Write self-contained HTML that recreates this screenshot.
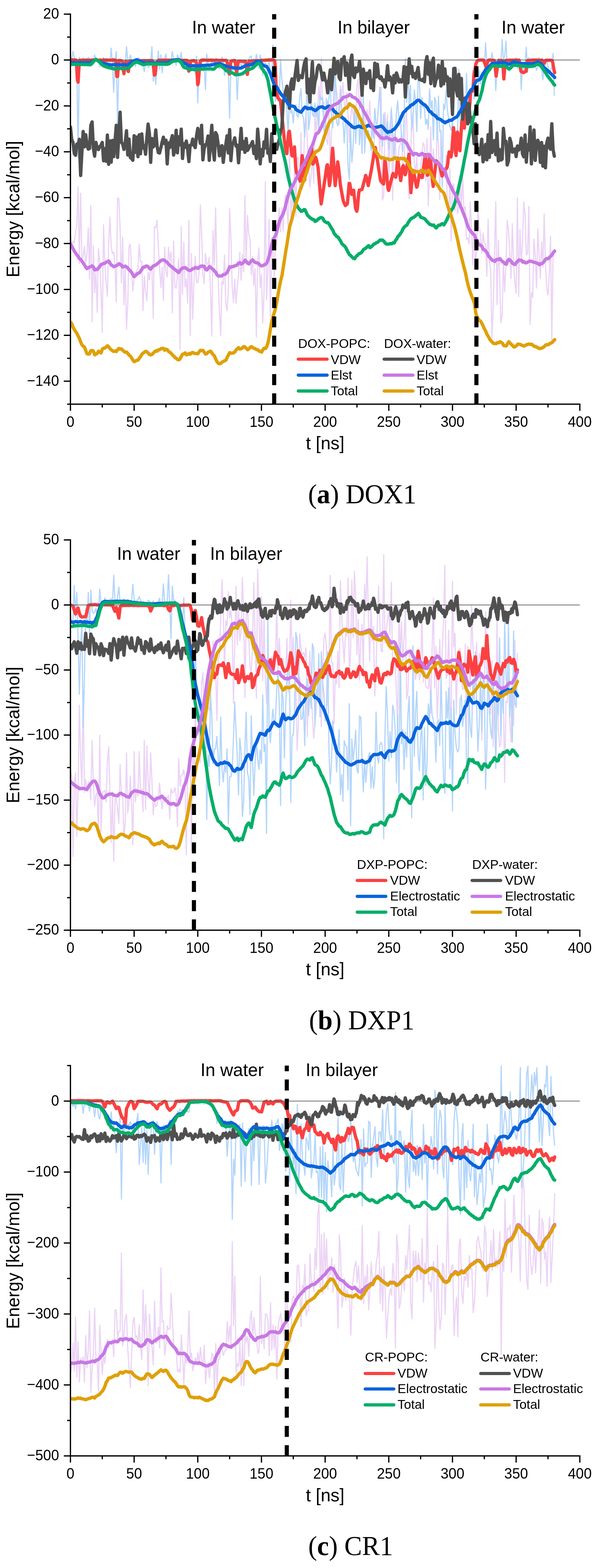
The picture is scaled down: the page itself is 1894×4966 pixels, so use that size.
<!DOCTYPE html>
<html lang="en"><head><meta charset="utf-8"><title>Interaction energies</title>
<style>
html,body{margin:0;padding:0;background:#fff}
svg{display:block}
text{font-family:"Liberation Sans",Arial,sans-serif;fill:#000}
.tk{font-size:45.2px}
.lb{font-size:56.4px}
.rg{font-size:51px}
.lg{font-size:40.7px}
.cap{font-family:"Liberation Serif","Times New Roman",serif;font-size:84px}
.ax{stroke:#000;stroke-width:4.0;fill:none}
polyline{fill:none;stroke-linejoin:round;stroke-linecap:round}
</style></head>
<body>
<svg width="1894" height="4966" viewBox="0 0 1894 4966">
<clipPath id="c0"><rect x="223.1" y="44.7" width="1633.3" height="1235.3"/></clipPath>
<g clip-path="url(#c0)">
<polyline points="223.1,738.9 227.1,775.5 231.2,764.8 235.2,769.0 239.2,733.4 243.3,716.5 247.3,591.5 251.3,834.2 255.4,612.1 259.4,818.3 263.4,813.1 267.5,780.5 271.5,832.8 275.5,803.6 279.6,722.0 283.6,883.5 287.6,651.0 291.7,1019.8 295.7,778.7 299.7,927.0 303.8,859.9 307.8,988.7 311.8,788.2 315.9,827.4 319.9,918.8 323.9,1052.3 328.0,712.0 332.0,837.8 336.0,893.2 340.1,938.9 344.1,772.7 348.1,687.4 352.2,781.6 356.2,803.3 360.2,798.4 364.3,845.8 368.3,956.6 372.3,626.7 376.4,629.2 380.4,721.8 384.4,896.2 388.5,750.5 392.5,965.0 396.5,840.9 400.6,1042.5 404.6,963.4 408.6,780.9 412.7,773.2 416.7,856.9 420.7,921.7 424.8,881.8 428.8,864.0 432.8,859.2 436.9,847.8 440.9,774.0 444.9,829.9 449.0,827.7 453.0,983.8 457.0,873.8 461.1,922.4 465.1,952.1 469.1,861.1 473.2,886.1 477.2,845.5 481.2,853.4 485.3,1008.1 489.3,718.0 493.3,721.5 497.4,697.7 501.4,779.9 505.4,849.4 509.5,910.1 513.5,846.3 517.5,951.4 521.6,782.8 525.6,860.8 529.6,877.5 533.7,782.9 537.7,824.4 541.7,797.6 545.8,990.9 549.8,762.8 553.8,909.5 557.9,912.9 561.9,873.2 565.9,819.3 570.0,1106.1 574.0,717.2 578.0,932.2 582.1,767.6 586.1,908.5 590.1,884.1 594.2,959.8 598.2,697.7 602.2,1062.1 606.3,803.0 610.3,1010.9 614.3,893.7 618.4,811.1 622.4,894.3 626.4,894.9 630.5,864.5 634.5,648.8 638.5,734.3 642.6,867.1 646.6,899.1 650.6,802.4 654.7,835.9 658.7,836.8 662.7,815.5 666.8,918.9 670.8,1064.5 674.8,730.1 678.9,839.2 682.9,658.5 686.9,855.8 691.0,882.1 695.0,986.2 699.0,1062.1 703.1,890.9 707.1,900.6 711.1,807.7 715.2,963.5 719.2,983.9 723.2,920.3 727.3,661.0 731.3,749.4 735.3,905.9 739.4,958.2 743.4,884.4 747.4,960.6 751.5,909.1 755.5,871.2 759.5,798.7 763.6,887.3 767.6,806.1 771.6,860.5 775.7,619.4 779.7,837.5 783.7,682.0 787.8,741.3 791.8,755.0 795.8,871.2 799.9,812.3 803.9,903.9 807.9,851.0 812.0,1067.0 816.0,830.9 820.0,784.9 824.1,911.4 828.1,869.2 832.1,1022.9 836.2,926.7 840.2,575.4 844.2,949.4 848.3,858.6 852.3,695.2 856.3,1002.0 860.4,806.0 864.4,784.0 868.4,876.8 872.5,773.3 876.5,775.1 880.5,705.3 884.6,658.4 888.6,734.3 892.6,658.0 896.7,732.0 900.7,651.0 904.7,617.3 908.8,662.2 912.8,722.7 916.8,476.5 920.9,688.0 924.9,628.3 928.9,657.6 933.0,527.0 937.0,685.3 941.0,500.1 945.1,498.9 949.1,609.4 953.1,420.9 957.2,598.4 961.2,526.9 965.2,403.8 969.3,367.2 973.3,450.9 977.3,520.9 981.4,592.0 985.4,559.2 989.4,486.5 993.5,580.9 997.5,351.2 1001.5,417.9 1005.6,362.4 1009.6,273.9 1013.6,327.8 1017.7,184.1 1021.7,353.4 1025.7,322.4 1029.8,434.6 1033.8,442.8 1037.8,457.5 1041.8,326.7 1045.9,538.9 1049.9,412.8 1053.9,395.5 1058.0,230.1 1062.0,252.9 1066.0,286.8 1070.1,314.6 1074.1,394.7 1078.1,271.0 1082.2,306.4 1086.2,260.8 1090.2,326.8 1094.3,344.0 1098.3,294.7 1102.3,368.1 1106.4,450.6 1110.4,377.2 1114.4,336.4 1118.5,363.9 1122.5,395.9 1126.5,370.0 1130.6,272.1 1134.6,250.2 1138.6,347.6 1142.7,297.0 1146.7,356.9 1150.7,398.2 1154.8,427.0 1158.8,364.7 1162.8,346.5 1166.9,401.9 1170.9,319.1 1174.9,388.5 1179.0,514.7 1183.0,468.8 1187.0,428.1 1191.1,396.1 1195.1,409.7 1199.1,402.0 1203.2,480.4 1207.2,275.8 1211.2,633.6 1215.3,622.7 1219.3,355.3 1223.3,423.7 1227.4,363.6 1231.4,559.7 1235.4,458.1 1239.5,338.7 1243.5,634.2 1247.5,437.4 1251.6,416.7 1255.6,548.2 1259.6,525.6 1263.7,467.9 1267.7,457.5 1271.7,417.2 1275.8,537.2 1279.8,514.7 1283.8,397.5 1287.9,353.4 1291.9,527.0 1295.9,629.2 1300.0,521.2 1304.0,385.3 1308.0,357.1 1312.1,519.8 1316.1,543.3 1320.1,497.9 1324.2,569.7 1328.2,537.9 1332.2,537.7 1336.3,486.6 1340.3,452.2 1344.3,464.0 1348.4,574.3 1352.4,438.5 1356.4,651.2 1360.5,548.8 1364.5,401.4 1368.5,581.9 1372.6,472.2 1376.6,553.3 1380.6,530.3 1384.7,403.4 1388.7,462.5 1392.7,632.0 1396.8,410.5 1400.8,539.0 1404.8,536.9 1408.9,563.1 1412.9,491.7 1416.9,647.8 1421.0,700.5 1425.0,532.8 1429.0,763.9 1433.1,592.2 1437.1,582.5 1441.1,667.4 1445.2,617.4 1449.2,677.3 1453.2,654.0 1457.3,572.2 1461.3,667.7 1465.3,550.9 1469.4,667.9 1473.4,654.3 1477.4,758.2 1481.5,753.5 1485.5,772.3 1489.5,638.8 1493.6,725.1 1497.6,838.8 1501.6,704.0 1505.7,844.9 1509.7,793.2 1513.7,662.7 1517.8,719.6 1521.8,741.8 1525.8,801.7 1529.9,738.0 1533.9,770.6 1537.9,771.8 1542.0,874.6 1546.0,694.5 1550.0,833.8 1554.1,851.4 1558.1,1071.8 1562.1,974.6 1566.2,801.8 1570.2,639.0 1574.2,964.5 1578.3,760.4 1582.3,868.2 1586.3,1022.3 1590.4,1000.9 1594.4,825.5 1598.4,923.9 1602.5,841.0 1606.5,697.0 1610.5,729.3 1614.6,807.0 1618.6,882.2 1622.6,708.3 1626.7,837.4 1630.7,896.8 1634.7,928.9 1638.8,626.7 1642.8,939.0 1646.8,726.0 1650.9,829.3 1654.9,771.9 1658.9,639.0 1663.0,679.8 1667.0,808.2 1671.0,802.8 1675.1,653.8 1679.1,1027.8 1683.1,927.0 1687.2,942.4 1691.2,757.7 1695.2,808.3 1699.3,912.1 1703.3,725.0 1707.3,802.4 1711.4,881.3 1715.4,766.3 1719.4,845.5 1723.5,678.1 1727.5,833.2 1731.5,911.2 1735.6,934.2 1739.6,866.9 1743.6,747.5 1747.7,1076.7 1751.7,811.5 1755.7,789.9" stroke="#ecd4f6" stroke-width="3.8" />
<polyline points="223.1,191.7 227.1,186.8 231.2,162.1 235.2,182.9 239.2,210.8 243.3,199.0 247.3,499.6 251.3,181.6 255.4,198.5 259.4,196.1 263.4,182.5 267.5,207.8 271.5,203.3 275.5,198.7 279.6,181.5 283.6,184.6 287.6,210.0 291.7,192.9 295.7,192.6 299.7,174.3 303.8,187.0 307.8,197.1 311.8,192.9 315.9,211.4 319.9,189.9 323.9,191.8 328.0,182.8 332.0,210.4 336.0,211.2 340.1,200.6 344.1,200.3 348.1,204.4 352.2,152.3 356.2,204.8 360.2,291.7 364.3,192.3 368.3,163.0 372.3,392.0 376.4,212.4 380.4,186.1 384.4,189.1 388.5,198.1 392.5,211.0 396.5,218.3 400.6,147.4 404.6,189.2 408.6,194.4 412.7,174.3 416.7,189.1 420.7,197.7 424.8,190.5 428.8,210.6 432.8,189.7 436.9,182.8 440.9,185.2 444.9,191.7 449.0,197.2 453.0,209.4 457.0,226.8 461.1,201.3 465.1,189.6 469.1,213.6 473.2,210.3 477.2,192.9 481.2,148.4 485.3,257.4 489.3,216.2 493.3,267.2 497.4,210.7 501.4,161.1 505.4,219.5 509.5,173.6 513.5,230.5 517.5,196.3 521.6,186.1 525.6,170.9 529.6,207.3 533.7,200.3 537.7,192.7 541.7,188.1 545.8,163.5 549.8,191.2 553.8,185.1 557.9,207.2 561.9,173.6 565.9,182.4 570.0,191.3 574.0,165.6 578.0,203.1 582.1,193.4 586.1,213.8 590.1,203.5 594.2,215.0 598.2,214.7 602.2,214.4 606.3,193.8 610.3,191.3 614.3,201.2 618.4,232.7 622.4,177.7 626.4,325.9 630.5,199.6 634.5,209.3 638.5,209.0 642.6,217.6 646.6,208.3 650.6,284.3 654.7,171.8 658.7,199.8 662.7,221.5 666.8,215.2 670.8,197.6 674.8,194.2 678.9,197.2 682.9,188.2 686.9,213.4 691.0,211.8 695.0,219.4 699.0,201.1 703.1,180.5 707.1,193.6 711.1,239.3 715.2,212.7 719.2,195.1 723.2,215.3 727.3,374.8 731.3,214.2 735.3,225.7 739.4,216.7 743.4,222.2 747.4,219.3 751.5,316.1 755.5,216.0 759.5,194.7 763.6,210.6 767.6,200.4 771.6,200.5 775.7,213.6 779.7,208.1 783.7,199.4 787.8,187.1 791.8,180.1 795.8,177.3 799.9,209.7 803.9,186.7 807.9,195.0 812.0,171.6 816.0,193.2 820.0,215.9 824.1,174.3 828.1,195.6 832.1,238.4 836.2,203.4 840.2,199.0 844.2,204.1 848.3,236.4 852.3,185.8 856.3,229.3 860.4,246.5 864.4,142.5 868.4,249.4 872.5,320.7 876.5,262.6 880.5,320.6 884.6,308.5 888.6,189.7 892.6,252.6 896.7,283.8 900.7,313.9 904.7,301.1 908.8,350.3 912.8,435.1 916.8,282.9 920.9,357.8 924.9,349.2 928.9,389.2 933.0,336.5 937.0,332.4 941.0,367.2 945.1,371.0 949.1,307.8 953.1,280.7 957.2,364.2 961.2,372.1 965.2,434.3 969.3,360.9 973.3,244.1 977.3,410.9 981.4,380.1 985.4,293.3 989.4,361.2 993.5,369.1 997.5,326.8 1001.5,369.7 1005.6,332.9 1009.6,414.2 1013.6,299.5 1017.7,315.6 1021.7,308.4 1025.7,412.6 1029.8,438.5 1033.8,311.8 1037.8,331.7 1041.8,313.4 1045.9,259.8 1049.9,375.5 1053.9,404.7 1058.0,321.2 1062.0,206.1 1066.0,387.5 1070.1,398.1 1074.1,362.6 1078.1,284.1 1082.2,352.0 1086.2,380.4 1090.2,452.0 1094.3,384.2 1098.3,382.6 1102.3,528.8 1106.4,568.0 1110.4,405.6 1114.4,514.2 1118.5,463.2 1122.5,340.1 1126.5,453.8 1130.6,360.1 1134.6,349.1 1138.6,458.3 1142.7,384.9 1146.7,486.1 1150.7,300.3 1154.8,483.4 1158.8,418.6 1162.8,419.0 1166.9,414.0 1170.9,434.1 1174.9,475.0 1179.0,400.7 1183.0,438.0 1187.0,344.5 1191.1,393.0 1195.1,389.5 1199.1,330.7 1203.2,276.2 1207.2,409.9 1211.2,464.2 1215.3,360.7 1219.3,421.7 1223.3,444.3 1227.4,385.6 1231.4,473.7 1235.4,401.4 1239.5,346.2 1243.5,404.0 1247.5,508.5 1251.6,438.6 1255.6,356.4 1259.6,319.3 1263.7,383.9 1267.7,364.4 1271.7,436.4 1275.8,479.0 1279.8,377.9 1283.8,186.5 1287.9,324.2 1291.9,211.2 1295.9,333.1 1300.0,269.3 1304.0,413.1 1308.0,371.8 1312.1,284.9 1316.1,320.5 1320.1,416.3 1324.2,249.7 1328.2,250.8 1332.2,375.5 1336.3,308.7 1340.3,338.5 1344.3,342.7 1348.4,394.1 1352.4,377.9 1356.4,409.4 1360.5,281.5 1364.5,341.8 1368.5,318.8 1372.6,442.8 1376.6,308.8 1380.6,321.2 1384.7,443.8 1388.7,304.1 1392.7,416.7 1396.8,419.9 1400.8,592.5 1404.8,329.9 1408.9,345.4 1412.9,284.0 1416.9,349.7 1421.0,375.1 1425.0,399.9 1429.0,413.1 1433.1,384.1 1437.1,437.3 1441.1,450.5 1445.2,421.4 1449.2,414.5 1453.2,219.4 1457.3,386.9 1461.3,416.0 1465.3,314.6 1469.4,353.6 1473.4,406.2 1477.4,232.1 1481.5,325.5 1485.5,317.2 1489.5,337.4 1493.6,325.3 1497.6,224.2 1501.6,313.4 1505.7,274.6 1509.7,293.6 1513.7,294.4 1517.8,222.8 1521.8,266.7 1525.8,228.8 1529.9,286.7 1533.9,221.0 1537.9,135.2 1542.0,205.2 1546.0,216.9 1550.0,224.7 1554.1,196.0 1558.1,167.0 1562.1,189.6 1566.2,201.6 1570.2,286.8 1574.2,225.9 1578.3,186.1 1582.3,203.6 1586.3,206.2 1590.4,125.4 1594.4,190.7 1598.4,177.4 1602.5,130.3 1606.5,209.8 1610.5,186.3 1614.6,225.4 1618.6,199.7 1622.6,204.3 1626.7,196.8 1630.7,187.1 1634.7,183.2 1638.8,217.6 1642.8,204.6 1646.8,188.8 1650.9,284.3 1654.9,201.4 1658.9,223.1 1663.0,196.2 1667.0,149.8 1671.0,229.4 1675.1,182.3 1679.1,190.2 1683.1,185.3 1687.2,185.6 1691.2,201.9 1695.2,206.8 1699.3,222.6 1703.3,211.7 1707.3,183.0 1711.4,203.8 1715.4,215.7 1719.4,252.6 1723.5,209.2 1727.5,206.1 1731.5,191.6 1735.6,210.6 1739.6,232.2 1743.6,221.4 1747.7,211.8 1751.7,169.4 1755.7,301.5" stroke="#b4d6fa" stroke-width="3.8" />
<polyline points="223.1,189.4 225.1,188.9 227.1,190.0 229.1,189.3 231.2,190.0 233.2,190.1 235.2,189.2 237.2,190.1 239.2,190.3 241.2,190.1 243.3,218.8 245.3,254.0 247.3,260.2 249.3,226.2 251.3,191.3 253.3,190.6 255.3,191.0 257.4,191.1 259.4,191.1 261.4,190.5 263.4,190.5 265.4,190.6 267.4,190.4 269.5,191.0 271.5,190.5 273.5,190.3 275.5,190.1 277.5,190.8 279.5,190.6 281.6,191.3 283.6,190.7 285.6,191.4 287.6,191.1 289.6,190.0 291.6,191.4 293.6,190.1 295.7,190.3 297.7,190.6 299.7,190.2 301.7,190.2 303.7,190.0 305.7,190.5 307.8,190.7 309.8,190.7 311.8,190.9 313.8,190.5 315.8,190.8 317.8,190.0 319.8,191.2 321.9,190.9 323.9,190.9 325.9,191.3 327.9,189.6 329.9,191.5 331.9,190.6 334.0,190.7 336.0,189.7 338.0,191.3 340.0,190.0 342.0,190.8 344.0,190.5 346.0,190.7 348.1,190.2 350.1,190.9 352.1,190.5 354.1,190.3 356.1,189.6 358.1,191.5 360.2,189.8 362.2,190.0 364.2,190.6 366.2,190.3 368.2,216.3 370.2,242.4 372.3,241.9 374.3,215.5 376.3,191.6 378.3,191.9 380.3,192.3 382.3,193.0 384.3,192.2 386.4,194.3 388.4,196.2 390.4,220.6 392.4,233.3 394.4,219.1 396.4,205.4 398.5,194.3 400.5,196.1 402.5,197.8 404.5,221.6 406.5,226.4 408.5,208.3 410.5,193.6 412.6,194.2 414.6,192.7 416.6,193.3 418.6,193.8 420.6,194.0 422.6,193.3 424.7,193.7 426.7,193.8 428.7,193.8 430.7,193.4 432.7,192.6 434.7,193.2 436.7,193.6 438.8,192.6 440.8,192.8 442.8,192.4 444.8,192.2 446.8,192.7 448.8,192.6 450.9,192.5 452.9,192.9 454.9,192.1 456.9,191.7 458.9,192.2 460.9,192.3 463.0,192.2 465.0,192.4 467.0,192.3 469.0,192.1 471.0,192.2 473.0,192.0 475.0,192.4 477.1,191.5 479.1,191.5 481.1,192.0 483.1,192.4 485.1,203.5 487.1,220.1 489.2,237.9 491.2,236.1 493.2,219.4 495.2,202.0 497.2,195.7 499.2,193.2 501.2,192.2 503.3,190.0 505.3,190.4 507.3,190.6 509.3,191.1 511.3,190.8 513.3,190.7 515.4,190.3 517.4,190.5 519.4,190.9 521.4,190.5 523.4,190.2 525.4,190.7 527.5,190.9 529.5,190.9 531.5,190.4 533.5,190.5 535.5,191.2 537.5,190.6 539.5,191.0 541.6,191.2 543.6,190.3 545.6,190.5 547.6,191.2 549.6,190.9 551.6,190.7 553.7,191.3 555.7,191.1 557.7,190.7 559.7,191.8 561.7,190.9 563.7,190.8 565.7,190.9 567.8,191.7 569.8,191.0 571.8,191.6 573.8,190.9 575.8,191.0 577.8,191.1 579.9,191.6 581.9,191.5 583.9,190.9 585.9,191.7 587.9,191.1 589.9,191.1 591.9,191.5 594.0,192.1 596.0,209.7 598.0,225.3 600.0,221.9 602.0,206.4 604.0,193.3 606.1,193.0 608.1,193.0 610.1,192.4 612.1,192.8 614.1,191.8 616.1,192.8 618.2,193.8 620.2,194.7 622.2,199.2 624.2,233.3 626.2,268.0 628.2,262.3 630.2,235.7 632.3,209.5 634.3,194.7 636.3,193.7 638.3,190.4 640.3,190.9 642.3,190.0 644.4,190.8 646.4,189.8 648.4,190.5 650.4,190.4 652.4,190.3 654.4,190.9 656.4,191.1 658.5,191.6 660.5,190.2 662.5,191.0 664.5,191.0 666.5,190.8 668.5,189.9 670.6,191.6 672.6,190.7 674.6,191.1 676.6,190.7 678.6,191.7 680.6,191.1 682.6,190.6 684.7,190.3 686.7,190.3 688.7,191.4 690.7,191.1 692.7,191.2 694.7,191.7 696.8,191.8 698.8,190.9 700.8,191.1 702.8,191.3 704.8,190.7 706.8,191.7 708.9,191.1 710.9,191.3 712.9,191.4 714.9,191.2 716.9,191.3 718.9,195.9 720.9,202.0 723.0,211.6 725.0,231.5 727.0,234.4 729.0,214.4 731.0,194.7 733.0,193.2 735.1,193.5 737.1,192.2 739.1,192.7 741.1,192.2 743.1,191.5 745.1,197.8 747.1,213.8 749.2,230.0 751.2,215.7 753.2,200.9 755.2,193.6 757.2,193.7 759.2,194.3 761.3,193.4 763.3,193.8 765.3,194.3 767.3,193.7 769.3,194.4 771.3,194.2 773.3,193.7 775.4,194.5 777.4,193.8 779.4,201.8 781.4,218.0 783.4,235.7 785.4,218.2 787.5,201.8 789.5,193.9 791.5,193.3 793.5,193.4 795.5,194.2 797.5,192.9 799.6,192.8 801.6,193.3 803.6,192.4 805.6,193.3 807.6,192.8 809.6,192.1 811.6,191.9 813.7,191.8 815.7,192.7 817.7,192.9 819.7,191.9 821.7,192.5 823.7,191.9 825.8,192.2 827.8,191.1 829.8,191.1 831.8,191.1 833.8,191.2 835.8,191.1 837.8,191.1 839.9,190.7 841.9,190.6 843.9,190.4 845.9,190.7 847.9,189.6 849.9,190.2 852.0,189.6 854.0,189.5 856.0,190.3 858.0,190.5 860.0,189.1 862.0,189.7 864.0,189.4 866.1,190.1 868.1,190.4 870.1,193.0 872.1,212.6 874.1,266.9 876.1,284.9 878.2,304.0 880.2,309.8 882.2,312.0 884.2,315.0 886.2,316.5 888.2,318.2 890.3,336.6 892.3,359.1 894.3,379.8 896.3,400.6 898.3,421.2 900.3,441.2 902.3,454.6 904.4,467.3 906.4,478.8 908.4,486.6 910.4,464.0 912.4,440.9 914.4,418.6 916.5,415.8 918.5,435.2 920.5,454.4 922.5,473.9 924.5,492.6 926.5,494.2 928.5,484.9 930.6,474.8 932.6,465.3 934.6,497.2 936.6,528.8 938.6,545.4 940.6,549.4 942.7,554.2 944.7,558.6 946.7,563.0 948.7,568.4 950.7,573.6 952.7,567.3 954.8,529.6 956.8,493.0 958.8,507.1 960.8,531.3 962.8,555.4 964.8,570.3 966.8,556.0 968.9,544.0 970.9,529.3 972.9,521.4 974.9,516.3 976.9,511.0 978.9,505.9 981.0,501.4 983.0,487.9 985.0,471.7 987.0,467.7 989.0,494.6 991.0,519.8 993.0,517.3 995.1,510.3 997.1,505.1 999.1,497.7 1001.1,500.7 1003.1,509.1 1005.1,518.4 1007.2,528.6 1009.2,551.6 1011.2,575.0 1013.2,599.0 1015.2,623.8 1017.2,645.7 1019.2,633.6 1021.3,619.7 1023.3,606.2 1025.3,593.1 1027.3,579.2 1029.3,566.2 1031.3,552.6 1033.4,537.3 1035.4,523.7 1037.4,521.9 1039.4,543.8 1041.4,566.1 1043.4,587.9 1045.5,575.4 1047.5,550.0 1049.5,522.6 1051.5,495.0 1053.5,469.4 1055.5,494.8 1057.5,530.2 1059.6,565.3 1061.6,587.7 1063.6,568.9 1065.6,550.4 1067.6,530.9 1069.6,512.8 1071.7,525.7 1073.7,544.0 1075.7,563.3 1077.7,582.8 1079.7,595.5 1081.7,606.7 1083.7,617.5 1085.8,628.9 1087.8,638.2 1089.8,642.6 1091.8,646.7 1093.8,651.1 1095.8,649.1 1097.9,647.5 1099.9,646.0 1101.9,627.5 1103.9,604.5 1105.9,580.8 1107.9,581.5 1109.9,594.2 1112.0,607.9 1114.0,615.8 1116.0,609.6 1118.0,605.2 1120.0,602.3 1122.0,621.1 1124.1,639.7 1126.1,659.2 1128.1,664.9 1130.1,669.0 1132.1,658.8 1134.1,635.6 1136.2,611.7 1138.2,602.1 1140.2,602.1 1142.2,601.2 1144.2,600.6 1146.2,600.3 1148.2,594.6 1150.3,586.1 1152.3,578.0 1154.3,571.3 1156.3,563.7 1158.3,555.6 1160.3,559.9 1162.4,569.5 1164.4,578.0 1166.4,587.7 1168.4,577.4 1170.4,567.3 1172.4,557.4 1174.4,547.0 1176.5,536.2 1178.5,523.7 1180.5,512.0 1182.5,500.1 1184.5,488.6 1186.5,476.0 1188.6,467.2 1190.6,478.9 1192.6,490.5 1194.6,503.0 1196.6,515.7 1198.6,529.1 1200.6,541.8 1202.7,554.9 1204.7,568.4 1206.7,574.4 1208.7,575.8 1210.7,579.0 1212.7,580.4 1214.8,582.8 1216.8,549.0 1218.8,506.6 1220.8,516.1 1222.8,536.3 1224.8,556.5 1226.9,576.6 1228.9,597.6 1230.9,603.1 1232.9,594.9 1234.9,587.7 1236.9,578.7 1238.9,570.7 1241.0,563.6 1243.0,555.0 1245.0,549.3 1247.0,552.4 1249.0,555.0 1251.0,558.7 1253.1,561.3 1255.1,553.7 1257.1,527.3 1259.1,501.3 1261.1,513.7 1263.1,528.5 1265.1,544.7 1267.2,558.6 1269.2,571.9 1271.2,557.6 1273.2,542.4 1275.2,528.2 1277.2,524.4 1279.3,533.8 1281.3,544.0 1283.3,553.5 1285.3,546.9 1287.3,535.4 1289.3,523.5 1291.3,510.7 1293.4,499.7 1295.4,488.3 1297.4,525.1 1299.4,579.5 1301.4,610.1 1303.4,587.0 1305.5,563.8 1307.5,541.0 1309.5,540.6 1311.5,551.5 1313.5,562.1 1315.5,573.2 1317.6,583.1 1319.6,593.0 1321.6,590.3 1323.6,577.9 1325.6,566.6 1327.6,553.5 1329.6,555.2 1331.7,557.3 1333.7,559.2 1335.7,562.3 1337.7,561.7 1339.7,545.8 1341.7,528.5 1343.8,513.2 1345.8,497.2 1347.8,489.9 1349.8,512.2 1351.8,532.6 1353.8,555.1 1355.8,550.9 1357.9,531.1 1359.9,510.2 1361.9,491.4 1363.9,510.0 1365.9,531.8 1367.9,552.6 1370.0,574.3 1372.0,590.4 1374.0,573.3 1376.0,556.0 1378.0,539.0 1380.0,521.7 1382.0,509.4 1384.1,512.1 1386.1,514.4 1388.1,516.5 1390.1,517.6 1392.1,523.0 1394.1,531.4 1396.2,541.0 1398.2,550.5 1400.2,557.5 1402.2,553.0 1404.2,549.9 1406.2,546.2 1408.3,542.1 1410.3,537.7 1412.3,535.6 1414.3,532.9 1416.3,529.7 1418.3,516.8 1420.3,496.6 1422.4,481.2 1424.4,486.6 1426.4,491.6 1428.4,497.0 1430.4,485.0 1432.4,458.6 1434.5,431.3 1436.5,404.4 1438.5,426.3 1440.5,453.6 1442.5,481.0 1444.5,492.5 1446.5,455.2 1448.6,418.4 1450.6,427.5 1452.6,447.2 1454.6,466.7 1456.6,477.2 1458.6,446.3 1460.7,415.2 1462.7,385.9 1464.7,377.5 1466.7,386.7 1468.7,396.6 1470.7,405.7 1472.8,386.2 1474.8,363.4 1476.8,340.1 1478.8,326.2 1480.8,337.1 1482.8,348.2 1484.8,358.5 1486.9,342.9 1488.9,309.8 1490.9,284.8 1492.9,286.0 1494.9,287.0 1496.9,288.4 1499.0,269.5 1501.0,240.9 1503.0,227.9 1505.0,215.8 1507.0,203.6 1509.0,197.2 1511.0,194.9 1513.1,192.4 1515.1,190.4 1517.1,190.4 1519.1,190.3 1521.1,189.8 1523.1,190.2 1525.2,190.2 1527.2,190.6 1529.2,189.9 1531.2,190.5 1533.2,193.3 1535.2,200.2 1537.2,204.8 1539.3,210.6 1541.3,205.9 1543.3,199.5 1545.3,194.3 1547.3,190.5 1549.3,190.8 1551.4,189.8 1553.4,190.4 1555.4,190.6 1557.4,191.3 1559.4,190.5 1561.4,190.9 1563.5,191.4 1565.5,191.4 1567.5,204.5 1569.5,224.7 1571.5,241.0 1573.5,226.1 1575.5,212.5 1577.6,198.5 1579.6,191.3 1581.6,191.3 1583.6,191.9 1585.6,191.4 1587.6,191.1 1589.7,191.5 1591.7,192.0 1593.7,216.5 1595.7,250.0 1597.7,225.6 1599.7,201.1 1601.7,191.4 1603.8,191.4 1605.8,192.0 1607.8,191.1 1609.8,191.3 1611.8,191.3 1613.8,191.0 1615.9,190.2 1617.9,191.6 1619.9,191.7 1621.9,190.6 1623.9,191.2 1625.9,190.3 1627.9,191.2 1630.0,191.0 1632.0,190.4 1634.0,190.3 1636.0,190.4 1638.0,190.4 1640.0,190.6 1642.1,190.7 1644.1,190.5 1646.1,200.9 1648.1,215.6 1650.1,226.1 1652.1,227.3 1654.2,228.4 1656.2,229.6 1658.2,229.9 1660.2,228.9 1662.2,227.7 1664.2,225.7 1666.2,225.7 1668.3,208.3 1670.3,192.1 1672.3,191.0 1674.3,191.9 1676.3,191.8 1678.3,191.5 1680.4,191.3 1682.4,191.1 1684.4,191.0 1686.4,191.0 1688.4,191.2 1690.4,189.9 1692.4,190.8 1694.5,190.6 1696.5,190.0 1698.5,190.4 1700.5,190.5 1702.5,190.6 1704.5,189.9 1706.6,191.1 1708.6,191.0 1710.6,190.5 1712.6,191.4 1714.6,190.8 1716.6,190.0 1718.6,192.2 1720.7,196.4 1722.7,200.6 1724.7,197.6 1726.7,192.5 1728.7,190.8 1730.7,191.0 1732.8,190.8 1734.8,190.8 1736.8,191.0 1738.8,191.2 1740.8,190.6 1742.8,190.6 1744.9,191.0 1746.9,191.3 1748.9,191.8 1750.9,199.0 1752.9,211.5 1754.9,223.3 1756.9,230.1" stroke="#fb4141" stroke-width="10.5" />
<path d="M223.1 190.0H1836.4" stroke="#505050" stroke-width="2" fill="none"/>
<polyline points="223.1,401.7 227.1,441.9 231.2,451.1 235.2,486.4 239.2,491.8 243.3,456.3 247.3,458.1 251.3,441.1 255.4,555.8 259.4,480.6 263.4,416.4 267.5,465.0 271.5,426.6 275.5,458.3 279.6,472.3 283.6,470.5 287.6,397.1 291.7,386.1 295.7,469.3 299.7,494.4 303.8,450.9 307.8,469.2 311.8,473.8 315.9,464.4 319.9,459.9 323.9,451.0 328.0,509.3 332.0,470.5 336.0,510.8 340.1,427.8 344.1,520.3 348.1,446.2 352.2,513.5 356.2,444.8 360.2,496.0 364.3,447.2 368.3,396.7 372.3,498.7 376.4,429.6 380.4,355.3 384.4,450.8 388.5,455.9 392.5,473.2 396.5,453.4 400.6,414.0 404.6,490.9 408.6,440.4 412.7,498.8 416.7,502.0 420.7,507.7 424.8,429.7 428.8,482.5 432.8,434.1 436.9,496.2 440.9,426.8 444.9,487.1 449.0,424.0 453.0,468.9 457.0,461.2 461.1,488.6 465.1,436.2 469.1,392.9 473.2,423.1 477.2,514.2 481.2,438.7 485.3,465.4 489.3,459.2 493.3,411.5 497.4,462.5 501.4,483.3 505.4,484.7 509.5,468.1 513.5,450.0 517.5,434.4 521.6,455.2 525.6,443.9 529.6,519.1 533.7,452.7 537.7,467.5 541.7,445.7 545.8,429.6 549.8,491.0 553.8,472.8 557.9,412.6 561.9,483.9 565.9,433.1 570.0,458.5 574.0,409.1 578.0,502.0 582.1,455.2 586.1,466.5 590.1,446.6 594.2,471.7 598.2,511.8 602.2,459.9 606.3,459.3 610.3,440.5 614.3,459.5 618.4,467.6 622.4,430.7 626.4,406.6 630.5,429.8 634.5,453.9 638.5,396.8 642.6,506.3 646.6,471.4 650.6,457.7 654.7,456.4 658.7,430.8 662.7,507.8 666.8,447.4 670.8,396.8 674.8,473.9 678.9,506.9 682.9,419.7 686.9,427.8 691.0,457.7 695.0,493.5 699.0,464.4 703.1,461.3 707.1,514.2 711.1,478.0 715.2,457.9 719.2,430.0 723.2,484.5 727.3,410.3 731.3,508.8 735.3,459.1 739.4,450.9 743.4,436.6 747.4,462.7 751.5,460.0 755.5,515.5 759.5,462.2 763.6,406.6 767.6,472.0 771.6,448.6 775.7,482.6 779.7,438.7 783.7,476.4 787.8,470.0 791.8,461.4 795.8,457.4 799.9,448.2 803.9,486.4 807.9,463.0 812.0,502.3 816.0,409.0 820.0,454.9 824.1,519.1 828.1,474.0 832.1,494.1 836.2,449.3 840.2,468.5 844.2,409.6 848.3,485.3 852.3,476.2 856.3,511.6 860.4,423.4 864.4,479.7 868.4,481.2 872.5,455.4 876.5,472.9 880.5,455.5 884.6,442.1 888.6,411.8 892.6,406.6 896.7,323.5 900.7,309.1 904.7,289.2 908.8,273.0 912.8,312.0 916.8,343.0 920.9,264.8 924.9,249.7 928.9,282.4 933.0,250.1 937.0,221.0 941.0,191.4 945.1,254.8 949.1,240.3 953.1,239.7 957.2,246.5 961.2,215.9 965.2,196.0 969.3,186.5 973.3,294.1 977.3,250.7 981.4,323.5 985.4,255.6 989.4,196.3 993.5,294.1 997.5,258.5 1001.5,245.2 1005.6,214.3 1009.6,206.1 1013.6,210.5 1017.7,230.5 1021.7,253.0 1025.7,231.5 1029.8,253.5 1033.8,258.9 1037.8,294.1 1041.8,254.5 1045.9,221.3 1049.9,284.3 1053.9,236.5 1058.0,184.4 1062.0,233.7 1066.0,198.3 1070.1,195.5 1074.1,245.6 1078.1,252.9 1082.2,187.9 1086.2,189.0 1090.2,179.6 1094.3,238.6 1098.3,198.9 1102.3,225.1 1106.4,283.1 1110.4,193.5 1114.4,174.3 1118.5,238.2 1122.5,245.6 1126.5,215.3 1130.6,227.6 1134.6,220.5 1138.6,193.9 1142.7,233.8 1146.7,301.8 1150.7,219.0 1154.8,241.1 1158.8,264.7 1162.8,231.7 1166.9,248.3 1170.9,223.9 1174.9,278.5 1179.0,254.1 1183.0,286.8 1187.0,199.9 1191.1,244.1 1195.1,203.6 1199.1,240.7 1203.2,248.8 1207.2,243.1 1211.2,255.4 1215.3,252.8 1219.3,275.7 1223.3,250.9 1227.4,208.0 1231.4,253.6 1235.4,243.5 1239.5,253.6 1243.5,294.1 1247.5,239.0 1251.6,262.6 1255.6,231.0 1259.6,243.2 1263.7,260.0 1267.7,252.3 1271.7,259.7 1275.8,256.8 1279.8,210.9 1283.8,307.3 1287.9,213.4 1291.9,262.7 1295.9,186.5 1300.0,232.1 1304.0,210.1 1308.0,243.8 1312.1,232.7 1316.1,248.5 1320.1,230.0 1324.2,213.7 1328.2,251.9 1332.2,252.5 1336.3,255.0 1340.3,250.1 1344.3,259.0 1348.4,196.2 1352.4,179.2 1356.4,235.4 1360.5,198.3 1364.5,265.0 1368.5,201.7 1372.6,184.1 1376.6,272.2 1380.6,253.0 1384.7,246.8 1388.7,206.3 1392.7,215.3 1396.8,272.3 1400.8,195.0 1404.8,265.7 1408.9,218.3 1412.9,255.3 1416.9,243.5 1421.0,303.9 1425.0,249.8 1429.0,273.8 1433.1,362.6 1437.1,217.1 1441.1,216.3 1445.2,284.3 1449.2,303.9 1453.2,235.4 1457.3,314.1 1461.3,248.4 1465.3,377.3 1469.4,313.7 1473.4,310.1 1477.4,345.9 1481.5,392.0 1485.5,328.4 1489.5,386.4 1493.6,372.4 1497.6,406.7 1501.6,455.5 1505.7,392.0 1509.7,464.2 1513.7,472.1 1517.8,489.8 1521.8,473.6 1525.8,440.9 1529.9,512.5 1533.9,499.6 1537.9,457.4 1542.0,506.2 1546.0,426.6 1550.0,498.3 1554.1,384.6 1558.1,482.9 1562.1,457.9 1566.2,445.1 1570.2,490.0 1574.2,421.4 1578.3,509.8 1582.3,473.6 1586.3,506.9 1590.4,504.1 1594.4,406.6 1598.4,449.2 1602.5,447.3 1606.5,522.6 1610.5,509.3 1614.6,437.9 1618.6,452.2 1622.6,481.8 1626.7,477.4 1630.7,471.6 1634.7,495.9 1638.8,462.3 1642.8,475.4 1646.8,468.4 1650.9,437.4 1654.9,487.5 1658.9,496.5 1663.0,427.6 1667.0,513.5 1671.0,458.5 1675.1,475.1 1679.1,401.7 1683.1,519.1 1687.2,463.2 1691.2,411.8 1695.2,508.1 1699.3,452.2 1703.3,444.1 1707.3,457.6 1711.4,514.2 1715.4,451.2 1719.4,526.3 1723.5,463.0 1727.5,531.4 1731.5,454.0 1735.6,437.4 1739.6,467.0 1743.6,472.6 1747.7,392.0 1751.7,473.8 1755.7,494.7" stroke="#505050" stroke-width="10.5" />
<polyline points="223.1,198.8 227.1,198.5 231.2,199.1 235.2,198.8 239.2,198.5 243.3,198.7 247.3,198.9 251.4,198.8 255.4,198.5 259.4,198.8 263.5,199.0 267.5,198.5 271.5,199.0 275.6,198.6 279.6,198.7 283.6,198.8 287.7,198.5 291.7,196.5 295.8,193.5 299.8,190.0 303.8,188.2 307.9,190.9 311.9,193.4 315.9,195.5 320.0,197.5 324.0,199.5 328.0,199.9 332.1,201.2 336.1,202.5 340.2,203.1 344.2,204.8 348.2,205.3 352.3,205.4 356.3,205.2 360.3,204.8 364.4,205.2 368.4,204.6 372.4,204.9 376.5,205.4 380.5,205.1 384.6,205.5 388.6,204.9 392.6,205.1 396.7,205.0 400.7,205.5 404.7,204.9 408.8,202.9 412.8,199.2 416.8,196.4 420.9,193.7 424.9,192.1 429.0,190.7 433.0,189.3 437.0,190.8 441.1,193.3 445.1,195.5 449.1,196.9 453.2,198.2 457.2,199.0 461.2,198.9 465.3,198.9 469.3,198.8 473.4,198.6 477.4,198.7 481.4,199.0 485.5,198.6 489.5,199.0 493.5,198.9 497.6,198.7 501.6,198.5 505.7,198.6 509.7,198.8 513.7,198.6 517.8,199.0 521.8,198.9 525.8,198.5 529.9,198.7 533.9,198.2 537.9,195.7 542.0,193.4 546.0,191.2 550.1,190.2 554.1,189.9 558.1,189.6 562.2,189.3 566.2,189.0 570.2,191.2 574.3,194.0 578.3,196.7 582.3,199.0 586.4,201.1 590.4,202.9 594.5,205.9 598.5,207.9 602.5,208.1 606.6,208.9 610.6,208.1 614.6,208.9 618.7,208.5 622.7,208.2 626.7,208.3 630.8,207.9 634.8,208.3 638.9,207.0 642.9,207.4 646.9,207.4 651.0,206.9 655.0,206.6 659.0,206.2 663.1,206.9 667.1,205.6 671.1,205.5 675.2,204.7 679.2,203.2 683.3,202.0 687.3,202.2 691.3,201.5 695.4,201.4 699.4,201.9 703.4,204.4 707.5,206.3 711.5,207.4 715.5,209.9 719.6,210.5 723.6,211.2 727.7,213.0 731.7,212.8 735.7,213.8 739.8,215.0 743.8,215.1 747.8,215.9 751.9,215.3 755.9,216.0 759.9,215.7 764.0,215.5 768.0,213.1 772.1,211.0 776.1,209.4 780.1,206.3 784.2,206.2 788.2,205.4 792.2,205.5 796.3,204.7 800.3,202.5 804.3,200.6 808.4,198.1 812.4,195.6 816.5,193.9 820.5,193.9 824.5,196.2 828.6,201.4 832.6,206.5 836.6,207.8 840.7,209.9 844.7,210.7 848.7,216.7 852.8,224.5 856.8,233.1 860.9,246.6 864.9,257.9 868.9,269.1 873.0,273.4 877.0,275.4 881.0,284.5 885.1,290.6 889.1,296.5 893.1,301.7 897.2,305.7 901.2,312.3 905.3,317.8 909.3,323.8 913.3,330.5 917.4,334.1 921.4,335.8 925.4,335.7 929.5,336.8 933.5,338.7 937.5,346.5 941.6,349.5 945.6,351.3 949.7,353.6 953.7,355.1 957.7,349.6 961.8,343.9 965.8,339.4 969.8,340.5 973.9,344.2 977.9,342.8 981.9,343.8 986.0,342.2 990.0,345.7 994.1,347.7 998.1,350.3 1002.1,348.1 1006.2,344.3 1010.2,340.5 1014.2,339.2 1018.3,338.6 1022.3,338.8 1026.4,342.0 1030.4,342.9 1034.4,340.4 1038.5,337.3 1042.5,336.1 1046.5,339.5 1050.6,341.6 1054.6,346.9 1058.6,352.7 1062.7,355.4 1066.7,360.4 1070.8,362.4 1074.8,365.0 1078.8,369.5 1082.9,371.5 1086.9,375.1 1090.9,377.0 1095.0,382.8 1099.0,385.7 1103.0,389.3 1107.1,393.5 1111.1,396.6 1115.2,401.2 1119.2,403.3 1123.2,404.6 1127.3,403.3 1131.3,401.4 1135.3,399.8 1139.4,399.9 1143.4,402.8 1147.4,403.3 1151.5,404.3 1155.5,402.2 1159.6,401.6 1163.6,398.2 1167.6,396.8 1171.7,399.4 1175.7,399.4 1179.7,402.8 1183.8,403.0 1187.8,403.9 1191.8,403.2 1195.9,401.9 1199.9,401.4 1204.0,400.1 1208.0,398.7 1212.0,402.6 1216.1,406.7 1220.1,412.2 1224.1,415.7 1228.2,419.4 1232.2,416.7 1236.2,417.1 1240.3,415.7 1244.3,411.0 1248.4,409.5 1252.4,405.0 1256.4,399.3 1260.5,393.9 1264.5,385.4 1268.5,376.9 1272.6,367.6 1276.6,357.9 1280.6,353.6 1284.7,350.3 1288.7,344.6 1292.8,342.0 1296.8,338.7 1300.8,334.0 1304.9,331.5 1308.9,330.0 1312.9,325.3 1317.0,323.1 1321.0,318.6 1325.0,317.2 1329.1,318.9 1333.1,323.8 1337.2,326.8 1341.2,330.5 1345.2,331.7 1349.3,336.3 1353.3,340.7 1357.3,347.8 1361.4,353.4 1365.4,354.8 1369.4,360.8 1373.5,363.5 1377.5,366.0 1381.6,369.6 1385.6,375.4 1389.6,376.3 1393.7,377.9 1397.7,379.7 1401.7,384.2 1405.8,385.7 1409.8,388.9 1413.8,385.9 1417.9,384.8 1421.9,381.5 1426.0,380.7 1430.0,381.0 1434.0,378.0 1438.1,374.7 1442.1,372.3 1446.1,370.6 1450.2,365.9 1454.2,357.0 1458.2,352.0 1462.3,343.7 1466.3,336.7 1470.4,329.0 1474.4,318.2 1478.4,307.7 1482.5,300.5 1486.5,292.4 1490.5,287.4 1494.6,282.1 1498.6,278.6 1502.6,267.0 1506.7,259.8 1510.7,254.0 1514.8,253.9 1518.8,251.7 1522.8,248.4 1526.9,238.8 1530.9,232.6 1534.9,225.9 1539.0,219.9 1543.0,215.8 1547.1,212.9 1551.1,208.9 1555.1,205.1 1559.2,201.0 1563.2,200.6 1567.2,200.0 1571.3,199.6 1575.3,198.7 1579.3,198.5 1583.4,198.2 1587.4,197.9 1591.5,197.8 1595.5,197.4 1599.5,198.8 1603.6,199.9 1607.6,201.8 1611.6,203.4 1615.7,201.9 1619.7,199.6 1623.7,197.2 1627.8,196.5 1631.8,197.5 1635.9,197.9 1639.9,198.7 1643.9,199.7 1648.0,200.1 1652.0,200.9 1656.0,201.2 1660.1,201.3 1664.1,201.8 1668.1,201.9 1672.2,201.8 1676.2,202.1 1680.3,201.9 1684.3,202.0 1688.3,201.0 1692.4,201.4 1696.4,199.6 1700.4,197.6 1704.5,197.1 1708.5,199.1 1712.5,200.8 1716.6,205.3 1720.6,210.8 1724.7,215.5 1728.7,218.5 1732.7,222.3 1736.8,225.5 1740.8,229.0 1744.8,233.2 1748.9,237.4 1752.9,240.9 1756.9,245.5" stroke="#0a64dc" stroke-width="10.5" />
<polyline points="223.1,203.7 227.1,203.9 231.2,204.0 235.2,203.4 239.2,203.9 243.3,203.8 247.3,204.0 251.4,204.2 255.4,203.9 259.4,204.2 263.5,204.0 267.5,204.2 271.5,204.1 275.6,204.6 279.6,204.7 283.6,204.8 287.7,204.3 291.7,200.7 295.8,195.8 299.8,191.0 303.8,188.1 307.9,190.2 311.9,193.4 315.9,197.1 320.0,201.2 324.0,205.7 328.0,208.4 332.1,210.0 336.1,212.0 340.2,212.3 344.2,214.7 348.2,214.4 352.3,216.2 356.3,216.5 360.3,218.3 364.4,217.3 368.4,217.1 372.4,217.2 376.5,217.9 380.5,216.5 384.6,217.0 388.6,217.8 392.6,217.8 396.7,216.9 400.7,217.6 404.7,217.0 408.8,214.1 412.8,210.1 416.8,206.4 420.9,202.5 424.9,198.8 429.0,197.5 433.0,196.6 437.0,197.6 441.1,199.6 445.1,201.1 449.1,203.0 453.2,204.8 457.2,204.5 461.2,203.3 465.3,202.5 469.3,201.9 473.4,202.2 477.4,202.3 481.4,202.9 485.5,202.4 489.5,203.1 493.5,202.4 497.6,202.9 501.6,202.8 505.7,203.0 509.7,203.2 513.7,202.9 517.8,203.0 521.8,203.7 525.8,203.5 529.9,203.4 533.9,202.7 537.9,200.2 542.0,197.4 546.0,194.6 550.1,193.6 554.1,193.0 558.1,192.5 562.2,192.0 566.2,191.5 570.2,194.9 574.3,198.6 578.3,207.3 582.3,213.0 586.4,214.5 590.4,215.3 594.5,217.9 598.5,219.5 602.5,220.5 606.6,220.1 610.6,219.4 614.6,220.7 618.7,220.0 622.7,219.4 626.7,220.1 630.8,219.3 634.8,219.5 638.9,218.4 642.9,219.4 646.9,217.3 651.0,218.5 655.0,217.9 659.0,218.3 663.1,218.3 667.1,217.9 671.1,218.8 675.2,219.3 679.2,217.6 683.3,212.7 687.3,210.0 691.3,209.1 695.4,207.8 699.4,208.2 703.4,212.0 707.5,214.3 711.5,218.0 715.5,222.8 719.6,225.1 723.6,227.1 727.7,229.2 731.7,229.8 735.7,231.1 739.8,232.8 743.8,236.0 747.8,237.1 751.9,235.3 755.9,236.5 759.9,235.5 764.0,234.3 768.0,233.5 772.1,230.0 776.1,227.9 780.1,223.0 784.2,220.5 788.2,220.3 792.2,218.8 796.3,217.7 800.3,215.3 804.3,212.1 808.4,208.0 812.4,204.4 816.5,200.9 820.5,200.2 824.5,204.9 828.6,215.8 832.6,220.8 836.6,226.6 840.7,232.1 844.7,242.0 848.7,253.4 852.8,277.1 856.8,296.4 860.9,319.9 864.9,340.7 868.9,362.9 873.0,379.8 877.0,400.5 881.0,414.3 885.1,432.8 889.1,451.4 893.1,468.1 897.2,485.2 901.2,502.8 905.3,520.6 909.3,542.9 913.3,562.2 917.4,579.1 921.4,594.6 925.4,609.4 929.5,622.9 933.5,634.1 937.5,646.2 941.6,652.7 945.6,659.7 949.7,664.3 953.7,669.1 957.7,668.6 961.8,664.2 965.8,664.0 969.8,672.6 973.9,681.7 977.9,685.2 981.9,689.6 986.0,691.8 990.0,695.2 994.1,695.5 998.1,701.5 1002.1,699.2 1006.2,695.5 1010.2,692.4 1014.2,689.9 1018.3,689.0 1022.3,691.1 1026.4,699.4 1030.4,702.9 1034.4,705.0 1038.5,705.1 1042.5,710.2 1046.5,716.7 1050.6,724.1 1054.6,729.9 1058.6,740.0 1062.7,744.1 1066.7,749.5 1070.8,750.7 1074.8,757.9 1078.8,763.4 1082.9,772.1 1086.9,775.5 1090.9,779.0 1095.0,783.9 1099.0,792.2 1103.0,799.8 1107.1,806.7 1111.1,809.7 1115.2,814.2 1119.2,818.1 1123.2,819.5 1127.3,812.7 1131.3,809.6 1135.3,804.8 1139.4,802.7 1143.4,801.2 1147.4,796.4 1151.5,790.1 1155.5,787.8 1159.6,785.2 1163.6,780.8 1167.6,777.9 1171.7,784.3 1175.7,782.0 1179.7,777.8 1183.8,773.3 1187.8,772.1 1191.8,768.6 1195.9,767.3 1199.9,764.0 1204.0,759.9 1208.0,760.7 1212.0,760.6 1216.1,764.3 1220.1,770.1 1224.1,772.8 1228.2,773.1 1232.2,772.8 1236.2,771.3 1240.3,772.3 1244.3,769.1 1248.4,769.8 1252.4,762.1 1256.4,757.0 1260.5,748.6 1264.5,745.4 1268.5,739.3 1272.6,733.5 1276.6,724.4 1280.6,718.7 1284.7,715.5 1288.7,712.9 1292.8,705.0 1296.8,699.1 1300.8,693.5 1304.9,690.9 1308.9,689.2 1312.9,686.6 1317.0,682.5 1321.0,679.7 1325.0,675.6 1329.1,681.6 1333.1,688.5 1337.2,689.5 1341.2,691.2 1345.2,692.7 1349.3,698.0 1353.3,702.6 1357.3,706.7 1361.4,710.8 1365.4,711.9 1369.4,713.7 1373.5,712.5 1377.5,718.4 1381.6,722.1 1385.6,716.9 1389.6,712.9 1393.7,713.4 1397.7,709.8 1401.7,708.5 1405.8,712.4 1409.8,706.0 1413.8,698.7 1417.9,689.4 1421.9,680.9 1426.0,672.9 1430.0,665.0 1434.0,660.0 1438.1,650.2 1442.1,637.3 1446.1,621.6 1450.2,605.2 1454.2,587.4 1458.2,569.5 1462.3,550.8 1466.3,530.5 1470.4,507.7 1474.4,488.6 1478.4,466.3 1482.5,444.5 1486.5,426.9 1490.5,407.2 1494.6,392.1 1498.6,375.8 1502.6,364.3 1506.7,345.5 1510.7,332.9 1514.8,322.8 1518.8,315.3 1522.8,300.7 1526.9,286.7 1530.9,265.3 1534.9,250.4 1539.0,238.2 1543.0,230.3 1547.1,223.7 1551.1,219.8 1555.1,213.4 1559.2,208.1 1563.2,208.3 1567.2,208.4 1571.3,209.2 1575.3,208.4 1579.3,209.8 1583.4,209.1 1587.4,210.3 1591.5,208.9 1595.5,207.6 1599.5,207.2 1603.6,210.6 1607.6,214.3 1611.6,218.6 1615.7,216.9 1619.7,212.3 1623.7,207.9 1627.8,206.2 1631.8,206.7 1635.9,206.9 1639.9,207.1 1643.9,207.7 1648.0,208.0 1652.0,208.0 1656.0,209.2 1660.1,209.6 1664.1,209.7 1668.1,210.5 1672.2,210.7 1676.2,210.4 1680.3,210.1 1684.3,210.0 1688.3,209.6 1692.4,208.4 1696.4,205.9 1700.4,204.0 1704.5,203.0 1708.5,205.8 1712.5,208.4 1716.6,214.0 1720.6,219.0 1724.7,226.2 1728.7,230.9 1732.7,238.3 1736.8,243.4 1740.8,249.1 1744.8,254.2 1748.9,258.6 1752.9,265.3 1756.9,269.6" stroke="#05ae69" stroke-width="10.5" />
<polyline points="223.1,772.1 227.1,779.4 231.2,786.7 235.2,795.5 239.2,800.7 243.3,807.0 247.3,811.9 251.4,818.9 255.4,821.3 259.4,827.3 263.5,833.1 267.5,839.0 271.5,846.0 275.6,850.8 279.6,847.8 283.6,845.7 287.7,844.4 291.7,841.9 295.8,846.0 299.8,854.9 303.8,852.9 307.9,853.7 311.9,848.9 315.9,844.2 320.0,838.0 324.0,836.2 328.0,834.6 332.1,833.6 336.1,830.2 340.2,829.4 344.2,826.5 348.2,832.8 352.3,839.3 356.3,841.5 360.3,844.7 364.4,843.1 368.4,841.3 372.4,839.1 376.5,835.2 380.5,836.7 384.6,840.1 388.6,845.7 392.6,843.6 396.7,842.8 400.7,845.5 404.7,849.0 408.8,853.8 412.8,858.2 416.8,862.5 420.9,869.8 424.9,876.3 429.0,872.9 433.0,868.9 437.0,865.3 441.1,864.5 445.1,858.8 449.1,853.3 453.2,846.3 457.2,846.3 461.2,843.1 465.3,842.4 469.3,844.8 473.4,850.0 477.4,852.5 481.4,847.1 485.5,842.3 489.5,841.1 493.5,839.2 497.6,835.8 501.6,832.5 505.7,828.9 509.7,825.0 513.7,823.8 517.8,823.1 521.8,824.7 525.8,828.8 529.9,830.7 533.9,836.4 537.9,840.4 542.0,843.8 546.0,846.4 550.1,851.0 554.1,853.5 558.1,856.4 562.2,860.5 566.2,863.1 570.2,856.3 574.3,851.9 578.3,848.6 582.3,848.2 586.4,847.6 590.4,850.3 594.5,853.9 598.5,856.4 602.5,856.6 606.6,854.0 610.6,851.0 614.6,850.6 618.7,847.0 622.7,847.8 626.7,850.3 630.8,846.9 634.8,843.7 638.9,842.1 642.9,843.2 646.9,843.2 651.0,852.5 655.0,855.0 659.0,850.3 663.1,843.8 667.1,846.4 671.1,850.9 675.2,853.3 679.2,858.5 683.3,862.3 687.3,870.4 691.3,874.0 695.4,873.9 699.4,874.3 703.4,873.3 707.5,869.4 711.5,869.3 715.5,867.2 719.6,862.4 723.6,854.0 727.7,844.6 731.7,846.3 735.7,844.2 739.8,843.9 743.8,841.7 747.8,840.9 751.9,838.2 755.9,833.1 759.9,831.9 764.0,836.2 768.0,833.8 772.1,830.7 776.1,823.8 780.1,828.2 784.2,833.3 788.2,835.7 792.2,830.5 796.3,825.6 800.3,823.0 804.3,827.9 808.4,831.2 812.4,832.4 816.5,833.2 820.5,836.1 824.5,840.7 828.6,842.3 832.6,841.0 836.6,839.0 840.7,837.5 844.7,832.9 848.7,824.2 852.8,809.4 856.8,792.6 860.9,774.9 864.9,758.1 868.9,752.6 873.0,744.9 877.0,732.7 881.0,714.3 885.1,701.5 889.1,690.9 893.1,684.5 897.2,675.8 901.2,663.8 905.3,648.8 909.3,630.6 913.3,617.8 917.4,604.2 921.4,596.9 925.4,591.5 929.5,583.7 933.5,574.6 937.5,566.7 941.6,559.9 945.6,551.8 949.7,543.1 953.7,535.4 957.7,526.4 961.8,520.9 965.8,512.2 969.8,505.8 973.9,495.1 977.9,486.0 981.9,474.8 986.0,466.2 990.0,458.3 994.1,446.8 998.1,433.1 1002.1,423.3 1006.2,422.1 1010.2,416.8 1014.2,409.0 1018.3,400.9 1022.3,389.7 1026.4,382.9 1030.4,373.6 1034.4,363.8 1038.5,353.8 1042.5,348.8 1046.5,341.4 1050.6,337.7 1054.6,333.9 1058.6,332.0 1062.7,329.8 1066.7,327.6 1070.8,327.1 1074.8,321.0 1078.8,318.5 1082.9,314.1 1086.9,308.7 1090.9,307.2 1095.0,307.2 1099.0,304.9 1103.0,303.5 1107.1,299.6 1111.1,300.9 1115.2,306.0 1119.2,308.3 1123.2,309.3 1127.3,312.7 1131.3,315.8 1135.3,321.6 1139.4,326.7 1143.4,335.9 1147.4,340.5 1151.5,351.6 1155.5,358.5 1159.6,365.1 1163.6,372.2 1167.6,380.4 1171.7,387.4 1175.7,392.5 1179.7,401.8 1183.8,407.3 1187.8,413.8 1191.8,419.2 1195.9,423.7 1199.9,429.1 1204.0,433.0 1208.0,437.7 1212.0,436.7 1216.1,439.1 1220.1,436.7 1224.1,434.9 1228.2,437.6 1232.2,439.6 1236.2,440.5 1240.3,443.6 1244.3,443.0 1248.4,439.6 1252.4,438.0 1256.4,444.3 1260.5,445.8 1264.5,445.0 1268.5,442.2 1272.6,443.4 1276.6,444.0 1280.6,446.2 1284.7,451.1 1288.7,454.7 1292.8,463.7 1296.8,471.7 1300.8,477.6 1304.9,484.8 1308.9,490.7 1312.9,486.2 1317.0,486.3 1321.0,487.3 1325.0,491.1 1329.1,491.2 1333.1,488.2 1337.2,485.9 1341.2,489.1 1345.2,495.3 1349.3,494.7 1353.3,490.7 1357.3,488.6 1361.4,492.1 1365.4,498.6 1369.4,502.6 1373.5,506.9 1377.5,511.4 1381.6,514.3 1385.6,513.9 1389.6,518.1 1393.7,522.6 1397.7,528.8 1401.7,537.5 1405.8,535.5 1409.8,542.1 1413.8,557.8 1417.9,568.1 1421.9,578.2 1426.0,586.8 1430.0,594.0 1434.0,603.6 1438.1,610.6 1442.1,615.6 1446.1,624.2 1450.2,634.1 1454.2,643.1 1458.2,652.8 1462.3,661.5 1466.3,672.3 1470.4,682.0 1474.4,692.6 1478.4,706.5 1482.5,718.0 1486.5,726.5 1490.5,731.6 1494.6,737.3 1498.6,741.5 1502.6,743.6 1506.7,755.7 1510.7,763.4 1514.8,771.0 1518.8,775.3 1522.8,777.3 1526.9,781.1 1530.9,790.2 1534.9,791.5 1539.0,796.0 1543.0,801.4 1547.1,810.2 1551.1,814.8 1555.1,820.1 1559.2,824.5 1563.2,824.7 1567.2,828.0 1571.3,822.6 1575.3,821.5 1579.3,821.8 1583.4,818.9 1587.4,824.4 1591.5,828.4 1595.5,830.6 1599.5,835.4 1603.6,836.7 1607.6,826.8 1611.6,821.5 1615.7,824.3 1619.7,828.4 1623.7,834.2 1627.8,836.8 1631.8,837.6 1635.9,830.7 1639.9,827.5 1643.9,823.2 1648.0,824.5 1652.0,824.5 1656.0,830.5 1660.1,828.9 1664.1,832.6 1668.1,832.1 1672.2,829.4 1676.2,827.0 1680.3,827.5 1684.3,827.8 1688.3,829.7 1692.4,830.9 1696.4,831.4 1700.4,833.9 1704.5,834.3 1708.5,838.6 1712.5,835.3 1716.6,834.8 1720.6,831.2 1724.7,825.8 1728.7,820.2 1732.7,818.9 1736.8,819.5 1740.8,814.1 1744.8,811.1 1748.9,805.8 1752.9,798.9 1756.9,795.2" stroke="#c878e4" stroke-width="10.5" />
<polyline points="223.1,1020.2 227.1,1024.6 231.2,1036.3 235.2,1043.7 239.2,1049.6 243.3,1055.4 247.3,1064.1 251.4,1071.7 255.4,1082.8 259.4,1091.9 263.5,1096.6 267.5,1099.2 271.5,1109.9 275.6,1120.3 279.6,1121.6 283.6,1120.5 287.7,1110.6 291.7,1110.0 295.8,1111.6 299.8,1123.7 303.8,1121.7 307.9,1119.5 311.9,1112.2 315.9,1114.9 320.0,1117.9 324.0,1105.6 328.0,1102.9 332.1,1102.2 336.1,1099.6 340.2,1094.9 344.2,1098.0 348.2,1104.6 352.3,1107.6 356.3,1111.0 360.3,1113.1 364.4,1111.6 368.4,1113.5 372.4,1107.3 376.5,1103.6 380.5,1105.8 384.6,1105.1 388.6,1108.8 392.6,1113.3 396.7,1115.6 400.7,1114.8 404.7,1119.1 408.8,1124.9 412.8,1127.6 416.8,1133.4 420.9,1140.5 424.9,1145.4 429.0,1143.6 433.0,1141.1 437.0,1140.8 441.1,1134.6 445.1,1129.7 449.1,1122.3 453.2,1118.3 457.2,1115.5 461.2,1112.7 465.3,1114.4 469.3,1117.7 473.4,1122.9 477.4,1124.0 481.4,1122.6 485.5,1118.2 489.5,1114.4 493.5,1110.9 497.6,1112.2 501.6,1107.7 505.7,1107.5 509.7,1104.3 513.7,1103.8 517.8,1103.3 521.8,1109.3 525.8,1106.3 529.9,1107.4 533.9,1113.5 537.9,1115.3 542.0,1119.4 546.0,1123.6 550.1,1127.4 554.1,1132.4 558.1,1134.5 562.2,1138.7 566.2,1139.8 570.2,1136.8 574.3,1128.3 578.3,1121.7 582.3,1120.9 586.4,1117.6 590.4,1123.6 594.5,1122.5 598.5,1119.6 602.5,1121.9 606.6,1117.6 610.6,1116.3 614.6,1118.9 618.7,1119.9 622.7,1119.4 626.7,1120.5 630.8,1114.0 634.8,1109.4 638.9,1110.3 642.9,1109.7 646.9,1115.6 651.0,1121.4 655.0,1120.0 659.0,1115.4 663.1,1113.8 667.1,1112.1 671.1,1118.1 675.2,1123.3 679.2,1127.2 683.3,1137.6 687.3,1145.7 691.3,1150.5 695.4,1152.2 699.4,1150.6 703.4,1146.8 707.5,1144.7 711.5,1142.5 715.5,1140.8 719.6,1131.6 723.6,1123.8 727.7,1116.7 731.7,1119.1 735.7,1118.1 739.8,1117.5 743.8,1114.7 747.8,1107.8 751.9,1104.4 755.9,1101.0 759.9,1105.9 764.0,1103.9 768.0,1102.1 772.1,1097.5 776.1,1099.2 780.1,1103.3 784.2,1107.6 788.2,1105.2 792.2,1100.2 796.3,1097.7 800.3,1100.7 804.3,1103.2 808.4,1104.2 812.4,1107.2 816.5,1107.4 820.5,1111.9 824.5,1112.8 828.6,1115.2 832.6,1107.6 836.6,1102.9 840.7,1103.9 844.7,1098.0 848.7,1085.9 852.8,1064.3 856.8,1040.6 860.9,1016.3 864.9,1001.5 868.9,989.4 873.0,975.5 877.0,954.3 881.0,930.4 885.1,907.0 889.1,888.2 893.1,872.8 897.2,846.4 901.2,820.8 905.3,794.4 909.3,771.0 913.3,743.9 917.4,718.5 921.4,704.5 925.4,690.3 929.5,672.3 933.5,657.9 937.5,643.9 941.6,631.1 945.6,619.6 949.7,604.0 953.7,593.8 957.7,582.8 961.8,573.6 965.8,562.0 969.8,549.1 973.9,537.3 977.9,525.5 981.9,513.6 986.0,505.4 990.0,497.8 994.1,490.8 998.1,482.2 1002.1,479.8 1006.2,477.7 1010.2,475.1 1014.2,469.5 1018.3,459.2 1022.3,447.7 1026.4,434.3 1030.4,424.0 1034.4,410.8 1038.5,399.2 1042.5,388.7 1046.5,383.2 1050.6,378.3 1054.6,375.8 1058.6,373.6 1062.7,370.9 1066.7,367.2 1070.8,368.2 1074.8,368.7 1078.8,362.3 1082.9,354.4 1086.9,350.8 1090.9,344.9 1095.0,341.5 1099.0,341.9 1103.0,335.7 1107.1,328.3 1111.1,332.1 1115.2,334.3 1119.2,336.4 1123.2,341.0 1127.3,345.8 1131.3,355.7 1135.3,362.7 1139.4,373.2 1143.4,379.5 1147.4,389.6 1151.5,398.4 1155.5,406.1 1159.6,416.4 1163.6,425.2 1167.6,433.8 1171.7,441.9 1175.7,449.9 1179.7,458.5 1183.8,469.1 1187.8,474.8 1191.8,481.9 1195.9,486.7 1199.9,493.5 1204.0,497.0 1208.0,500.8 1212.0,499.4 1216.1,500.6 1220.1,502.0 1224.1,503.3 1228.2,502.9 1232.2,505.6 1236.2,506.0 1240.3,504.5 1244.3,504.7 1248.4,500.1 1252.4,499.5 1256.4,504.1 1260.5,504.4 1264.5,504.5 1268.5,501.0 1272.6,502.6 1276.6,503.0 1280.6,501.4 1284.7,507.9 1288.7,510.6 1292.8,518.4 1296.8,526.1 1300.8,533.9 1304.9,539.4 1308.9,547.1 1312.9,544.2 1317.0,542.0 1321.0,544.2 1325.0,544.6 1329.1,543.7 1333.1,540.5 1337.2,538.7 1341.2,543.2 1345.2,546.8 1349.3,546.1 1353.3,541.8 1357.3,539.0 1361.4,546.7 1365.4,552.4 1369.4,560.9 1373.5,566.9 1377.5,573.5 1381.6,580.1 1385.6,586.5 1389.6,592.1 1393.7,599.3 1397.7,604.1 1401.7,607.5 1405.8,611.3 1409.8,623.1 1413.8,636.9 1417.9,652.3 1421.9,664.0 1426.0,674.8 1430.0,686.8 1434.0,700.7 1438.1,713.3 1442.1,727.8 1446.1,745.2 1450.2,762.5 1454.2,782.7 1458.2,800.0 1462.3,817.4 1466.3,833.2 1470.4,850.2 1474.4,864.7 1478.4,885.1 1482.5,902.4 1486.5,916.6 1490.5,928.5 1494.6,940.0 1498.6,948.7 1502.6,960.4 1506.7,989.7 1510.7,1005.7 1514.8,1009.8 1518.8,1015.5 1522.8,1017.9 1526.9,1025.5 1530.9,1033.8 1534.9,1042.9 1539.0,1050.3 1543.0,1060.2 1547.1,1066.2 1551.1,1074.3 1555.1,1079.8 1559.2,1083.7 1563.2,1087.8 1567.2,1087.7 1571.3,1088.6 1575.3,1085.1 1579.3,1085.6 1583.4,1082.4 1587.4,1084.3 1591.5,1087.2 1595.5,1094.6 1599.5,1095.2 1603.6,1095.6 1607.6,1087.9 1611.6,1082.2 1615.7,1087.1 1619.7,1090.5 1623.7,1094.8 1627.8,1099.1 1631.8,1097.9 1635.9,1094.7 1639.9,1089.7 1643.9,1090.3 1648.0,1090.8 1652.0,1093.1 1656.0,1094.9 1660.1,1095.8 1664.1,1093.6 1668.1,1091.8 1672.2,1090.3 1676.2,1089.4 1680.3,1090.7 1684.3,1090.2 1688.3,1093.8 1692.4,1097.4 1696.4,1097.1 1700.4,1099.9 1704.5,1101.2 1708.5,1104.3 1712.5,1103.2 1716.6,1102.1 1720.6,1100.0 1724.7,1096.5 1728.7,1092.6 1732.7,1091.5 1736.8,1092.0 1740.8,1088.4 1744.8,1086.6 1748.9,1084.4 1752.9,1080.0 1756.9,1075.6" stroke="#dfa007" stroke-width="10.5" />
</g>
<path d="M868.4 1280.6V44.7" stroke="#000" stroke-width="13" stroke-dasharray="34.8 26.15" fill="none"/>
<path d="M1508.9 1280.6V44.7" stroke="#000" stroke-width="13" stroke-dasharray="34.8 26.15" fill="none"/>
<text transform="translate(708.3 106.3) scale(1 1.02)" text-anchor="middle" class="lb">In water</text>
<text transform="translate(1183.4 106.3) scale(1 1.02)" text-anchor="middle" class="lb">In bilayer</text>
<text transform="translate(1688.6 106.3) scale(1 1.02)" text-anchor="middle" class="lb">In water</text>
<text transform="translate(944.3 1102.3) scale(1 1.0)" class="lg">DOX-POPC:</text>
<text transform="translate(1216.2 1102.3) scale(1 1.0)" class="lg">DOX-water:</text>
<path d="M944.8 1137.5H1036.0" stroke="#fb4141" stroke-width="10.2" stroke-linecap="round" fill="none"/>
<text transform="translate(1047.5 1153.0) scale(1 1.0)" class="lg">VDW</text>
<path d="M1216.7 1137.5H1307.9" stroke="#505050" stroke-width="10.2" stroke-linecap="round" fill="none"/>
<text transform="translate(1319.4 1153.0) scale(1 1.0)" class="lg">VDW</text>
<path d="M944.8 1188.2H1036.0" stroke="#0a64dc" stroke-width="10.2" stroke-linecap="round" fill="none"/>
<text transform="translate(1047.5 1201.9) scale(1 1.0)" class="lg">Elst</text>
<path d="M1216.7 1188.2H1307.9" stroke="#c878e4" stroke-width="10.2" stroke-linecap="round" fill="none"/>
<text transform="translate(1319.4 1201.9) scale(1 1.0)" class="lg">Elst</text>
<path d="M944.8 1238.3H1036.0" stroke="#05ae69" stroke-width="10.2" stroke-linecap="round" fill="none"/>
<text transform="translate(1047.5 1252.0) scale(1 1.0)" class="lg">Total</text>
<path d="M1216.7 1238.3H1307.9" stroke="#dfa007" stroke-width="10.2" stroke-linecap="round" fill="none"/>
<text transform="translate(1319.4 1252.0) scale(1 1.0)" class="lg">Total</text>
<text transform="translate(1147.2 1594) scale(1 1.045)" text-anchor="middle" class="cap">(<tspan font-weight="bold">a</tspan>) DOX1</text>
<path d="M223.1 42.7V1282.0" class="ax"/>
<path d="M221.1 1280.0H1838.4" class="ax"/>
<path d="M202.1 44.7H223.1M202.1 190.0H223.1M202.1 335.4H223.1M202.1 480.7H223.1M202.1 626.0H223.1M202.1 771.3H223.1M202.1 916.7H223.1M202.1 1062.0H223.1M202.1 1207.3H223.1M212.6 117.4H223.1M212.6 262.7H223.1M212.6 408.0H223.1M212.6 553.4H223.1M212.6 698.7H223.1M212.6 844.0H223.1M212.6 989.3H223.1M212.6 1134.7H223.1M212.6 1280.0H223.1M223.1 1280.0v21M424.8 1280.0v21M626.4 1280.0v21M828.1 1280.0v21M1029.8 1280.0v21M1231.4 1280.0v21M1433.1 1280.0v21M1634.7 1280.0v21M1836.4 1280.0v21M323.9 1280.0v10.5M525.6 1280.0v10.5M727.3 1280.0v10.5M928.9 1280.0v10.5M1130.6 1280.0v10.5M1332.2 1280.0v10.5M1533.9 1280.0v10.5M1735.6 1280.0v10.5" class="ax"/>
<text transform="translate(187.1 59.0) scale(1 1.065)" text-anchor="end" class="tk">20</text>
<text transform="translate(187.1 204.3) scale(1 1.065)" text-anchor="end" class="tk">0</text>
<text transform="translate(187.1 349.7) scale(1 1.065)" text-anchor="end" class="tk">−20</text>
<text transform="translate(187.1 495.0) scale(1 1.065)" text-anchor="end" class="tk">−40</text>
<text transform="translate(187.1 640.3) scale(1 1.065)" text-anchor="end" class="tk">−60</text>
<text transform="translate(187.1 785.6) scale(1 1.065)" text-anchor="end" class="tk">−80</text>
<text transform="translate(187.1 931.0) scale(1 1.065)" text-anchor="end" class="tk">−100</text>
<text transform="translate(187.1 1076.3) scale(1 1.065)" text-anchor="end" class="tk">−120</text>
<text transform="translate(187.1 1221.6) scale(1 1.065)" text-anchor="end" class="tk">−140</text>
<text transform="translate(223.1 1351.5) scale(1 1.065)" text-anchor="middle" class="tk">0</text>
<text transform="translate(424.8 1351.5) scale(1 1.065)" text-anchor="middle" class="tk">50</text>
<text transform="translate(626.4 1351.5) scale(1 1.065)" text-anchor="middle" class="tk">100</text>
<text transform="translate(828.1 1351.5) scale(1 1.065)" text-anchor="middle" class="tk">150</text>
<text transform="translate(1029.8 1351.5) scale(1 1.065)" text-anchor="middle" class="tk">200</text>
<text transform="translate(1231.4 1351.5) scale(1 1.065)" text-anchor="middle" class="tk">250</text>
<text transform="translate(1433.1 1351.5) scale(1 1.065)" text-anchor="middle" class="tk">300</text>
<text transform="translate(1634.7 1351.5) scale(1 1.065)" text-anchor="middle" class="tk">350</text>
<text transform="translate(1836.4 1351.5) scale(1 1.065)" text-anchor="middle" class="tk">400</text>
<text transform="translate(1029.8 1423.4) scale(1 1.02)" text-anchor="middle" class="lb">t [ns]</text>
<text transform="translate(60.8 662.4) rotate(-90) scale(1 1.02)" text-anchor="middle" class="lb">Energy [kcal/mol]</text>
<clipPath id="c55"><rect x="223.1" y="1709.9" width="1633.3" height="1236.1"/></clipPath>
<g clip-path="url(#c55)">
<polyline points="223.1,2437.4 227.1,2457.9 231.2,2712.5 235.2,2483.5 239.2,2447.8 243.3,2648.9 247.3,2496.3 251.3,2233.2 255.4,2397.2 259.4,2490.8 263.4,2186.7 267.5,2509.4 271.5,2468.7 275.5,2507.2 279.6,2477.0 283.6,2481.6 287.6,2533.6 291.7,2344.8 295.7,2480.4 299.7,2552.1 303.8,2517.4 307.8,2511.3 311.8,2649.7 315.9,2328.3 319.9,2633.1 323.9,2509.4 328.0,2507.7 332.0,2502.9 336.0,2540.4 340.1,2413.8 344.1,2364.5 348.1,2508.9 352.2,2668.0 356.2,2508.2 360.2,2727.2 364.3,2531.0 368.3,2527.7 372.3,2560.8 376.4,2607.6 380.4,2421.5 384.4,2513.3 388.5,2512.1 392.5,2652.7 396.5,2609.1 400.6,2384.9 404.6,2574.4 408.6,2539.5 412.7,2457.3 416.7,2550.7 420.7,2675.3 424.8,2379.9 428.8,2539.6 432.8,2498.2 436.9,2521.7 440.9,2380.2 444.9,2505.6 449.0,2498.6 453.0,2570.6 457.0,2345.0 461.1,2563.6 465.1,2362.8 469.1,2475.1 473.2,2522.1 477.2,2384.5 481.2,2474.2 485.3,2580.5 489.3,2533.1 493.3,2554.8 497.4,2550.2 501.4,2527.1 505.4,2480.6 509.5,2530.9 513.5,2561.7 517.5,2528.1 521.6,2538.9 525.6,2524.8 529.6,2527.4 533.7,2519.1 537.7,2594.9 541.7,2498.0 545.8,2511.3 549.8,2508.0 553.8,2495.0 557.9,2518.5 561.9,2617.3 565.9,2401.7 570.0,2488.8 574.0,2456.0 578.0,2452.0 582.1,2438.0 586.1,2486.7 590.1,2707.6 594.2,2457.8 598.2,2440.2 602.2,2369.0 606.3,2692.9 610.3,2332.3 614.3,2525.8 618.4,2267.4 622.4,2327.9 626.4,2327.9 630.5,2299.4 634.5,2414.3 638.5,2165.6 642.6,2130.6 646.6,2263.0 650.6,2310.7 654.7,2253.8 658.7,2239.0 662.7,2249.4 666.8,2212.8 670.8,2101.3 674.8,2030.4 678.9,2110.3 682.9,2112.5 686.9,2281.8 691.0,2086.1 695.0,2079.4 699.0,1971.8 703.1,1835.5 707.1,1940.7 711.1,2119.1 715.2,1966.3 719.2,1981.5 723.2,1873.6 727.3,1957.6 731.3,1932.9 735.3,1981.7 739.4,2226.2 743.4,2044.4 747.4,1856.5 751.5,2041.9 755.5,1925.4 759.5,2029.3 763.6,2004.5 767.6,1829.6 771.6,1933.8 775.7,2208.7 779.7,1960.1 783.7,1911.4 787.8,2010.3 791.8,2114.3 795.8,2133.4 799.9,2034.5 803.9,1844.3 807.9,2017.9 812.0,2211.0 816.0,1802.7 820.0,1943.5 824.1,2115.4 828.1,1888.7 832.1,2155.2 836.2,1953.6 840.2,2141.9 844.2,2227.3 848.3,2092.9 852.3,2090.3 856.3,2106.6 860.4,2079.9 864.4,2112.6 868.4,2122.3 872.5,2107.7 876.5,1903.9 880.5,2125.2 884.6,2021.6 888.6,2104.1 892.6,2119.9 896.7,2086.5 900.7,2143.8 904.7,2136.3 908.8,2022.5 912.8,2192.9 916.8,2116.9 920.9,1900.5 924.9,2104.2 928.9,2018.4 933.0,2163.6 937.0,2166.5 941.0,2375.0 945.1,2293.5 949.1,2007.0 953.1,2051.6 957.2,2073.4 961.2,2066.8 965.2,2081.1 969.3,2051.5 973.3,2333.6 977.3,2152.8 981.4,2062.7 985.4,2169.3 989.4,2262.1 993.5,2338.3 997.5,2288.8 1001.5,2249.5 1005.6,2132.1 1009.6,2205.7 1013.6,2167.1 1017.7,2301.6 1021.7,2147.4 1025.7,2021.4 1029.8,2004.7 1033.8,2049.5 1037.8,2233.6 1041.8,2132.4 1045.9,1822.3 1049.9,2098.6 1053.9,2098.1 1058.0,2291.8 1062.0,2132.5 1066.0,2165.9 1070.1,2062.2 1074.1,2178.1 1078.1,1839.4 1082.2,1948.2 1086.2,2036.2 1090.2,2099.2 1094.3,2001.1 1098.3,2015.6 1102.3,1830.7 1106.4,2128.6 1110.4,2070.0 1114.4,1837.0 1118.5,2019.0 1122.5,1809.5 1126.5,1892.9 1130.6,2073.1 1134.6,1961.4 1138.6,2154.1 1142.7,2021.1 1146.7,1977.2 1150.7,2123.5 1154.8,1850.7 1158.8,1935.5 1162.8,1763.6 1166.9,1959.0 1170.9,2094.2 1174.9,1905.4 1179.0,2030.1 1183.0,1984.9 1187.0,2204.2 1191.1,2115.0 1195.1,1971.3 1199.1,1856.5 1203.2,1978.9 1207.2,2061.7 1211.2,2064.9 1215.3,1756.2 1219.3,2036.6 1223.3,1998.8 1227.4,1963.1 1231.4,1934.9 1235.4,2009.3 1239.5,1843.9 1243.5,2122.2 1247.5,2104.0 1251.6,2101.8 1255.6,2194.0 1259.6,2314.7 1263.7,1919.4 1267.7,2077.3 1271.7,1969.4 1275.8,2099.0 1279.8,2017.8 1283.8,1925.6 1287.9,2213.6 1291.9,2191.2 1295.9,2077.8 1300.0,2066.1 1304.0,2098.6 1308.0,2096.7 1312.1,2114.8 1316.1,2152.8 1320.1,2122.4 1324.2,2079.7 1328.2,2153.3 1332.2,2137.1 1336.3,1949.3 1340.3,2160.5 1344.3,2093.7 1348.4,2173.7 1352.4,2178.3 1356.4,2180.4 1360.5,2113.8 1364.5,2257.6 1368.5,2060.0 1372.6,1894.3 1376.6,2179.3 1380.6,2046.4 1384.7,2277.2 1388.7,2190.9 1392.7,2025.1 1396.8,2141.3 1400.8,2058.3 1404.8,1971.9 1408.9,1790.5 1412.9,2148.3 1416.9,2136.3 1421.0,1996.0 1425.0,2210.1 1429.0,2300.6 1433.1,1841.8 1437.1,2049.0 1441.1,2006.0 1445.2,2262.4 1449.2,2088.7 1453.2,2059.7 1457.3,2055.0 1461.3,2136.0 1465.3,2183.6 1469.4,2180.8 1473.4,2040.4 1477.4,2335.3 1481.5,2047.9 1485.5,2075.4 1489.5,2180.9 1493.6,1915.8 1497.6,2041.4 1501.6,2117.2 1505.7,2168.7 1509.7,2035.2 1513.7,2158.3 1517.8,2069.5 1521.8,2085.4 1525.8,2344.0 1529.9,2182.3 1533.9,2191.7 1537.9,1937.2 1542.0,2153.0 1546.0,2181.8 1550.0,2203.7 1554.1,2262.1 1558.1,2091.7 1562.1,2365.6 1566.2,2216.4 1570.2,2311.9 1574.2,1942.9 1578.3,2307.8 1582.3,2365.2 1586.3,2356.1 1590.4,2095.2 1594.4,2210.7 1598.4,2477.7 1602.5,2219.8 1606.5,2225.4 1610.5,2130.6 1614.6,2291.1 1618.6,2350.1 1622.6,2145.6 1626.7,2297.3 1630.7,2027.6 1634.7,2175.0 1638.8,2068.9" stroke="#ecd4f6" stroke-width="3.8" />
<polyline points="223.1,1942.9 227.1,1974.4 231.2,1964.3 235.2,1854.1 239.2,1954.0 243.3,1876.1 247.3,2020.4 251.3,2198.9 255.4,2042.4 259.4,1977.7 263.4,2304.1 267.5,2140.2 271.5,1928.7 275.5,1987.8 279.6,1876.1 283.6,2005.0 287.6,1868.8 291.7,1932.6 295.7,1942.5 299.7,1939.2 303.8,1927.7 307.8,1947.0 311.8,1948.2 315.9,1866.3 319.9,1909.7 323.9,1912.5 328.0,1909.7 332.0,1893.9 336.0,1913.2 340.1,1914.0 344.1,1910.7 348.1,1898.5 352.2,1895.8 356.2,1910.3 360.2,1821.3 364.3,1907.8 368.3,1908.2 372.3,1892.2 376.4,1859.0 380.4,1907.7 384.4,1905.4 388.5,1907.0 392.5,1896.4 396.5,1908.8 400.6,1915.3 404.6,1906.1 408.6,1918.3 412.7,1903.9 416.7,1903.8 420.7,1850.7 424.8,1898.7 428.8,1907.6 432.8,1903.2 436.9,1898.4 440.9,1889.2 444.9,1900.3 449.0,1909.4 453.0,1905.0 457.0,1912.1 461.1,1908.0 465.1,1919.3 469.1,1900.9 473.2,1904.4 477.2,1909.0 481.2,1909.9 485.3,1903.5 489.3,1914.2 493.3,1921.1 497.4,1912.1 501.4,1908.4 505.4,1894.8 509.5,1918.7 513.5,1912.9 517.5,1849.2 521.6,1910.6 525.6,1911.3 529.6,1907.0 533.7,1819.8 537.7,1919.1 541.7,2022.8 545.8,1856.5 549.8,1901.5 553.8,1901.2 557.9,1917.8 561.9,1919.0 565.9,1921.7 570.0,1932.2 574.0,1963.4 578.0,1968.6 582.1,1893.2 586.1,2006.3 590.1,2034.8 594.2,2031.6 598.2,2051.9 602.2,2137.0 606.3,2094.1 610.3,2072.6 614.3,2194.8 618.4,2034.0 622.4,2166.8 626.4,2179.7 630.5,2242.6 634.5,2384.0 638.5,2250.2 642.6,2344.5 646.6,2366.2 650.6,2193.0 654.7,2595.1 658.7,2391.7 662.7,2427.0 666.8,2197.1 670.8,2267.3 674.8,2418.7 678.9,2373.5 682.9,2371.9 686.9,2332.5 691.0,2394.8 695.0,2487.7 699.0,2270.6 703.1,2437.9 707.1,2476.3 711.1,2420.0 715.2,2446.4 719.2,2371.9 723.2,2609.8 727.3,2459.9 731.3,2460.0 735.3,2436.2 739.4,2342.3 743.4,2223.4 747.4,2312.7 751.5,2394.3 755.5,2517.7 759.5,2337.3 763.6,2380.7 767.6,2585.3 771.6,2540.7 775.7,2371.3 779.7,2255.2 783.7,2447.0 787.8,2465.9 791.8,2579.7 795.8,2267.4 799.9,2404.6 803.9,2519.3 807.9,2416.1 812.0,2339.6 816.0,2402.2 820.0,2436.0 824.1,2375.6 828.1,2418.1 832.1,2201.1 836.2,2380.6 840.2,2357.6 844.2,2639.1 848.3,1964.1 852.3,2304.5 856.3,2351.9 860.4,2294.6 864.4,2246.1 868.4,2288.3 872.5,2278.9 876.5,2181.8 880.5,2125.7 884.6,2233.2 888.6,2551.1 892.6,2186.0 896.7,2210.5 900.7,2400.2 904.7,2238.0 908.8,2144.6 912.8,2119.2 916.8,2126.6 920.9,2541.3 924.9,2330.4 928.9,2328.0 933.0,2250.7 937.0,2002.7 941.0,2025.3 945.1,2151.6 949.1,2145.2 953.1,2278.3 957.2,2276.3 961.2,2233.9 965.2,2361.8 969.3,2182.8 973.3,2149.7 977.3,2266.1 981.4,2180.0 985.4,2243.6 989.4,2038.8 993.5,2054.6 997.5,2298.7 1001.5,2183.6 1005.6,2222.3 1009.6,2070.5 1013.6,2269.9 1017.7,2064.4 1021.7,2154.4 1025.7,2198.6 1029.8,2283.4 1033.8,2246.2 1037.8,2064.4 1041.8,2374.5 1045.9,2482.6 1049.9,2415.1 1053.9,2282.9 1058.0,2339.9 1062.0,2342.5 1066.0,2445.2 1070.1,2375.5 1074.1,2310.5 1078.1,2516.8 1082.2,2453.3 1086.2,2537.8 1090.2,2345.9 1094.3,2361.1 1098.3,2365.7 1102.3,2501.8 1106.4,2228.6 1110.4,2614.7 1114.4,2340.4 1118.5,2407.7 1122.5,2368.3 1126.5,2312.7 1130.6,2439.1 1134.6,2448.6 1138.6,2267.4 1142.7,2272.5 1146.7,2408.1 1150.7,2507.9 1154.8,2406.1 1158.8,2478.2 1162.8,2423.4 1166.9,2396.3 1170.9,2382.9 1174.9,2495.5 1179.0,2429.2 1183.0,2497.2 1187.0,2463.4 1191.1,2255.2 1195.1,2399.0 1199.1,2417.3 1203.2,2358.4 1207.2,2350.7 1211.2,2364.8 1215.3,2656.2 1219.3,2324.2 1223.3,2174.5 1227.4,2269.0 1231.4,2410.3 1235.4,2317.1 1239.5,2399.5 1243.5,2233.5 1247.5,2249.4 1251.6,2310.5 1255.6,2478.4 1259.6,2265.6 1263.7,2526.6 1267.7,2037.5 1271.7,2355.5 1275.8,2311.2 1279.8,2436.8 1283.8,2318.4 1287.9,2398.1 1291.9,2263.8 1295.9,2204.8 1300.0,2411.8 1304.0,2589.9 1308.0,2044.8 1312.1,2394.7 1316.1,2255.1 1320.1,2189.7 1324.2,2384.7 1328.2,2440.9 1332.2,2337.1 1336.3,2291.6 1340.3,2533.4 1344.3,2304.2 1348.4,2487.5 1352.4,2420.6 1356.4,2229.1 1360.5,2275.1 1364.5,2187.7 1368.5,2264.9 1372.6,2280.5 1376.6,2304.0 1380.6,2413.5 1384.7,2288.7 1388.7,2279.2 1392.7,2361.0 1396.8,2129.8 1400.8,2304.1 1404.8,2464.1 1408.9,2512.0 1412.9,2190.0 1416.9,2275.2 1421.0,2178.6 1425.0,2434.8 1429.0,2242.1 1433.1,2568.2 1437.1,2217.2 1441.1,2321.9 1445.2,2365.2 1449.2,2381.9 1453.2,2374.0 1457.3,2215.2 1461.3,2202.0 1465.3,2300.5 1469.4,2256.9 1473.4,2217.0 1477.4,2401.1 1481.5,2482.0 1485.5,2209.4 1489.5,2305.1 1493.6,2335.6 1497.6,2152.4 1501.6,2217.4 1505.7,2063.8 1509.7,2237.3 1513.7,2378.5 1517.8,2296.1 1521.8,2142.1 1525.8,2317.6 1529.9,2146.6 1533.9,2160.8 1537.9,2499.7 1542.0,2364.9 1546.0,2099.8 1550.0,2254.0 1554.1,2315.3 1558.1,2339.3 1562.1,2157.0 1566.2,2224.8 1570.2,2433.7 1574.2,2223.6 1578.3,2263.9 1582.3,2020.4 1586.3,2331.7 1590.4,2181.6 1594.4,2259.6 1598.4,1964.1 1602.5,2133.5 1606.5,2201.8 1610.5,1971.5 1614.6,2270.9 1618.6,2179.3 1622.6,2350.5 1626.7,1998.4 1630.7,2225.3 1634.7,2240.5 1638.8,2121.8" stroke="#b4d6fa" stroke-width="3.8" />
<polyline points="223.1,1915.7 227.1,1917.5 231.2,1919.4 235.2,1932.4 239.2,1944.3 243.3,1933.1 247.3,1925.4 251.3,1941.9 255.4,1951.9 259.4,1954.0 263.4,1953.7 267.5,1953.2 271.5,1952.6 275.5,1936.7 279.6,1917.7 283.6,1916.0 287.6,1915.0 291.7,1915.3 295.7,1915.5 299.7,1914.5 303.8,1915.4 307.8,1915.8 311.8,1915.5 315.9,1915.9 319.9,1915.8 323.9,1915.9 328.0,1915.0 332.0,1915.8 336.0,1915.8 340.1,1915.7 344.1,1915.2 348.1,1916.2 352.2,1916.4 356.2,1915.2 360.2,1927.4 364.3,1936.2 368.3,1923.6 372.3,1939.5 376.4,1957.3 380.4,1923.6 384.4,1917.4 388.5,1917.9 392.5,1917.8 396.5,1917.5 400.6,1917.6 404.6,1917.5 408.6,1917.8 412.7,1917.1 416.7,1917.0 420.7,1917.6 424.8,1917.8 428.8,1917.4 432.8,1917.5 436.9,1918.1 440.9,1917.9 444.9,1917.2 449.0,1917.7 453.0,1917.8 457.0,1917.6 461.1,1917.7 465.1,1917.7 469.1,1918.5 473.2,1922.2 477.2,1935.2 481.2,1926.2 485.3,1917.3 489.3,1917.5 493.3,1917.7 497.4,1917.2 501.4,1916.7 505.4,1917.4 509.5,1917.0 513.5,1916.8 517.5,1918.1 521.6,1917.9 525.6,1917.3 529.6,1918.4 533.7,1929.9 537.7,1934.7 541.7,1919.7 545.8,1917.3 549.8,1918.3 553.8,1916.4 557.9,1917.0 561.9,1916.8 565.9,1916.8 570.0,1917.7 574.0,1917.4 578.0,1917.2 582.1,1915.8 586.1,1916.9 590.1,1916.5 594.2,1916.4 598.2,1916.0 602.2,1917.2 606.3,1932.3 610.3,1964.3 614.3,1956.8 618.4,1933.5 622.4,1953.0 626.4,1981.7 630.5,1983.4 634.5,1974.5 638.5,1956.1 642.6,1983.6 646.6,2000.5 650.6,2018.5 654.7,2028.5 658.7,2034.2 662.7,2058.6 666.8,2076.6 670.8,2103.8 674.8,2125.0 678.9,2146.3 682.9,2134.5 686.9,2134.7 691.0,2108.1 695.0,2106.3 699.0,2106.3 703.1,2107.8 707.1,2099.4 711.1,2114.8 715.2,2146.1 719.2,2118.6 723.2,2101.5 727.3,2127.1 731.3,2133.2 735.3,2136.1 739.4,2136.0 743.4,2136.7 747.4,2149.1 751.5,2120.9 755.5,2162.2 759.5,2150.2 763.6,2142.9 767.6,2108.8 771.6,2141.7 775.7,2158.9 779.7,2146.4 783.7,2142.6 787.8,2149.0 791.8,2142.9 795.8,2133.9 799.9,2177.6 803.9,2170.3 807.9,2145.9 812.0,2139.1 816.0,2136.5 820.0,2118.5 824.1,2108.9 828.1,2097.5 832.1,2075.9 836.2,2087.4 840.2,2098.6 844.2,2107.5 848.3,2105.4 852.3,2101.3 856.3,2089.6 860.4,2116.8 864.4,2121.4 868.4,2091.8 872.5,2065.4 876.5,2074.5 880.5,2078.7 884.6,2103.3 888.6,2088.5 892.6,2106.6 896.7,2117.8 900.7,2125.9 904.7,2124.4 908.8,2122.1 912.8,2114.9 916.8,2097.4 920.9,2067.1 924.9,2085.2 928.9,2138.0 933.0,2113.6 937.0,2133.0 941.0,2104.7 945.1,2061.4 949.1,2071.4 953.1,2080.0 957.2,2084.1 961.2,2094.3 965.2,2100.1 969.3,2112.5 973.3,2113.7 977.3,2136.2 981.4,2143.8 985.4,2163.9 989.4,2158.7 993.5,2158.3 997.5,2148.6 1001.5,2131.6 1005.6,2137.1 1009.6,2139.1 1013.6,2122.5 1017.7,2129.3 1021.7,2145.5 1025.7,2135.3 1029.8,2132.9 1033.8,2120.4 1037.8,2119.9 1041.8,2108.9 1045.9,2132.5 1049.9,2142.0 1053.9,2140.4 1058.0,2143.7 1062.0,2142.5 1066.0,2131.2 1070.1,2130.6 1074.1,2125.5 1078.1,2134.7 1082.2,2130.4 1086.2,2144.0 1090.2,2147.9 1094.3,2141.2 1098.3,2119.0 1102.3,2119.0 1106.4,2134.7 1110.4,2146.1 1114.4,2138.9 1118.5,2127.9 1122.5,2129.0 1126.5,2143.4 1130.6,2138.6 1134.6,2120.9 1138.6,2110.6 1142.7,2120.9 1146.7,2122.5 1150.7,2136.6 1154.8,2129.6 1158.8,2131.2 1162.8,2160.1 1166.9,2158.1 1170.9,2176.0 1174.9,2150.6 1179.0,2137.3 1183.0,2144.7 1187.0,2156.1 1191.1,2121.9 1195.1,2117.3 1199.1,2135.6 1203.2,2159.8 1207.2,2163.4 1211.2,2150.4 1215.3,2135.2 1219.3,2132.6 1223.3,2136.8 1227.4,2128.4 1231.4,2132.1 1235.4,2134.8 1239.5,2131.1 1243.5,2099.5 1247.5,2086.6 1251.6,2089.4 1255.6,2096.4 1259.6,2110.1 1263.7,2096.8 1267.7,2119.8 1271.7,2120.6 1275.8,2117.8 1279.8,2103.1 1283.8,2115.4 1287.9,2125.4 1291.9,2119.5 1295.9,2116.8 1300.0,2115.6 1304.0,2107.6 1308.0,2095.2 1312.1,2094.0 1316.1,2109.1 1320.1,2119.1 1324.2,2062.3 1328.2,2089.6 1332.2,2124.1 1336.3,2108.8 1340.3,2114.3 1344.3,2109.6 1348.4,2083.0 1352.4,2093.5 1356.4,2100.6 1360.5,2103.5 1364.5,2095.2 1368.5,2083.1 1372.6,2085.3 1376.6,2107.8 1380.6,2122.6 1384.7,2135.5 1388.7,2148.1 1392.7,2130.7 1396.8,2124.3 1400.8,2119.0 1404.8,2119.9 1408.9,2114.2 1412.9,2115.3 1416.9,2126.7 1421.0,2119.9 1425.0,2132.2 1429.0,2119.3 1433.1,2130.3 1437.1,2150.5 1441.1,2133.9 1445.2,2127.6 1449.2,2106.7 1453.2,2066.5 1457.3,2092.2 1461.3,2155.4 1465.3,2111.2 1469.4,2103.5 1473.4,2108.7 1477.4,2106.3 1481.5,2128.9 1485.5,2062.2 1489.5,2084.8 1493.6,2116.0 1497.6,2137.7 1501.6,2099.6 1505.7,2080.1 1509.7,2139.9 1513.7,2137.2 1517.8,2110.6 1521.8,2105.7 1525.8,2094.6 1529.9,2054.2 1533.9,2084.9 1537.9,2085.1 1542.0,2013.3 1546.0,2077.6 1550.0,2103.6 1554.1,2135.6 1558.1,2143.7 1562.1,2152.4 1566.2,2135.7 1570.2,2115.5 1574.2,2102.1 1578.3,2110.6 1582.3,2125.4 1586.3,2135.3 1590.4,2116.4 1594.4,2101.4 1598.4,2111.5 1602.5,2092.4 1606.5,2096.9 1610.5,2086.2 1614.6,2082.2 1618.6,2099.2 1622.6,2100.9 1626.7,2088.1 1630.7,2100.2 1634.7,2127.9 1638.8,2122.1" stroke="#fb4141" stroke-width="10.5" />
<path d="M223.1 1915.9H1836.4" stroke="#505050" stroke-width="2" fill="none"/>
<polyline points="223.1,2042.4 227.1,2054.6 231.2,2041.2 235.2,2032.6 239.2,2048.3 243.3,2069.0 247.3,2032.6 251.3,2054.1 255.4,2036.6 259.4,2057.1 263.4,2048.0 267.5,2056.8 271.5,2005.7 275.5,2046.6 279.6,2029.2 283.6,2070.2 287.6,2008.2 291.7,2019.1 295.7,2023.6 299.7,2071.7 303.8,2038.6 307.8,2049.5 311.8,2049.7 315.9,2074.2 319.9,2038.8 323.9,2050.1 328.0,2076.6 332.0,2055.8 336.0,2057.1 340.1,2059.2 344.1,2069.3 348.1,2038.3 352.2,2090.6 356.2,2047.7 360.2,2022.8 364.3,2038.4 368.3,2046.1 372.3,2083.3 376.4,2025.3 380.4,2058.0 384.4,2040.6 388.5,2017.9 392.5,2075.1 396.5,2029.2 400.6,2017.9 404.6,2034.7 408.6,2041.6 412.7,2052.5 416.7,2020.4 420.7,2052.4 424.8,2051.0 428.8,2062.0 432.8,2043.1 436.9,2019.8 440.9,2037.5 444.9,2026.9 449.0,2058.0 453.0,2049.2 457.0,2069.3 461.1,2031.9 465.1,2036.3 469.1,2051.7 473.2,2062.0 477.2,2024.0 481.2,2056.9 485.3,2053.5 489.3,2066.8 493.3,2048.8 497.4,2058.7 501.4,2042.4 505.4,2054.4 509.5,2036.2 513.5,2056.6 517.5,2067.4 521.6,2054.6 525.6,2043.6 529.6,2059.6 533.7,2032.6 537.7,2082.4 541.7,2074.1 545.8,2064.4 549.8,2055.9 553.8,2050.3 557.9,2069.4 561.9,2030.2 565.9,2058.1 570.0,2062.3 574.0,2086.4 578.0,2053.6 582.1,2053.6 586.1,2052.2 590.1,2069.9 594.2,2046.6 598.2,2017.9 602.2,2052.5 606.3,2056.6 610.3,2047.0 612.3,2043.3 614.3,2029.0 616.3,2029.0 618.4,2028.5 620.4,2045.6 622.4,2064.0 624.4,2059.8 626.4,2058.5 628.4,2032.5 630.5,2030.5 632.5,2006.8 634.5,2010.3 636.5,2026.6 638.5,2040.1 640.5,2044.0 642.6,2041.3 644.6,2029.9 646.6,2028.9 648.6,2028.4 650.6,2017.4 652.6,2026.7 654.7,2012.0 656.7,2014.3 658.7,1984.3 660.7,1971.3 662.7,1959.0 664.7,1960.7 666.8,1950.9 668.8,1952.1 670.8,1957.7 672.8,1943.8 674.8,1916.6 676.8,1911.5 678.9,1897.9 680.9,1900.6 682.9,1927.0 684.9,1915.3 686.9,1928.7 688.9,1941.3 691.0,1937.8 693.0,1934.1 695.0,1915.4 697.0,1939.3 699.0,1921.6 701.0,1930.4 703.1,1937.7 705.1,1928.8 707.1,1920.0 709.1,1911.4 711.1,1896.6 713.1,1911.4 715.2,1906.6 717.2,1914.4 719.2,1929.2 721.2,1922.3 723.2,1923.9 725.2,1914.7 727.3,1906.4 729.3,1892.0 731.3,1906.6 733.3,1911.3 735.3,1914.2 737.3,1919.6 739.4,1929.1 741.4,1911.3 743.4,1927.2 745.4,1927.4 747.4,1928.6 749.4,1920.3 751.5,1906.6 753.5,1902.5 755.5,1911.2 757.5,1914.4 759.5,1919.6 761.5,1928.5 763.6,1920.5 765.6,1928.4 767.6,1917.8 769.6,1932.0 771.6,1931.9 773.6,1932.3 775.7,1927.2 777.7,1913.8 779.7,1918.5 781.7,1930.8 783.7,1936.2 785.7,1927.9 787.8,1926.4 789.8,1916.8 791.8,1912.2 793.8,1914.1 795.8,1924.8 797.8,1917.8 799.9,1922.8 801.9,1921.9 803.9,1914.1 805.9,1911.2 807.9,1917.0 809.9,1907.3 812.0,1922.6 814.0,1903.3 816.0,1906.3 818.0,1898.2 820.0,1896.9 822.0,1919.8 824.1,1926.1 826.1,1929.8 828.1,1948.8 830.1,1947.6 832.1,1954.6 834.1,1949.8 836.2,1940.8 838.2,1930.7 840.2,1926.5 842.2,1950.6 844.2,1950.6 846.2,1958.7 848.3,1956.2 850.3,1951.1 852.3,1949.5 854.3,1935.5 856.3,1934.3 858.3,1950.7 860.4,1935.3 862.4,1933.0 864.4,1935.2 866.4,1939.6 868.4,1936.9 870.4,1941.7 872.5,1927.9 874.5,1920.8 876.5,1928.4 878.5,1899.5 880.5,1907.2 882.5,1918.7 884.6,1920.0 886.6,1919.7 888.6,1947.0 890.6,1948.4 892.6,1943.9 894.6,1959.3 896.7,1954.2 898.7,1940.9 900.7,1930.4 902.7,1925.7 904.7,1928.0 906.7,1934.5 908.8,1952.1 910.8,1958.5 912.8,1953.6 914.8,1949.0 916.8,1935.3 918.8,1934.2 920.9,1952.6 922.9,1936.6 924.9,1946.3 926.9,1946.6 928.9,1931.5 930.9,1931.3 933.0,1932.9 935.0,1939.5 937.0,1935.9 939.0,1958.0 941.0,1949.1 943.0,1959.1 945.1,1952.6 947.1,1953.0 949.1,1927.1 951.1,1926.3 953.1,1936.0 955.1,1949.2 957.2,1948.2 959.2,1954.5 961.2,1948.0 963.2,1935.2 965.2,1933.1 967.2,1937.3 969.3,1933.7 971.3,1936.6 973.3,1930.7 975.3,1931.2 977.3,1924.3 979.3,1928.1 981.4,1911.8 983.4,1913.5 985.4,1904.7 987.4,1900.8 989.4,1887.6 991.4,1897.5 993.5,1914.4 995.5,1921.3 997.5,1917.8 999.5,1924.2 1001.5,1922.6 1003.5,1914.7 1005.6,1900.6 1007.6,1906.5 1009.6,1891.9 1011.6,1906.7 1013.6,1908.6 1015.6,1908.7 1017.7,1914.7 1019.7,1920.9 1021.7,1928.5 1023.7,1927.9 1025.7,1932.4 1027.7,1933.9 1029.8,1930.0 1031.8,1930.8 1033.8,1924.3 1035.8,1927.7 1037.8,1923.7 1039.8,1918.8 1041.8,1912.2 1043.9,1904.3 1045.9,1908.1 1047.9,1895.9 1049.9,1905.5 1051.9,1921.8 1053.9,1916.8 1056.0,1894.4 1058.0,1863.3 1060.0,1878.6 1062.0,1899.9 1064.0,1899.1 1066.0,1907.7 1068.1,1919.7 1070.1,1912.2 1072.1,1911.7 1074.1,1924.4 1076.1,1917.6 1078.1,1942.0 1080.2,1913.1 1082.2,1935.6 1084.2,1930.8 1086.2,1930.8 1088.2,1938.3 1090.2,1924.0 1092.3,1928.1 1094.3,1927.3 1096.3,1929.8 1098.3,1907.7 1100.3,1902.3 1102.3,1909.0 1104.4,1903.5 1106.4,1892.4 1108.4,1897.5 1110.4,1891.4 1112.4,1895.6 1114.4,1900.6 1116.5,1905.3 1118.5,1902.2 1120.5,1907.2 1122.5,1906.8 1124.5,1911.1 1126.5,1918.6 1128.6,1914.3 1130.6,1915.3 1132.6,1911.4 1134.6,1924.8 1136.6,1939.0 1138.6,1926.4 1140.7,1926.9 1142.7,1932.7 1144.7,1927.3 1146.7,1921.9 1148.7,1918.5 1150.7,1903.7 1152.8,1917.6 1154.8,1921.1 1156.8,1929.6 1158.8,1927.7 1160.8,1928.2 1162.8,1927.0 1164.9,1920.6 1166.9,1914.2 1168.9,1928.3 1170.9,1916.9 1172.9,1920.1 1174.9,1917.9 1177.0,1914.5 1179.0,1907.2 1181.0,1916.9 1183.0,1894.7 1185.0,1902.0 1187.0,1911.9 1189.1,1929.5 1191.1,1923.5 1193.1,1929.2 1195.1,1931.4 1197.1,1939.3 1199.1,1928.5 1201.2,1924.9 1203.2,1916.5 1205.2,1923.1 1207.2,1917.9 1209.2,1925.2 1211.2,1921.1 1213.3,1922.8 1215.3,1919.6 1217.3,1919.4 1219.3,1919.7 1221.3,1919.9 1223.3,1918.9 1225.4,1923.0 1227.4,1927.8 1229.4,1929.4 1231.4,1925.4 1233.4,1928.0 1235.4,1929.1 1237.5,1924.7 1239.5,1950.4 1241.5,1942.7 1243.5,1960.2 1245.5,1955.3 1247.5,1951.8 1249.6,1941.3 1251.6,1928.4 1253.6,1922.0 1255.6,1932.6 1257.6,1936.7 1259.6,1948.2 1261.7,1966.7 1263.7,1942.1 1265.7,1949.8 1267.7,1942.8 1269.7,1933.4 1271.7,1932.9 1273.8,1927.9 1275.8,1916.1 1277.8,1923.8 1279.8,1918.8 1281.8,1923.4 1283.8,1924.4 1285.9,1910.6 1287.9,1909.9 1289.9,1914.9 1291.9,1907.1 1293.9,1936.2 1295.9,1938.8 1298.0,1958.8 1300.0,1951.2 1302.0,1940.8 1304.0,1949.5 1306.0,1936.4 1308.0,1949.7 1310.1,1952.8 1312.1,1960.9 1314.1,1965.4 1316.1,1983.1 1318.1,1979.3 1320.1,1957.8 1322.2,1949.6 1324.2,1948.3 1326.2,1945.7 1328.2,1940.0 1330.2,1958.2 1332.2,1969.2 1334.3,1954.2 1336.3,1960.4 1338.3,1948.6 1340.3,1950.6 1342.3,1941.8 1344.3,1927.7 1346.4,1937.2 1348.4,1944.6 1350.4,1943.7 1352.4,1957.4 1354.4,1973.8 1356.4,1970.5 1358.5,1956.2 1360.5,1935.1 1362.5,1925.4 1364.5,1934.7 1366.5,1940.7 1368.5,1943.5 1370.6,1943.8 1372.6,1951.0 1374.6,1957.4 1376.6,1923.2 1378.6,1919.4 1380.6,1920.4 1382.7,1911.9 1384.7,1906.6 1386.7,1905.5 1388.7,1914.4 1390.7,1930.2 1392.7,1918.8 1394.8,1920.2 1396.8,1934.6 1398.8,1937.3 1400.8,1932.0 1402.8,1942.4 1404.8,1933.0 1406.9,1938.2 1408.9,1953.0 1410.9,1936.2 1412.9,1945.3 1414.9,1937.6 1416.9,1921.6 1419.0,1929.6 1421.0,1921.8 1423.0,1926.6 1425.0,1909.2 1427.0,1920.1 1429.0,1903.5 1431.1,1921.6 1433.1,1929.9 1435.1,1929.7 1437.1,1932.0 1439.1,1911.6 1441.1,1918.7 1443.2,1900.3 1445.2,1891.2 1447.2,1888.2 1449.2,1921.1 1451.2,1935.8 1453.2,1962.2 1455.3,1953.9 1457.3,1960.9 1459.3,1947.0 1461.3,1936.9 1463.3,1940.5 1465.3,1936.8 1467.4,1944.5 1469.4,1950.4 1471.4,1956.5 1473.4,1947.5 1475.4,1949.3 1477.4,1936.7 1479.5,1941.8 1481.5,1946.0 1483.5,1961.0 1485.5,1971.4 1487.5,1981.4 1489.5,1961.1 1491.6,1976.7 1493.6,1970.2 1495.6,1950.9 1497.6,1949.7 1499.6,1944.9 1501.6,1954.9 1503.7,1944.4 1505.7,1954.8 1507.7,1930.4 1509.7,1933.2 1511.7,1935.0 1513.7,1934.4 1515.8,1944.3 1517.8,1936.6 1519.8,1937.6 1521.8,1935.8 1523.8,1949.9 1525.8,1952.4 1527.9,1959.3 1529.9,1968.4 1531.9,1980.1 1533.9,1972.6 1535.9,1960.7 1537.9,1963.3 1540.0,1968.7 1542.0,1977.7 1544.0,1984.8 1546.0,1965.8 1548.0,1965.7 1550.0,1956.9 1552.1,1956.0 1554.1,1929.1 1556.1,1924.9 1558.1,1927.5 1560.1,1915.8 1562.1,1907.0 1564.2,1893.7 1566.2,1906.5 1568.2,1912.7 1570.2,1935.4 1572.2,1942.4 1574.2,1953.1 1576.3,1961.4 1578.3,1936.3 1580.3,1895.2 1582.3,1904.5 1584.3,1919.1 1586.3,1926.1 1588.4,1916.3 1590.4,1918.0 1592.4,1930.5 1594.4,1949.6 1596.4,1964.7 1598.4,1950.5 1600.5,1938.6 1602.5,1939.8 1604.5,1957.0 1606.5,1971.5 1608.5,1954.4 1610.5,1940.3 1612.6,1943.9 1614.6,1939.1 1616.6,1942.7 1618.6,1940.5 1620.6,1928.6 1622.6,1939.6 1624.7,1923.9 1626.7,1926.2 1628.7,1915.5 1630.7,1906.5 1632.7,1910.3 1634.7,1921.4 1636.8,1933.3 1638.8,1947.0" stroke="#505050" stroke-width="10.5" />
<polyline points="223.1,1970.6 227.1,1969.3 231.2,1971.6 235.2,1970.0 239.2,1968.4 243.3,1969.3 247.3,1970.1 251.3,1969.2 255.4,1968.3 259.4,1970.0 263.4,1970.8 267.5,1968.6 271.5,1971.7 275.5,1970.1 279.6,1971.3 283.6,1971.9 287.6,1971.1 291.7,1974.0 295.7,1970.8 299.7,1970.4 303.8,1961.0 307.8,1952.7 311.8,1938.1 315.9,1924.3 319.9,1915.8 323.9,1909.1 328.0,1906.1 332.0,1904.4 336.0,1904.9 340.1,1904.8 344.1,1905.5 348.1,1905.5 352.2,1905.4 356.2,1905.1 360.2,1904.7 364.3,1904.8 368.3,1904.2 372.3,1904.3 376.4,1904.7 380.4,1904.4 384.4,1904.8 388.5,1904.3 392.5,1904.4 396.5,1904.4 400.6,1904.8 404.6,1904.3 408.6,1905.5 412.7,1905.9 416.7,1907.2 420.7,1908.1 424.8,1908.1 428.8,1908.6 432.8,1909.3 436.9,1909.4 440.9,1910.1 444.9,1910.3 449.0,1910.8 453.0,1911.1 457.0,1911.6 461.1,1911.7 465.1,1911.9 469.1,1912.1 473.2,1912.2 477.2,1912.4 481.2,1912.7 485.3,1912.6 489.3,1912.4 493.3,1912.1 497.4,1911.7 501.4,1911.3 505.4,1911.2 509.5,1911.1 513.5,1910.9 517.5,1911.0 521.6,1910.8 525.6,1910.4 529.6,1910.4 533.7,1910.4 537.7,1910.1 541.7,1909.8 545.8,1909.9 549.8,1909.6 553.8,1909.2 557.9,1911.4 561.9,1913.7 565.9,1921.3 570.0,1937.4 574.0,1955.5 578.0,1974.4 582.1,1989.8 586.1,2006.5 590.1,2019.5 594.2,2036.6 598.2,2059.7 602.2,2049.4 606.3,2083.5 610.3,2112.0 614.3,2143.4 618.4,2164.8 622.4,2185.3 626.4,2202.2 630.5,2217.1 634.5,2232.0 638.5,2244.1 642.6,2261.6 646.6,2283.4 650.6,2306.9 654.7,2328.7 658.7,2349.5 662.7,2368.2 666.8,2380.3 670.8,2392.8 674.8,2403.5 678.9,2410.4 682.9,2415.7 686.9,2421.5 691.0,2422.9 695.0,2419.4 699.0,2416.4 703.1,2417.9 707.1,2416.8 711.1,2413.1 715.2,2416.1 719.2,2416.2 723.2,2417.2 727.3,2422.9 731.3,2426.2 735.3,2434.9 739.4,2441.1 743.4,2442.4 747.4,2438.5 751.5,2433.4 755.5,2436.6 759.5,2436.3 763.6,2435.2 767.6,2428.9 771.6,2418.7 775.7,2410.5 779.7,2399.7 783.7,2393.0 787.8,2390.1 791.8,2393.7 795.8,2405.7 799.9,2384.8 803.9,2367.6 807.9,2359.3 812.0,2351.6 816.0,2341.9 820.0,2331.3 824.1,2322.6 828.1,2323.6 832.1,2324.6 836.2,2326.2 840.2,2328.7 844.2,2318.4 848.3,2312.6 852.3,2313.6 856.3,2306.7 860.4,2298.6 864.4,2290.8 868.4,2287.2 872.5,2291.5 876.5,2293.9 880.5,2298.4 884.6,2300.2 888.6,2291.7 892.6,2274.7 896.7,2261.6 900.7,2273.9 904.7,2279.4 908.8,2275.8 912.8,2273.4 916.8,2274.3 920.9,2276.6 924.9,2275.5 928.9,2273.4 933.0,2267.6 937.0,2263.2 941.0,2252.5 945.1,2243.6 949.1,2237.8 953.1,2232.2 957.2,2226.7 961.2,2223.1 965.2,2215.8 969.3,2207.7 973.3,2203.6 977.3,2198.0 981.4,2194.9 985.4,2191.8 989.4,2193.1 993.5,2202.0 997.5,2209.3 1001.5,2209.7 1005.6,2213.0 1009.6,2215.9 1013.6,2224.7 1017.7,2234.0 1021.7,2238.5 1025.7,2246.7 1029.8,2257.6 1033.8,2268.8 1037.8,2279.4 1041.8,2291.2 1045.9,2303.1 1049.9,2316.0 1053.9,2331.4 1058.0,2348.3 1062.0,2362.2 1066.0,2377.7 1070.1,2386.3 1074.1,2389.9 1078.1,2395.4 1082.2,2399.4 1086.2,2405.0 1090.2,2408.3 1094.3,2414.1 1098.3,2416.0 1102.3,2418.2 1106.4,2421.1 1110.4,2422.7 1114.4,2422.3 1118.5,2419.3 1122.5,2418.1 1126.5,2414.7 1130.6,2412.6 1134.6,2411.3 1138.6,2411.8 1142.7,2411.1 1146.7,2408.5 1150.7,2412.9 1154.8,2414.3 1158.8,2415.6 1162.8,2412.7 1166.9,2411.7 1170.9,2408.5 1174.9,2398.4 1179.0,2394.8 1183.0,2390.0 1187.0,2389.5 1191.1,2389.7 1195.1,2389.5 1199.1,2388.8 1203.2,2386.6 1207.2,2384.1 1211.2,2390.2 1215.3,2394.2 1219.3,2399.7 1223.3,2387.4 1227.4,2381.9 1231.4,2378.1 1235.4,2378.0 1239.5,2379.7 1243.5,2378.5 1247.5,2377.4 1251.6,2373.6 1255.6,2356.0 1259.6,2341.2 1263.7,2333.2 1267.7,2326.8 1271.7,2322.0 1275.8,2327.3 1279.8,2331.9 1283.8,2335.6 1287.9,2337.1 1291.9,2343.6 1295.9,2348.9 1300.0,2350.7 1304.0,2343.3 1308.0,2337.1 1312.1,2322.4 1316.1,2311.1 1320.1,2304.8 1324.2,2305.5 1328.2,2307.2 1332.2,2302.8 1336.3,2291.7 1340.3,2284.5 1344.3,2276.2 1348.4,2269.4 1352.4,2274.9 1356.4,2283.2 1360.5,2291.2 1364.5,2291.3 1368.5,2297.1 1372.6,2300.8 1376.6,2304.1 1380.6,2309.0 1384.7,2313.8 1388.7,2304.7 1392.7,2297.3 1396.8,2290.0 1400.8,2292.5 1404.8,2290.6 1408.9,2290.4 1412.9,2287.8 1416.9,2291.0 1421.0,2290.7 1425.0,2285.7 1429.0,2290.9 1433.1,2295.0 1437.1,2297.0 1441.1,2298.3 1445.2,2298.6 1449.2,2296.8 1453.2,2286.9 1457.3,2276.3 1461.3,2265.8 1465.3,2262.7 1469.4,2250.1 1473.4,2237.4 1477.4,2235.1 1481.5,2222.8 1485.5,2206.7 1489.5,2214.8 1493.6,2221.0 1497.6,2226.6 1501.6,2226.1 1505.7,2224.4 1509.7,2223.3 1513.7,2225.5 1517.8,2231.8 1521.8,2241.4 1525.8,2243.5 1529.9,2236.1 1533.9,2227.0 1537.9,2229.3 1542.0,2231.1 1546.0,2235.5 1550.0,2229.7 1554.1,2223.5 1558.1,2220.6 1562.1,2215.7 1566.2,2209.1 1570.2,2212.6 1574.2,2219.4 1578.3,2216.2 1582.3,2201.4 1586.3,2194.9 1590.4,2191.3 1594.4,2188.2 1598.4,2186.4 1602.5,2183.0 1606.5,2182.7 1610.5,2184.9 1614.6,2188.5 1618.6,2186.2 1622.6,2182.7 1626.7,2183.4 1630.7,2190.6 1634.7,2196.6 1638.8,2203.6" stroke="#0a64dc" stroke-width="10.5" />
<polyline points="223.1,1984.0 227.1,1984.0 231.2,1983.7 235.2,1981.3 239.2,1982.4 243.3,1981.3 247.3,1981.4 251.3,1981.5 255.4,1980.6 259.4,1981.3 263.4,1980.5 267.5,1981.0 271.5,1980.9 275.5,1982.6 279.6,1983.6 283.6,1984.0 287.6,1983.1 291.7,1985.6 295.7,1982.7 299.7,1981.5 303.8,1980.7 307.8,1963.9 311.8,1951.3 315.9,1934.1 319.9,1923.5 323.9,1915.0 328.0,1911.0 332.0,1908.4 336.0,1908.7 340.1,1908.5 344.1,1909.0 348.1,1908.6 352.2,1908.6 356.2,1908.3 360.2,1908.6 364.3,1908.2 368.3,1907.9 372.3,1907.8 376.4,1908.0 380.4,1907.6 384.4,1907.8 388.5,1908.0 392.5,1908.0 396.5,1907.8 400.6,1908.0 404.6,1907.8 408.6,1908.4 412.7,1909.1 416.7,1909.9 420.7,1910.5 424.8,1910.7 428.8,1911.0 432.8,1911.5 436.9,1911.7 440.9,1912.1 444.9,1912.4 449.0,1912.8 453.0,1913.2 457.0,1913.4 461.1,1913.6 465.1,1913.8 469.1,1913.9 473.2,1914.2 477.2,1914.8 481.2,1915.5 485.3,1916.2 489.3,1917.0 493.3,1917.6 497.4,1917.0 501.4,1916.3 505.4,1915.6 509.5,1914.9 513.5,1914.1 517.5,1913.4 521.6,1912.8 525.6,1912.0 529.6,1911.3 533.7,1910.7 537.7,1910.6 541.7,1910.4 545.8,1910.1 549.8,1910.2 553.8,1909.9 557.9,1911.9 561.9,1914.6 565.9,1928.6 570.0,1948.7 574.0,1968.3 578.0,1990.0 582.1,2004.2 586.1,2021.3 590.1,2037.2 594.2,2060.4 598.2,2084.3 602.2,2093.5 606.3,2130.7 610.3,2165.2 614.3,2202.1 618.4,2226.2 622.4,2249.1 626.4,2266.5 630.5,2281.8 634.5,2298.4 638.5,2319.4 642.6,2350.8 646.6,2377.5 650.6,2409.0 654.7,2437.7 658.7,2468.0 662.7,2492.1 666.8,2514.1 670.8,2533.5 674.8,2551.4 678.9,2569.6 682.9,2580.3 686.9,2590.1 691.0,2600.2 695.0,2603.0 699.0,2606.1 703.1,2612.8 707.1,2615.7 711.1,2620.2 715.2,2623.9 719.2,2623.3 723.2,2625.9 727.3,2633.2 731.3,2639.4 735.3,2647.2 739.4,2653.8 743.4,2660.7 747.4,2658.2 751.5,2654.1 755.5,2662.6 759.5,2658.0 763.6,2656.4 767.6,2659.5 771.6,2645.2 775.7,2633.1 779.7,2618.0 783.7,2610.8 787.8,2606.4 791.8,2612.8 795.8,2620.9 799.9,2598.9 803.9,2578.8 807.9,2568.0 812.0,2559.2 816.0,2546.0 820.0,2533.2 824.1,2525.3 828.1,2525.2 832.1,2520.6 836.2,2524.1 840.2,2524.8 844.2,2515.9 848.3,2505.1 852.3,2504.7 856.3,2497.1 860.4,2491.0 864.4,2482.3 868.4,2477.0 872.5,2476.6 876.5,2482.0 880.5,2482.5 884.6,2486.8 888.6,2477.9 892.6,2459.3 896.7,2448.2 900.7,2461.4 904.7,2465.6 908.8,2464.5 912.8,2461.3 916.8,2458.1 920.9,2461.4 924.9,2462.6 928.9,2461.3 933.0,2458.7 937.0,2454.1 941.0,2445.8 945.1,2441.0 949.1,2436.6 953.1,2432.0 957.2,2428.4 961.2,2423.0 965.2,2415.6 969.3,2408.1 973.3,2404.1 977.3,2405.0 981.4,2407.1 985.4,2401.0 989.4,2399.9 993.5,2410.7 997.5,2421.8 1001.5,2423.7 1005.6,2426.7 1009.6,2434.3 1013.6,2443.9 1017.7,2454.7 1021.7,2459.9 1025.7,2469.8 1029.8,2477.8 1033.8,2488.3 1037.8,2497.6 1041.8,2512.4 1045.9,2525.2 1049.9,2543.6 1053.9,2560.3 1058.0,2578.4 1062.0,2591.3 1066.0,2604.2 1070.1,2610.2 1074.1,2616.6 1078.1,2618.1 1082.2,2624.6 1086.2,2630.8 1090.2,2635.4 1094.3,2637.5 1098.3,2638.3 1102.3,2638.2 1106.4,2642.4 1110.4,2642.6 1114.4,2640.7 1118.5,2640.0 1122.5,2641.5 1126.5,2639.1 1130.6,2638.1 1134.6,2637.3 1138.6,2637.9 1142.7,2634.5 1146.7,2634.2 1150.7,2636.0 1154.8,2639.2 1158.8,2639.7 1162.8,2638.5 1166.9,2637.1 1170.9,2635.6 1174.9,2621.8 1179.0,2616.3 1183.0,2612.7 1187.0,2613.0 1191.1,2611.6 1195.1,2613.0 1199.1,2609.9 1203.2,2605.2 1207.2,2603.9 1211.2,2606.9 1215.3,2609.4 1219.3,2613.1 1223.3,2601.4 1227.4,2592.1 1231.4,2587.0 1235.4,2582.4 1239.5,2585.5 1243.5,2584.2 1247.5,2580.3 1251.6,2569.9 1255.6,2555.2 1259.6,2536.7 1263.7,2530.5 1267.7,2521.4 1271.7,2516.1 1275.8,2520.5 1279.8,2525.4 1283.8,2528.2 1287.9,2531.8 1291.9,2536.0 1295.9,2542.6 1300.0,2544.3 1304.0,2534.8 1308.0,2526.3 1312.1,2513.7 1316.1,2499.6 1320.1,2495.0 1324.2,2495.8 1328.2,2497.1 1332.2,2494.1 1336.3,2483.7 1340.3,2476.3 1344.3,2467.5 1348.4,2459.5 1352.4,2467.4 1356.4,2475.4 1360.5,2482.3 1364.5,2485.5 1368.5,2491.0 1372.6,2493.1 1376.6,2500.0 1380.6,2505.1 1384.7,2508.3 1388.7,2500.6 1392.7,2494.0 1396.8,2486.9 1400.8,2491.8 1404.8,2490.6 1408.9,2485.6 1412.9,2487.2 1416.9,2489.1 1421.0,2490.6 1425.0,2488.0 1429.0,2493.8 1433.1,2501.2 1437.1,2498.1 1441.1,2496.8 1445.2,2492.1 1449.2,2492.2 1453.2,2486.2 1457.3,2472.8 1461.3,2465.3 1465.3,2463.1 1469.4,2448.3 1473.4,2439.2 1477.4,2436.8 1481.5,2421.7 1485.5,2404.9 1489.5,2406.1 1493.6,2409.9 1497.6,2405.7 1501.6,2414.6 1505.7,2415.4 1509.7,2417.5 1513.7,2416.0 1517.8,2424.4 1521.8,2430.0 1525.8,2436.9 1529.9,2425.9 1533.9,2419.4 1537.9,2421.1 1542.0,2427.8 1546.0,2430.1 1550.0,2425.8 1554.1,2416.1 1558.1,2413.6 1562.1,2407.3 1566.2,2399.5 1570.2,2405.5 1574.2,2410.3 1578.3,2408.3 1582.3,2390.8 1586.3,2395.2 1590.4,2390.6 1594.4,2383.2 1598.4,2382.8 1602.5,2381.6 1606.5,2377.4 1610.5,2382.7 1614.6,2388.5 1618.6,2382.5 1622.6,2375.0 1626.7,2376.9 1630.7,2382.3 1634.7,2388.7 1638.8,2393.6" stroke="#05ae69" stroke-width="10.5" />
<polyline points="223.1,2474.9 227.1,2479.3 231.2,2482.2 235.2,2486.5 239.2,2488.5 243.3,2492.5 247.3,2493.7 251.3,2497.7 255.4,2496.9 259.4,2498.0 263.4,2496.7 267.5,2497.3 271.5,2499.8 275.5,2500.1 279.6,2493.0 283.6,2486.9 287.6,2482.2 291.7,2476.6 295.7,2473.9 299.7,2473.7 303.8,2478.1 307.8,2488.0 311.8,2502.0 315.9,2514.4 319.9,2519.8 323.9,2526.7 328.0,2527.2 332.0,2525.3 336.0,2519.7 340.1,2517.7 344.1,2515.7 348.1,2515.0 352.2,2514.6 356.2,2515.0 360.2,2518.5 364.3,2519.1 368.3,2520.0 372.3,2520.5 376.4,2515.7 380.4,2512.6 384.4,2512.8 388.5,2516.3 392.5,2517.2 396.5,2519.8 400.6,2522.7 404.6,2523.3 408.6,2524.9 412.7,2518.6 416.7,2510.8 420.7,2508.0 424.8,2505.1 428.8,2504.4 432.8,2505.7 436.9,2505.7 440.9,2507.8 444.9,2508.3 449.0,2510.4 453.0,2509.9 457.0,2513.3 461.1,2513.5 465.1,2513.4 469.1,2516.0 473.2,2520.3 477.2,2524.4 481.2,2527.7 485.3,2531.0 489.3,2534.3 493.3,2531.4 497.4,2527.6 501.4,2527.2 505.4,2527.2 509.5,2522.8 513.5,2521.6 517.5,2526.9 521.6,2529.7 525.6,2535.0 529.6,2537.8 533.7,2543.3 537.7,2545.3 541.7,2547.4 545.8,2545.3 549.8,2544.5 553.8,2546.9 557.9,2550.0 561.9,2548.4 565.9,2545.1 570.0,2533.0 574.0,2522.7 578.0,2507.3 582.1,2492.1 586.1,2482.9 590.1,2472.5 594.2,2455.5 598.2,2436.3 602.2,2399.9 606.3,2380.0 610.3,2361.9 614.3,2347.4 618.4,2332.1 622.4,2319.9 626.4,2313.8 630.5,2301.1 634.5,2285.8 638.5,2267.3 642.6,2246.5 646.6,2220.4 650.6,2195.2 654.7,2167.0 658.7,2140.4 662.7,2117.5 666.8,2097.6 670.8,2082.9 674.8,2066.7 678.9,2054.4 682.9,2040.8 686.9,2032.2 691.0,2029.8 695.0,2027.2 699.0,2025.5 703.1,2023.0 707.1,2017.4 711.1,2014.3 715.2,2008.9 719.2,2005.3 723.2,2001.7 727.3,1995.8 731.3,1987.5 735.3,1976.8 739.4,1975.0 743.4,1973.6 747.4,1976.0 751.5,1977.3 755.5,1970.7 759.5,1967.1 763.6,1968.0 767.6,1965.1 771.6,1972.7 775.7,1979.3 779.7,1989.9 783.7,2001.4 787.8,2005.0 791.8,2004.2 795.8,2004.6 799.9,2018.9 803.9,2034.7 807.9,2041.4 812.0,2048.9 816.0,2059.4 820.0,2070.8 824.1,2079.5 828.1,2081.7 832.1,2085.1 836.2,2087.9 840.2,2091.7 844.2,2096.9 848.3,2104.0 852.3,2111.9 856.3,2118.4 860.4,2125.6 864.4,2131.0 868.4,2132.5 872.5,2131.9 876.5,2132.5 880.5,2128.3 884.6,2128.7 888.6,2136.6 892.6,2141.7 896.7,2144.2 900.7,2148.2 904.7,2149.9 908.8,2148.2 912.8,2150.2 916.8,2148.1 920.9,2145.4 924.9,2144.3 928.9,2145.5 933.0,2145.3 937.0,2150.0 941.0,2155.7 945.1,2160.7 949.1,2165.1 953.1,2169.9 957.2,2171.4 961.2,2176.4 965.2,2178.2 969.3,2182.5 973.3,2182.8 977.3,2183.8 981.4,2182.3 985.4,2175.3 989.4,2168.5 993.5,2159.4 997.5,2152.1 1001.5,2147.6 1005.6,2146.4 1009.6,2141.7 1013.6,2136.2 1017.7,2130.0 1021.7,2119.7 1025.7,2112.9 1029.8,2104.0 1033.8,2095.2 1037.8,2086.3 1041.8,2078.2 1045.9,2066.8 1049.9,2057.3 1053.9,2044.4 1058.0,2033.4 1062.0,2023.5 1066.0,2014.2 1070.1,2010.4 1074.1,2005.3 1078.1,2003.8 1082.2,2000.4 1086.2,1996.1 1090.2,1994.0 1094.3,1993.1 1098.3,1994.2 1102.3,1999.2 1106.4,1997.7 1110.4,1995.2 1114.4,1995.4 1118.5,1993.7 1122.5,1992.1 1126.5,1997.5 1130.6,1998.9 1134.6,2002.3 1138.6,2003.1 1142.7,2006.6 1146.7,2002.5 1150.7,2004.1 1154.8,2001.4 1158.8,1999.1 1162.8,1997.2 1166.9,1996.1 1170.9,1995.0 1174.9,1997.8 1179.0,2004.9 1183.0,2008.7 1187.0,2012.9 1191.1,2013.3 1195.1,2012.7 1199.1,2012.7 1203.2,2011.2 1207.2,2011.3 1211.2,2005.1 1215.3,2002.8 1219.3,2002.4 1223.3,2009.5 1227.4,2018.5 1231.4,2026.2 1235.4,2030.1 1239.5,2036.2 1243.5,2033.8 1247.5,2031.9 1251.6,2035.9 1255.6,2046.3 1259.6,2054.7 1263.7,2065.0 1267.7,2071.6 1271.7,2076.3 1275.8,2076.9 1279.8,2075.2 1283.8,2072.3 1287.9,2067.5 1291.9,2065.4 1295.9,2063.7 1300.0,2061.9 1304.0,2068.9 1308.0,2077.7 1312.1,2082.9 1316.1,2092.6 1320.1,2093.6 1324.2,2091.8 1328.2,2093.0 1332.2,2096.5 1336.3,2100.7 1340.3,2106.3 1344.3,2115.5 1348.4,2116.5 1352.4,2117.2 1356.4,2109.1 1360.5,2099.8 1364.5,2098.6 1368.5,2094.3 1372.6,2089.5 1376.6,2085.8 1380.6,2083.2 1384.7,2077.4 1388.7,2079.7 1392.7,2086.0 1396.8,2091.3 1400.8,2098.3 1404.8,2097.6 1408.9,2094.7 1412.9,2094.7 1416.9,2093.9 1421.0,2096.3 1425.0,2096.6 1429.0,2091.9 1433.1,2090.6 1437.1,2091.4 1441.1,2090.4 1445.2,2091.4 1449.2,2092.6 1453.2,2097.8 1457.3,2103.4 1461.3,2110.1 1465.3,2120.0 1469.4,2130.4 1473.4,2141.2 1477.4,2153.7 1481.5,2161.7 1485.5,2170.3 1489.5,2165.9 1493.6,2163.3 1497.6,2160.5 1501.6,2155.5 1505.7,2153.0 1509.7,2146.5 1513.7,2142.9 1517.8,2136.6 1521.8,2131.6 1525.8,2136.4 1529.9,2145.4 1533.9,2145.6 1537.9,2145.4 1542.0,2141.5 1546.0,2147.5 1550.0,2152.1 1554.1,2157.3 1558.1,2163.4 1562.1,2166.5 1566.2,2167.8 1570.2,2159.7 1574.2,2165.3 1578.3,2174.8 1582.3,2176.2 1586.3,2180.7 1590.4,2181.2 1594.4,2178.1 1598.4,2177.9 1602.5,2175.7 1606.5,2170.6 1610.5,2165.3 1614.6,2161.8 1618.6,2163.3 1622.6,2162.1 1626.7,2155.3 1630.7,2147.8 1634.7,2136.5 1638.8,2128.3" stroke="#c878e4" stroke-width="10.5" />
<polyline points="223.1,2605.1 227.1,2605.7 231.2,2611.8 235.2,2614.3 239.2,2617.6 243.3,2620.7 247.3,2623.5 251.3,2624.5 255.4,2626.6 259.4,2624.7 263.4,2624.9 267.5,2625.7 271.5,2629.4 275.5,2630.9 279.6,2628.4 283.6,2624.3 287.6,2615.0 291.7,2609.7 295.7,2608.6 299.7,2607.0 303.8,2612.1 307.8,2620.3 311.8,2632.9 315.9,2646.1 319.9,2655.6 323.9,2662.3 328.0,2666.3 332.0,2662.7 336.0,2658.8 340.1,2654.5 344.1,2653.4 348.1,2652.9 352.2,2649.4 356.2,2651.0 360.2,2653.3 364.3,2652.5 368.3,2653.4 372.3,2650.4 376.4,2646.8 380.4,2643.3 384.4,2641.8 388.5,2642.9 392.5,2644.0 396.5,2647.6 400.6,2648.6 404.6,2650.3 408.6,2653.5 412.7,2646.6 416.7,2641.2 420.7,2640.3 424.8,2637.0 428.8,2637.9 432.8,2640.0 436.9,2640.9 440.9,2642.0 444.9,2644.8 449.0,2647.2 453.0,2648.0 457.0,2649.6 461.1,2650.8 465.1,2652.6 469.1,2655.2 473.2,2658.0 477.2,2665.5 481.2,2670.6 485.3,2673.7 489.3,2676.3 493.3,2672.8 497.4,2672.5 501.4,2669.8 505.4,2672.3 509.5,2666.7 513.5,2664.3 517.5,2669.2 521.6,2673.1 525.6,2674.1 529.6,2677.6 533.7,2682.2 537.7,2681.0 541.7,2682.0 545.8,2681.3 549.8,2680.0 553.8,2685.0 557.9,2687.1 561.9,2685.1 565.9,2680.3 570.0,2669.1 574.0,2653.7 578.0,2637.8 582.1,2623.3 586.1,2610.0 590.1,2599.9 594.2,2580.3 598.2,2557.1 602.2,2531.5 606.3,2511.4 610.3,2489.3 614.3,2465.8 618.4,2443.0 622.4,2421.4 626.4,2407.0 630.5,2388.8 634.5,2367.9 638.5,2345.0 642.6,2319.2 646.6,2294.1 650.6,2266.3 654.7,2238.2 658.7,2207.6 662.7,2185.6 666.8,2161.3 670.8,2139.9 674.8,2118.9 678.9,2098.6 682.9,2085.1 686.9,2070.4 691.0,2064.4 695.0,2059.0 699.0,2052.7 703.1,2047.9 707.1,2043.1 711.1,2034.6 715.2,2027.4 719.2,2020.8 723.2,2017.5 727.3,2013.4 731.3,2002.9 735.3,1991.7 739.4,1989.8 743.4,1987.5 747.4,1986.7 751.5,1989.8 755.5,1981.5 759.5,1977.2 763.6,1975.1 767.6,1975.5 771.6,1981.5 775.7,1992.8 779.7,2003.0 783.7,2013.4 787.8,2017.0 791.8,2016.1 795.8,2017.1 799.9,2034.6 803.9,2049.7 807.9,2058.2 812.0,2070.1 816.0,2080.8 820.0,2096.0 824.1,2102.2 828.1,2103.4 832.1,2101.5 836.2,2106.1 840.2,2113.1 844.2,2119.5 848.3,2128.7 852.3,2135.5 856.3,2144.9 860.4,2152.1 864.4,2158.7 868.4,2162.7 872.5,2162.3 876.5,2160.2 880.5,2156.9 884.6,2162.8 888.6,2169.0 892.6,2179.1 896.7,2185.7 900.7,2182.7 904.7,2176.5 908.8,2177.7 912.8,2177.8 916.8,2178.3 920.9,2176.3 924.9,2173.8 928.9,2171.4 933.0,2172.3 937.0,2176.5 941.0,2181.8 945.1,2187.8 949.1,2189.4 953.1,2194.7 957.2,2195.9 961.2,2198.7 965.2,2201.9 969.3,2204.2 973.3,2204.3 977.3,2199.3 981.4,2197.3 985.4,2198.1 989.4,2197.3 993.5,2181.3 997.5,2166.9 1001.5,2163.1 1005.6,2156.5 1009.6,2149.5 1013.6,2142.1 1017.7,2134.5 1021.7,2126.6 1025.7,2117.2 1029.8,2110.8 1033.8,2099.6 1037.8,2090.1 1041.8,2078.2 1045.9,2070.6 1049.9,2058.4 1053.9,2046.9 1058.0,2035.9 1062.0,2026.5 1066.0,2016.8 1070.1,2011.4 1074.1,2009.7 1078.1,2006.4 1082.2,2001.1 1086.2,1999.1 1090.2,1995.6 1094.3,1993.2 1098.3,1997.3 1102.3,2000.2 1106.4,1999.3 1110.4,2000.8 1114.4,1999.0 1118.5,1996.2 1122.5,1995.5 1126.5,1999.3 1130.6,2003.1 1134.6,2003.4 1138.6,2007.4 1142.7,2007.0 1146.7,2007.8 1150.7,2006.6 1154.8,2004.2 1158.8,2004.4 1162.8,2003.1 1166.9,2002.0 1170.9,2001.0 1174.9,2007.1 1179.0,2013.2 1183.0,2020.2 1187.0,2022.3 1191.1,2024.4 1195.1,2024.2 1199.1,2027.0 1203.2,2026.5 1207.2,2026.9 1211.2,2021.1 1215.3,2017.7 1219.3,2020.6 1223.3,2024.7 1227.4,2032.9 1231.4,2042.6 1235.4,2047.8 1239.5,2052.1 1243.5,2053.3 1247.5,2050.8 1251.6,2057.4 1255.6,2069.5 1259.6,2078.2 1263.7,2089.9 1267.7,2096.5 1271.7,2103.7 1275.8,2106.0 1279.8,2102.4 1283.8,2102.2 1287.9,2096.3 1291.9,2093.8 1295.9,2091.2 1300.0,2096.0 1304.0,2099.4 1308.0,2110.9 1312.1,2119.0 1316.1,2124.1 1320.1,2128.8 1324.2,2123.9 1328.2,2122.1 1332.2,2121.3 1336.3,2124.6 1340.3,2131.9 1344.3,2139.6 1348.4,2142.7 1352.4,2144.9 1356.4,2136.8 1360.5,2129.0 1364.5,2119.5 1368.5,2115.4 1372.6,2112.4 1376.6,2110.1 1380.6,2104.7 1384.7,2099.0 1388.7,2098.2 1392.7,2103.4 1396.8,2109.4 1400.8,2114.7 1404.8,2114.8 1408.9,2114.7 1412.9,2110.1 1416.9,2109.8 1421.0,2113.1 1425.0,2114.8 1429.0,2110.6 1433.1,2110.5 1437.1,2111.8 1441.1,2114.0 1445.2,2115.8 1449.2,2115.7 1453.2,2125.2 1457.3,2131.7 1461.3,2140.8 1465.3,2149.7 1469.4,2161.3 1473.4,2170.4 1477.4,2183.6 1481.5,2190.3 1485.5,2198.8 1489.5,2198.7 1493.6,2199.0 1497.6,2194.9 1501.6,2191.6 1505.7,2186.1 1509.7,2180.4 1513.7,2174.6 1517.8,2169.9 1521.8,2162.3 1525.8,2168.5 1529.9,2174.4 1533.9,2176.9 1537.9,2171.7 1542.0,2169.5 1546.0,2173.0 1550.0,2180.5 1554.1,2185.5 1558.1,2191.0 1562.1,2197.7 1566.2,2194.9 1570.2,2191.8 1574.2,2194.5 1578.3,2204.6 1582.3,2204.5 1586.3,2206.5 1590.4,2203.5 1594.4,2203.1 1598.4,2199.6 1602.5,2197.3 1606.5,2194.7 1610.5,2190.2 1614.6,2190.4 1618.6,2191.5 1622.6,2189.4 1626.7,2185.3 1630.7,2175.9 1634.7,2168.2 1638.8,2158.0" stroke="#dfa007" stroke-width="10.5" />
</g>
<path d="M614.2 2946.6V1709.9" stroke="#000" stroke-width="13" stroke-dasharray="34.8 26.15" fill="none"/>
<text transform="translate(470.7 1773.4) scale(1 1.02)" text-anchor="middle" class="lb">In water</text>
<text transform="translate(779.6 1773.4) scale(1 1.02)" text-anchor="middle" class="lb">In bilayer</text>
<text transform="translate(1130.5 2752.2) scale(1 1.0)" class="lg">DXP-POPC:</text>
<text transform="translate(1495.4 2752.2) scale(1 1.0)" class="lg">DXP-water:</text>
<path d="M1131.5 2788.5H1221.9" stroke="#fb4141" stroke-width="10.2" stroke-linecap="round" fill="none"/>
<text transform="translate(1235.6 2801.5) scale(1 1.0)" class="lg">VDW</text>
<path d="M1495.3 2788.5H1585.7" stroke="#505050" stroke-width="10.2" stroke-linecap="round" fill="none"/>
<text transform="translate(1599.4 2801.5) scale(1 1.0)" class="lg">VDW</text>
<path d="M1131.5 2838.9H1221.9" stroke="#0a64dc" stroke-width="10.2" stroke-linecap="round" fill="none"/>
<text transform="translate(1235.6 2851.5) scale(1 1.0)" class="lg">Electrostatic</text>
<path d="M1495.3 2838.9H1585.7" stroke="#c878e4" stroke-width="10.2" stroke-linecap="round" fill="none"/>
<text transform="translate(1599.4 2851.5) scale(1 1.0)" class="lg">Electrostatic</text>
<path d="M1131.5 2888.8H1221.9" stroke="#05ae69" stroke-width="10.2" stroke-linecap="round" fill="none"/>
<text transform="translate(1235.6 2901.0) scale(1 1.0)" class="lg">Total</text>
<path d="M1495.3 2888.8H1585.7" stroke="#dfa007" stroke-width="10.2" stroke-linecap="round" fill="none"/>
<text transform="translate(1599.4 2901.0) scale(1 1.0)" class="lg">Total</text>
<text transform="translate(1145.7 3260) scale(1 1.045)" text-anchor="middle" class="cap">(<tspan font-weight="bold">b</tspan>) DXP1</text>
<path d="M223.1 1707.9V2948.0" class="ax"/>
<path d="M221.1 2946.0H1838.4" class="ax"/>
<path d="M202.1 1709.9H223.1M202.1 1915.9H223.1M202.1 2121.9H223.1M202.1 2327.9H223.1M202.1 2534.0H223.1M202.1 2740.0H223.1M202.1 2946.0H223.1M212.6 1812.9H223.1M212.6 2018.9H223.1M212.6 2224.9H223.1M212.6 2431.0H223.1M212.6 2637.0H223.1M212.6 2843.0H223.1M223.1 2946.0v21M424.8 2946.0v21M626.4 2946.0v21M828.1 2946.0v21M1029.8 2946.0v21M1231.4 2946.0v21M1433.1 2946.0v21M1634.7 2946.0v21M1836.4 2946.0v21M323.9 2946.0v10.5M525.6 2946.0v10.5M727.3 2946.0v10.5M928.9 2946.0v10.5M1130.6 2946.0v10.5M1332.2 2946.0v10.5M1533.9 2946.0v10.5M1735.6 2946.0v10.5" class="ax"/>
<text transform="translate(187.1 1724.2) scale(1 1.065)" text-anchor="end" class="tk">50</text>
<text transform="translate(187.1 1930.2) scale(1 1.065)" text-anchor="end" class="tk">0</text>
<text transform="translate(187.1 2136.2) scale(1 1.065)" text-anchor="end" class="tk">−50</text>
<text transform="translate(187.1 2342.2) scale(1 1.065)" text-anchor="end" class="tk">−100</text>
<text transform="translate(187.1 2548.3) scale(1 1.065)" text-anchor="end" class="tk">−150</text>
<text transform="translate(187.1 2754.3) scale(1 1.065)" text-anchor="end" class="tk">−200</text>
<text transform="translate(187.1 2960.3) scale(1 1.065)" text-anchor="end" class="tk">−250</text>
<text transform="translate(223.1 3017.5) scale(1 1.065)" text-anchor="middle" class="tk">0</text>
<text transform="translate(424.8 3017.5) scale(1 1.065)" text-anchor="middle" class="tk">50</text>
<text transform="translate(626.4 3017.5) scale(1 1.065)" text-anchor="middle" class="tk">100</text>
<text transform="translate(828.1 3017.5) scale(1 1.065)" text-anchor="middle" class="tk">150</text>
<text transform="translate(1029.8 3017.5) scale(1 1.065)" text-anchor="middle" class="tk">200</text>
<text transform="translate(1231.4 3017.5) scale(1 1.065)" text-anchor="middle" class="tk">250</text>
<text transform="translate(1433.1 3017.5) scale(1 1.065)" text-anchor="middle" class="tk">300</text>
<text transform="translate(1634.7 3017.5) scale(1 1.065)" text-anchor="middle" class="tk">350</text>
<text transform="translate(1836.4 3017.5) scale(1 1.065)" text-anchor="middle" class="tk">400</text>
<text transform="translate(1029.8 3089.4) scale(1 1.02)" text-anchor="middle" class="lb">t [ns]</text>
<text transform="translate(60.8 2327.9) rotate(-90) scale(1 1.02)" text-anchor="middle" class="lb">Energy [kcal/mol]</text>
<clipPath id="c106"><rect x="223.1" y="3374.8" width="1633.3" height="1236.3"/></clipPath>
<g clip-path="url(#c106)">
<polyline points="223.1,4350.1 227.1,4335.0 231.2,4254.6 235.2,4341.9 239.2,4171.6 243.3,4361.6 247.3,4250.5 251.4,4377.4 255.4,4300.6 259.4,4318.5 263.5,4297.4 267.5,4376.3 271.5,4229.7 275.6,4331.7 279.6,4277.7 283.6,4151.2 287.7,4410.6 291.7,4337.6 295.8,4285.6 299.8,4143.2 303.8,4306.6 307.9,4313.5 311.9,4406.7 315.9,4197.5 320.0,4279.5 324.0,4353.2 328.0,4289.6 332.1,4318.3 336.1,4270.3 340.2,4242.1 344.2,4270.2 348.2,4248.4 352.3,4259.2 356.3,4242.7 360.3,4296.3 364.4,4148.1 368.4,4149.9 372.4,4236.9 376.5,4216.1 380.5,4215.7 384.6,3969.0 388.6,4262.9 392.6,4221.8 396.7,4177.8 400.7,4163.1 404.7,4272.8 408.8,4333.2 412.8,4394.5 416.8,4289.9 420.9,4185.5 424.9,4172.0 429.0,4236.0 433.0,4230.4 437.0,4252.5 441.1,4195.7 445.1,4270.2 449.1,4305.9 453.2,4085.4 457.2,4248.7 461.2,4133.0 465.3,4216.0 469.3,4389.6 473.4,4162.1 477.4,4226.2 481.4,4265.0 485.5,4322.6 489.5,4120.6 493.5,4254.0 497.6,4252.7 501.6,4203.0 505.7,4269.8 509.7,4015.4 513.7,4186.7 517.8,4184.2 521.8,4292.3 525.8,4257.9 529.9,4199.1 533.9,4210.4 537.9,4209.1 542.0,4096.1 546.0,4174.5 550.1,4258.7 554.1,4275.5 558.1,4269.7 562.2,4344.5 566.2,4336.8 570.2,4346.6 574.3,4228.2 578.3,4290.9 582.3,4382.3 586.4,4289.3 590.4,4316.8 594.5,4277.4 598.5,4152.2 602.5,4301.2 606.6,4284.8 610.6,4341.3 614.6,4321.9 618.7,4300.7 622.7,4319.2 626.7,4283.1 630.8,4320.4 634.8,4267.9 638.9,4310.6 642.9,4330.4 646.9,4260.6 651.0,4382.3 655.0,4332.8 659.0,4317.7 663.1,4363.8 667.1,4323.4 671.1,4286.3 675.2,4292.2 679.2,4407.7 683.3,4255.6 687.3,4392.1 691.3,4305.3 695.4,4304.7 699.4,4258.7 703.4,4270.6 707.5,4293.0 711.5,4279.3 715.5,4276.7 719.6,4185.5 723.6,4250.1 727.7,4198.9 731.7,4258.0 735.7,3932.3 739.8,4198.1 743.8,4042.3 747.8,4346.5 751.9,4318.1 755.9,4328.1 759.9,4247.0 764.0,4387.2 768.0,4244.4 772.1,4387.2 776.1,4216.7 780.1,4249.8 784.2,4232.9 788.2,4295.5 792.2,4176.0 796.3,4152.4 800.3,4244.5 804.3,4172.2 808.4,4223.1 812.4,4235.5 816.5,4286.4 820.5,4279.1 824.5,4042.3 828.6,4254.7 832.6,4225.1 836.6,4271.3 840.7,4160.3 844.7,4164.5 848.7,4181.9 852.8,4294.0 856.8,4125.9 860.9,4276.9 864.9,4196.1 868.9,4271.9 873.0,4200.7 877.0,4367.6 881.0,4197.8 885.1,4176.3 889.1,4159.0 893.1,4210.9 897.2,4190.6 901.2,4262.4 905.3,4094.1 909.3,4131.9 913.3,4226.4 917.4,4243.9 921.4,4249.4 925.4,4114.2 929.5,4104.4 933.5,4112.3 937.5,4136.6 941.6,4010.5 945.6,4006.4 949.7,4086.7 953.7,4201.1 957.7,4070.3 961.8,4081.8 965.8,4003.9 969.8,4168.0 973.9,4151.3 977.9,4149.7 981.9,3971.4 986.0,4069.2 990.0,4058.7 994.1,4090.1 998.1,3954.3 1002.1,4020.3 1006.2,3849.1 1010.2,3814.9 1014.2,4083.2 1018.3,3910.0 1022.3,4097.6 1026.4,3904.8 1030.4,4036.2 1034.4,3923.9 1038.5,4083.5 1042.5,4027.8 1046.5,4036.3 1050.6,3983.9 1054.6,4092.9 1058.6,4005.7 1062.7,4032.9 1066.7,4078.6 1070.8,4206.2 1074.8,3910.3 1078.8,3973.5 1082.9,4139.1 1086.9,4110.5 1090.9,4049.1 1095.0,4118.3 1099.0,4085.8 1103.0,4098.8 1107.1,4116.7 1111.1,4228.2 1115.2,4092.5 1119.2,4047.6 1123.2,4010.5 1127.3,3994.6 1131.3,4063.1 1135.3,4008.7 1139.4,4082.0 1143.4,4119.6 1147.4,3880.9 1151.5,4128.8 1155.5,4041.4 1159.6,4068.3 1163.6,4005.7 1167.6,4147.8 1171.7,4085.3 1175.7,3996.9 1179.7,4059.4 1183.8,4071.9 1187.8,4063.5 1191.8,3995.4 1195.9,3974.4 1199.9,3900.5 1204.0,4128.5 1208.0,4018.6 1212.0,4152.1 1216.1,4010.8 1220.1,4092.0 1224.1,4238.0 1228.2,4169.4 1232.2,4108.5 1236.2,4082.0 1240.3,4101.8 1244.3,4001.3 1248.4,4038.7 1252.4,4269.8 1256.4,3910.0 1260.5,3960.8 1264.5,4142.9 1268.5,4125.5 1272.6,4066.0 1276.6,4048.8 1280.6,4088.6 1284.7,3977.0 1288.7,4020.1 1292.8,3953.4 1296.8,3880.9 1300.8,4125.0 1304.9,4176.8 1308.9,3961.6 1312.9,4023.3 1317.0,3962.1 1321.0,4059.3 1325.0,3968.0 1329.1,4006.2 1333.1,4052.3 1337.2,3923.0 1341.2,4124.0 1345.2,4000.4 1349.3,4035.3 1353.3,3819.8 1357.3,4068.8 1361.4,4060.3 1365.4,4091.5 1369.4,4027.5 1373.5,3994.6 1377.5,4269.8 1381.6,4181.6 1385.6,3943.3 1389.6,4139.5 1393.7,4211.1 1397.7,4172.7 1401.7,4000.0 1405.8,4011.0 1409.8,4162.6 1413.8,4008.1 1417.9,3829.6 1421.9,4031.8 1426.0,4036.0 1430.0,4013.6 1434.0,4004.9 1438.1,4230.7 1442.1,4151.8 1446.1,4108.0 1450.2,4233.1 1454.2,3943.6 1458.2,3924.2 1462.3,4094.5 1466.3,4127.9 1470.4,4041.7 1474.4,4055.2 1478.4,4019.6 1482.5,4076.2 1486.5,3976.7 1490.5,4020.9 1494.6,4017.5 1498.6,4157.3 1502.6,4125.1 1506.7,4033.2 1510.7,3930.7 1514.8,3915.3 1518.8,3945.3 1522.8,3964.1 1526.9,4017.3 1530.9,4025.1 1534.9,3882.0 1539.0,3907.4 1543.0,4105.9 1547.1,4053.4 1551.1,3993.9 1555.1,3929.3 1559.2,4023.8 1563.2,3893.9 1567.2,4005.2 1571.3,3987.9 1575.3,4012.6 1579.3,3964.8 1583.4,3901.0 1587.4,4289.3 1591.5,3952.0 1595.5,4026.7 1599.5,3797.8 1603.6,3982.2 1607.6,3889.7 1611.6,3893.3 1615.7,3879.5 1619.7,4029.4 1623.7,3925.6 1627.8,3785.5 1631.8,3891.0 1635.9,3881.0 1639.9,3890.9 1643.9,3933.5 1648.0,4057.8 1652.0,3826.6 1656.0,3704.1 1660.1,3784.5 1664.1,3927.8 1668.1,4052.1 1672.2,4083.2 1676.2,3848.9 1680.3,3996.2 1684.3,4036.5 1688.3,4003.8 1692.4,3926.4 1696.4,4031.0 1700.4,3955.2 1704.5,3919.9 1708.5,3833.0 1712.5,4064.3 1716.6,3858.4 1720.6,3876.2 1724.7,3987.6 1728.7,3963.4 1732.7,4074.2 1736.8,3902.1 1740.8,3854.6 1744.8,4061.9 1748.9,3975.5 1752.9,3897.6 1756.9,3780.7" stroke="#ecd4f6" stroke-width="3.8" />
<polyline points="223.1,3490.7 227.1,3490.8 231.2,3504.2 235.2,3492.3 239.2,3512.2 243.3,3490.4 247.3,3496.7 251.4,3490.8 255.4,3490.9 259.4,3492.6 263.5,3526.3 267.5,3491.2 271.5,3501.3 275.6,3497.1 279.6,3496.4 283.6,3518.9 287.7,3492.3 291.7,3494.2 295.8,3503.6 299.8,3537.0 303.8,3501.6 307.9,3499.6 311.9,3534.0 315.9,3544.0 320.0,3509.1 324.0,3501.6 328.0,3520.0 332.1,3543.2 336.1,3526.0 340.2,3528.8 344.2,3539.0 348.2,3577.2 352.3,3521.4 356.3,3569.4 360.3,3561.0 364.4,3600.4 368.4,3651.0 372.4,3570.4 376.5,3607.8 380.5,3538.3 384.6,3797.8 388.6,3553.2 392.6,3591.0 396.7,3556.4 400.7,3569.4 404.7,3561.1 408.8,3564.0 412.8,3552.2 416.8,3567.3 420.9,3595.6 424.9,3565.5 429.0,3564.4 433.0,3550.9 437.0,3526.6 441.1,3687.6 445.1,3624.1 449.1,3571.5 453.2,3681.3 457.2,3571.2 461.2,3687.2 465.3,3581.0 469.3,3719.3 473.4,3596.6 477.4,3592.6 481.4,3555.0 485.5,3548.2 489.5,3655.9 493.5,3566.6 497.6,3552.0 501.6,3564.1 505.7,3572.1 509.7,3746.4 513.7,3593.9 517.8,3563.2 521.8,3610.3 525.8,3577.4 529.9,3561.5 533.9,3562.4 537.9,3547.6 542.0,3687.7 546.0,3547.5 550.1,3590.0 554.1,3531.6 558.1,3550.6 562.2,3519.2 566.2,3524.6 570.2,3511.6 574.3,3520.7 578.3,3513.8 582.3,3534.4 586.4,3514.0 590.4,3502.1 594.5,3521.2 598.5,3522.1 602.5,3492.2 606.6,3488.1 610.6,3490.2 614.6,3488.4 618.7,3490.8 622.7,3486.9 626.7,3496.8 630.8,3487.4 634.8,3489.2 638.9,3490.0 642.9,3488.3 646.9,3497.2 651.0,3488.1 655.0,3490.3 659.0,3491.5 663.1,3495.0 667.1,3500.0 671.1,3503.3 675.2,3501.8 679.2,3509.6 683.3,3525.7 687.3,3557.8 691.3,3522.5 695.4,3558.0 699.4,3538.4 703.4,3540.9 707.5,3553.1 711.5,3555.3 715.5,3570.3 719.6,3661.8 723.6,3592.5 727.7,3573.2 731.7,3561.8 735.7,3861.4 739.8,3671.7 743.8,3722.0 747.8,3561.8 751.9,3605.6 755.9,3587.4 759.9,3561.1 764.0,3756.9 768.0,3556.2 772.1,3623.4 776.1,3741.6 780.1,3611.8 784.2,3593.3 788.2,3574.9 792.2,3578.1 796.3,3754.7 800.3,3575.0 804.3,3676.1 808.4,3570.3 812.4,3599.6 816.5,3577.6 820.5,3751.3 824.5,3577.3 828.6,3586.8 832.6,3565.0 836.6,3567.9 840.7,3746.6 844.7,3706.8 848.7,3638.7 852.8,3569.6 856.8,3586.2 860.9,3547.4 864.9,3592.0 868.9,3580.3 873.0,3559.3 877.0,3555.2 881.0,3544.4 885.1,3643.4 889.1,3620.1 893.1,3558.3 897.2,3583.5 901.2,3539.3 905.3,3708.9 909.3,3650.8 913.3,3600.2 917.4,3741.5 921.4,3570.9 925.4,3632.4 929.5,3689.2 933.5,3640.9 937.5,3780.7 941.6,3498.1 945.6,3756.7 949.7,3682.6 953.7,3559.6 957.7,3670.5 961.8,3687.5 965.8,3722.0 969.8,3602.2 973.9,3616.5 977.9,3641.9 981.9,3526.7 986.0,3730.7 990.0,3702.4 994.1,3676.6 998.1,3594.0 1002.1,3714.4 1006.2,3708.7 1010.2,3790.4 1014.2,3632.5 1018.3,3792.6 1022.3,3625.4 1026.4,3819.6 1030.4,3650.0 1034.4,3837.5 1038.5,3675.9 1042.5,3717.9 1046.5,3713.2 1050.6,3790.4 1054.6,3636.5 1058.6,3753.4 1062.7,3716.0 1066.7,3681.3 1070.8,3538.5 1074.8,3755.4 1078.8,3767.9 1082.9,3607.4 1086.9,3775.8 1090.9,3684.5 1095.0,3587.3 1099.0,3581.7 1103.0,3616.1 1107.1,3598.3 1111.1,3548.3 1115.2,3632.7 1119.2,3679.3 1123.2,3658.6 1127.3,3701.9 1131.3,3712.1 1135.3,3724.5 1139.4,3667.7 1143.4,3609.7 1147.4,3819.8 1151.5,3575.7 1155.5,3695.1 1159.6,3684.9 1163.6,3682.1 1167.6,3551.0 1171.7,3555.7 1175.7,3728.5 1179.7,3631.7 1183.8,3600.6 1187.8,3568.9 1191.8,3666.9 1195.9,3695.2 1199.9,3586.8 1204.0,3583.7 1208.0,3616.6 1212.0,3515.5 1216.1,3674.0 1220.1,3597.7 1224.1,3521.4 1228.2,3495.6 1232.2,3575.1 1236.2,3611.0 1240.3,3595.9 1244.3,3673.0 1248.4,3685.9 1252.4,3460.3 1256.4,3785.7 1260.5,3729.6 1264.5,3582.7 1268.5,3582.3 1272.6,3636.5 1276.6,3629.0 1280.6,3611.7 1284.7,3775.8 1288.7,3650.8 1292.8,3727.8 1296.8,3761.4 1300.8,3584.3 1304.9,3516.5 1308.9,3710.7 1312.9,3677.1 1317.0,3721.7 1321.0,3627.7 1325.0,3723.5 1329.1,3673.5 1333.1,3645.6 1337.2,3735.4 1341.2,3561.3 1345.2,3682.9 1349.3,3626.2 1353.3,3800.2 1357.3,3631.2 1361.4,3651.3 1365.4,3599.7 1369.4,3629.0 1373.5,3702.7 1377.5,3452.9 1381.6,3489.0 1385.6,3717.2 1389.6,3560.9 1393.7,3516.5 1397.7,3541.4 1401.7,3696.0 1405.8,3730.6 1409.8,3501.0 1413.8,3679.4 1417.9,3829.6 1421.9,3665.4 1426.0,3650.7 1430.0,3667.6 1434.0,3688.4 1438.1,3546.9 1442.1,3497.0 1446.1,3522.0 1450.2,3563.7 1454.2,3735.4 1458.2,3846.2 1462.3,3601.0 1466.3,3559.0 1470.4,3800.2 1474.4,3641.5 1478.4,3761.1 1482.5,3612.1 1486.5,3716.0 1490.5,3740.9 1494.6,3673.7 1498.6,3560.5 1502.6,3790.4 1506.7,3685.8 1510.7,3815.1 1514.8,3772.3 1518.8,3716.8 1522.8,3745.2 1526.9,3659.4 1530.9,3824.7 1534.9,3796.9 1539.0,3763.6 1543.0,3560.5 1547.1,3626.4 1551.1,3705.7 1555.1,3702.0 1559.2,3751.3 1563.2,3692.3 1567.2,3594.8 1571.3,3617.6 1575.3,3661.5 1579.3,3682.8 1583.4,3640.7 1587.4,3374.7 1591.5,3638.7 1595.5,3558.7 1599.5,3519.5 1603.6,3553.9 1607.6,3603.9 1611.6,3595.2 1615.7,3457.8 1619.7,3541.4 1623.7,3591.2 1627.8,3575.2 1631.8,3592.8 1635.9,3609.0 1639.9,3577.6 1643.9,3535.3 1648.0,3380.6 1652.0,3761.1 1656.0,3716.3 1660.1,3656.7 1664.1,3529.4 1668.1,3401.6 1672.2,3376.7 1676.2,3648.0 1680.3,3484.4 1684.3,3404.5 1688.3,3481.3 1692.4,3396.7 1696.4,3437.5 1700.4,3382.0 1704.5,3510.4 1708.5,3617.0 1712.5,3484.4 1716.6,3627.5 1720.6,3552.3 1724.7,3434.7 1728.7,3442.5 1732.7,3343.0 1736.8,3557.5 1740.8,3597.3 1744.8,3408.9 1748.9,3497.9 1752.9,3583.5 1756.9,3626.6" stroke="#b4d6fa" stroke-width="3.8" />
<polyline points="223.1,3486.3 227.1,3486.0 231.2,3486.3 235.2,3486.3 239.2,3486.5 243.3,3486.3 247.3,3485.8 251.4,3486.1 255.4,3485.8 259.4,3486.1 263.5,3486.1 267.5,3486.1 271.5,3486.8 275.6,3485.9 279.6,3486.0 283.6,3486.0 287.7,3486.8 291.7,3486.8 295.8,3486.5 299.8,3486.4 303.8,3486.1 307.9,3486.2 311.9,3486.0 315.9,3486.4 320.0,3486.1 324.0,3488.2 328.0,3496.2 332.1,3506.1 336.1,3493.7 340.2,3489.4 344.2,3492.9 348.2,3493.6 352.3,3490.5 356.3,3487.4 360.3,3494.6 364.4,3502.8 368.4,3511.1 372.4,3506.3 376.5,3507.5 380.5,3522.5 384.6,3535.0 388.6,3541.2 392.6,3545.1 396.7,3560.6 400.7,3511.3 404.7,3502.8 408.8,3493.2 412.8,3488.3 416.8,3488.2 420.9,3492.2 424.9,3511.1 429.0,3505.1 433.0,3497.8 437.0,3488.3 441.1,3487.9 445.1,3487.8 449.1,3487.7 453.2,3488.0 457.2,3489.0 461.2,3490.7 465.3,3490.8 469.3,3490.8 473.4,3490.3 477.4,3490.2 481.4,3493.9 485.5,3498.3 489.5,3500.4 493.5,3506.4 497.6,3511.7 501.6,3501.0 505.7,3496.5 509.7,3496.8 513.7,3493.3 517.8,3489.0 521.8,3488.0 525.8,3490.5 529.9,3506.0 533.9,3511.9 537.9,3516.6 542.0,3512.4 546.0,3508.3 550.1,3505.6 554.1,3498.5 558.1,3487.9 562.2,3487.8 566.2,3487.6 570.2,3488.1 574.3,3486.9 578.3,3486.9 582.3,3486.8 586.4,3487.5 590.4,3486.8 594.5,3486.1 598.5,3486.8 602.5,3486.3 606.6,3485.9 610.6,3486.6 614.6,3485.7 618.7,3486.0 622.7,3486.2 626.7,3486.1 630.8,3486.0 634.8,3486.2 638.9,3485.8 642.9,3486.4 646.9,3486.3 651.0,3485.8 655.0,3486.2 659.0,3486.5 663.1,3485.9 667.1,3485.7 671.1,3486.3 675.2,3486.7 679.2,3486.2 683.3,3486.2 687.3,3486.3 691.3,3485.7 695.4,3486.5 699.4,3486.2 703.4,3488.2 707.5,3489.2 711.5,3489.8 715.5,3490.6 719.6,3491.7 723.6,3500.7 727.7,3509.7 731.7,3518.1 735.7,3525.4 739.8,3531.3 743.8,3520.2 747.8,3517.6 751.9,3515.2 755.9,3492.7 759.9,3488.2 764.0,3486.3 768.0,3486.1 772.1,3486.3 776.1,3486.3 780.1,3486.2 784.2,3485.9 788.2,3488.2 792.2,3491.2 796.3,3498.6 800.3,3509.5 804.3,3507.8 808.4,3506.4 812.4,3512.3 816.5,3517.3 820.5,3520.2 824.5,3521.2 828.6,3521.3 832.6,3505.3 836.6,3490.3 840.7,3489.0 844.7,3487.7 848.7,3495.9 852.8,3495.3 856.8,3488.2 860.9,3493.9 864.9,3496.1 868.9,3490.2 873.0,3487.6 877.0,3487.4 881.0,3487.3 885.1,3487.5 889.1,3487.3 893.1,3490.2 897.2,3493.3 901.2,3499.1 905.3,3508.5 909.3,3513.7 913.3,3535.9 917.4,3532.6 921.4,3560.7 925.4,3561.6 929.5,3574.9 933.5,3566.5 937.5,3568.6 941.6,3588.3 945.6,3582.3 949.7,3570.8 953.7,3590.3 957.7,3603.3 961.8,3583.3 965.8,3575.3 969.8,3572.2 973.9,3552.6 977.9,3580.2 981.9,3566.2 986.0,3567.5 990.0,3564.7 994.1,3562.9 998.1,3584.6 1002.1,3587.6 1006.2,3593.3 1010.2,3594.1 1014.2,3585.9 1018.3,3594.2 1022.3,3595.0 1026.4,3619.8 1030.4,3600.1 1034.4,3595.3 1038.5,3589.8 1042.5,3604.8 1046.5,3608.8 1050.6,3618.5 1054.6,3607.8 1058.6,3629.2 1062.7,3642.0 1066.7,3605.4 1070.8,3596.9 1074.8,3604.7 1078.8,3616.8 1082.9,3602.5 1086.9,3613.2 1090.9,3610.8 1095.0,3597.6 1099.0,3588.5 1103.0,3573.9 1107.1,3590.0 1111.1,3577.0 1115.2,3570.1 1119.2,3571.0 1123.2,3588.1 1127.3,3604.4 1131.3,3613.5 1135.3,3640.3 1139.4,3651.0 1143.4,3647.9 1147.4,3652.5 1151.5,3657.6 1155.5,3638.2 1159.6,3642.0 1163.6,3639.6 1167.6,3651.3 1171.7,3655.8 1175.7,3651.2 1179.7,3643.3 1183.8,3644.8 1187.8,3633.8 1191.8,3638.1 1195.9,3628.1 1199.9,3633.5 1204.0,3641.5 1208.0,3666.0 1212.0,3659.5 1216.1,3668.0 1220.1,3664.1 1224.1,3676.1 1228.2,3655.0 1232.2,3663.5 1236.2,3658.6 1240.3,3660.9 1244.3,3652.9 1248.4,3649.2 1252.4,3646.2 1256.4,3642.1 1260.5,3649.5 1264.5,3642.5 1268.5,3651.3 1272.6,3652.6 1276.6,3648.8 1280.6,3643.2 1284.7,3630.9 1288.7,3642.2 1292.8,3632.7 1296.8,3622.9 1300.8,3628.3 1304.9,3639.8 1308.9,3635.2 1312.9,3637.8 1317.0,3651.3 1321.0,3657.8 1325.0,3649.4 1329.1,3637.5 1333.1,3645.4 1337.2,3648.9 1341.2,3652.2 1345.2,3650.2 1349.3,3630.2 1353.3,3636.4 1357.3,3636.3 1361.4,3659.6 1365.4,3645.6 1369.4,3650.6 1373.5,3655.7 1377.5,3638.2 1381.6,3651.2 1385.6,3670.7 1389.6,3667.4 1393.7,3653.4 1397.7,3655.8 1401.7,3649.7 1405.8,3646.9 1409.8,3644.4 1413.8,3644.5 1417.9,3636.2 1421.9,3644.3 1426.0,3653.6 1430.0,3675.1 1434.0,3657.2 1438.1,3639.4 1442.1,3642.6 1446.1,3639.7 1450.2,3635.2 1454.2,3663.1 1458.2,3650.4 1462.3,3643.5 1466.3,3662.6 1470.4,3646.3 1474.4,3633.8 1478.4,3645.2 1482.5,3642.8 1486.5,3643.8 1490.5,3648.6 1494.6,3642.7 1498.6,3648.3 1502.6,3648.0 1506.7,3653.1 1510.7,3653.4 1514.8,3656.5 1518.8,3650.3 1522.8,3640.7 1526.9,3644.1 1530.9,3652.2 1534.9,3653.1 1539.0,3622.5 1543.0,3632.7 1547.1,3637.8 1551.1,3667.1 1555.1,3659.5 1559.2,3664.8 1563.2,3644.6 1567.2,3646.2 1571.3,3644.0 1575.3,3633.5 1579.3,3642.9 1583.4,3617.5 1587.4,3642.0 1591.5,3657.3 1595.5,3649.5 1599.5,3638.8 1603.6,3652.9 1607.6,3648.1 1611.6,3637.2 1615.7,3637.5 1619.7,3654.7 1623.7,3658.7 1627.8,3636.9 1631.8,3641.3 1635.9,3651.3 1639.9,3643.3 1643.9,3634.0 1648.0,3651.0 1652.0,3648.9 1656.0,3637.0 1660.1,3646.2 1664.1,3640.7 1668.1,3658.4 1672.2,3650.1 1676.2,3646.5 1680.3,3645.3 1684.3,3657.3 1688.3,3662.7 1692.4,3660.7 1696.4,3647.8 1700.4,3641.2 1704.5,3646.7 1708.5,3642.2 1712.5,3641.4 1716.6,3653.5 1720.6,3660.7 1724.7,3659.5 1728.7,3654.0 1732.7,3659.3 1736.8,3667.3 1740.8,3677.1 1744.8,3671.9 1748.9,3667.9 1752.9,3674.9 1756.9,3664.3" stroke="#fb4141" stroke-width="10.5" />
<path d="M223.1 3487.2H1836.4" stroke="#505050" stroke-width="2" fill="none"/>
<polyline points="223.1,3604.7 227.1,3592.9 231.2,3609.5 235.2,3617.0 239.2,3601.8 243.3,3599.0 247.3,3600.7 251.3,3599.6 255.4,3604.1 259.4,3607.5 263.4,3608.6 267.5,3577.7 271.5,3605.7 275.5,3596.0 279.6,3614.3 283.6,3611.9 287.6,3597.5 291.7,3602.8 295.7,3594.3 299.7,3591.4 303.8,3598.3 307.8,3615.4 311.8,3597.5 315.9,3613.8 319.9,3590.7 323.9,3607.0 328.0,3603.5 332.0,3588.6 336.0,3615.0 340.1,3601.8 344.1,3609.8 348.1,3614.3 352.2,3607.7 356.2,3596.8 360.2,3604.0 364.3,3599.1 368.3,3596.9 372.3,3614.3 376.4,3591.2 380.4,3603.3 384.4,3613.7 388.5,3606.3 392.5,3594.9 396.5,3593.9 400.6,3606.4 404.6,3600.5 408.6,3599.4 412.7,3593.5 416.7,3602.1 420.7,3593.8 424.8,3607.6 428.8,3606.3 432.8,3596.0 436.9,3595.5 440.9,3601.2 444.9,3596.3 449.0,3599.2 453.0,3595.0 457.0,3592.0 461.1,3596.7 465.1,3614.3 469.1,3603.4 473.2,3604.6 477.2,3617.9 481.2,3597.3 485.3,3600.1 489.3,3596.3 493.3,3614.2 497.4,3603.8 501.4,3604.3 505.4,3613.5 509.5,3593.3 513.5,3590.9 517.5,3609.4 521.6,3596.6 525.6,3587.0 529.6,3608.9 533.7,3592.4 537.7,3587.9 541.7,3585.8 545.8,3609.8 549.8,3560.5 553.8,3598.0 557.9,3590.5 561.9,3608.8 565.9,3605.0 570.0,3607.7 574.0,3591.1 578.0,3603.4 582.1,3594.9 586.1,3575.2 590.1,3590.5 594.2,3596.0 598.2,3596.5 602.2,3590.3 606.3,3595.4 610.3,3608.3 614.3,3602.9 618.4,3592.0 622.4,3597.7 626.4,3601.4 630.5,3596.8 634.5,3577.5 638.5,3598.9 642.6,3594.9 646.6,3595.0 650.6,3600.4 654.7,3616.8 658.7,3591.8 662.7,3595.2 666.8,3608.2 670.8,3588.6 674.8,3592.2 678.9,3598.5 682.9,3618.0 686.9,3598.2 691.0,3606.8 695.0,3614.3 699.0,3601.4 703.1,3603.7 707.1,3589.8 711.1,3596.5 715.2,3588.1 719.2,3604.5 723.2,3598.6 727.3,3586.9 731.3,3594.6 735.3,3602.4 739.4,3575.2 743.4,3601.3 747.4,3597.4 751.5,3591.6 755.5,3595.6 759.5,3591.0 763.6,3590.3 767.6,3595.6 771.6,3586.7 775.7,3590.8 779.7,3597.7 783.7,3597.5 787.8,3596.3 791.8,3601.6 795.8,3606.1 799.9,3595.7 803.9,3599.8 807.9,3591.5 812.0,3560.5 816.0,3595.0 820.0,3594.2 824.1,3599.1 828.1,3594.1 832.1,3600.9 836.2,3598.6 840.2,3589.3 844.2,3592.4 848.3,3595.3 852.3,3601.1 856.3,3589.9 860.4,3580.1 864.4,3611.3 868.4,3587.0 872.5,3593.2 876.5,3586.5 880.5,3609.5 884.6,3602.3 888.6,3581.5 890.6,3595.0 892.6,3608.2 894.6,3609.9 896.6,3598.6 898.7,3591.2 900.7,3590.7 902.7,3591.9 904.7,3584.8 906.7,3574.2 908.7,3582.2 910.7,3569.6 912.8,3568.7 914.8,3565.8 916.8,3561.7 918.8,3563.8 920.8,3559.1 922.8,3548.5 924.9,3554.1 926.9,3551.2 928.9,3552.1 930.9,3545.4 932.9,3537.8 934.9,3533.7 936.9,3534.1 939.0,3532.1 941.0,3530.3 943.0,3530.3 945.0,3529.0 947.0,3534.8 949.0,3531.4 951.0,3535.0 953.1,3539.0 955.1,3535.7 957.1,3529.5 959.1,3528.5 961.1,3529.4 963.1,3525.6 965.1,3522.7 967.2,3527.2 969.2,3530.8 971.2,3542.9 973.2,3540.5 975.2,3539.2 977.2,3543.2 979.3,3539.4 981.3,3553.5 983.3,3557.1 985.3,3561.7 987.3,3561.2 989.3,3546.7 991.3,3532.7 993.4,3530.9 995.4,3529.9 997.4,3526.8 999.4,3522.5 1001.4,3530.2 1003.4,3527.5 1005.4,3536.5 1007.5,3536.8 1009.5,3536.0 1011.5,3527.4 1013.5,3525.2 1015.5,3520.7 1017.5,3518.8 1019.5,3512.8 1021.6,3504.4 1023.6,3514.9 1025.6,3508.0 1027.6,3515.0 1029.6,3523.3 1031.6,3528.4 1033.6,3516.7 1035.7,3521.5 1037.7,3517.7 1039.7,3517.7 1041.7,3512.5 1043.7,3498.7 1045.7,3507.6 1047.8,3521.6 1049.8,3522.6 1051.8,3508.8 1053.8,3503.6 1055.8,3493.1 1057.8,3480.5 1059.8,3485.5 1061.9,3495.1 1063.9,3505.6 1065.9,3508.2 1067.9,3521.1 1069.9,3529.5 1071.9,3521.2 1073.9,3530.1 1076.0,3523.8 1078.0,3522.0 1080.0,3525.1 1082.0,3526.7 1084.0,3526.9 1086.0,3527.3 1088.0,3523.6 1090.1,3513.3 1092.1,3499.9 1094.1,3503.6 1096.1,3516.2 1098.1,3522.3 1100.1,3534.4 1102.2,3537.4 1104.2,3535.8 1106.2,3528.9 1108.2,3539.0 1110.2,3546.2 1112.2,3541.1 1114.2,3545.3 1116.3,3537.3 1118.3,3530.3 1120.3,3532.6 1122.3,3531.6 1124.3,3536.3 1126.3,3528.3 1128.3,3524.8 1130.4,3510.9 1132.4,3492.2 1134.4,3501.5 1136.4,3493.9 1138.4,3491.4 1140.4,3484.7 1142.4,3478.6 1144.5,3469.2 1146.5,3473.0 1148.5,3472.6 1150.5,3479.6 1152.5,3473.3 1154.5,3481.8 1156.5,3479.8 1158.6,3492.4 1160.6,3495.3 1162.6,3496.8 1164.6,3489.9 1166.6,3486.3 1168.6,3480.3 1170.7,3483.6 1172.7,3486.6 1174.7,3486.8 1176.7,3488.0 1178.7,3487.0 1180.7,3486.1 1182.7,3485.1 1184.8,3470.2 1186.8,3481.3 1188.8,3483.9 1190.8,3477.0 1192.8,3480.9 1194.8,3487.1 1196.8,3487.6 1198.9,3490.2 1200.9,3504.4 1202.9,3491.7 1204.9,3490.9 1206.9,3484.6 1208.9,3487.0 1210.9,3475.8 1213.0,3477.8 1215.0,3492.2 1217.0,3477.4 1219.0,3477.1 1221.0,3487.3 1223.0,3480.2 1225.1,3481.7 1227.1,3479.6 1229.1,3483.3 1231.1,3477.0 1233.1,3476.1 1235.1,3478.9 1237.1,3478.2 1239.2,3484.1 1241.2,3478.6 1243.2,3490.1 1245.2,3489.7 1247.2,3497.4 1249.2,3488.8 1251.2,3490.4 1253.3,3474.5 1255.3,3477.2 1257.3,3481.9 1259.3,3483.6 1261.3,3491.3 1263.3,3483.5 1265.3,3493.6 1267.4,3487.2 1269.4,3498.5 1271.4,3497.9 1273.4,3493.2 1275.4,3502.4 1277.4,3490.9 1279.4,3495.2 1281.5,3490.1 1283.5,3477.0 1285.5,3484.6 1287.5,3492.4 1289.5,3506.4 1291.5,3510.8 1293.6,3505.2 1295.6,3507.0 1297.6,3491.1 1299.6,3486.1 1301.6,3490.4 1303.6,3500.7 1305.6,3500.1 1307.7,3500.3 1309.7,3490.2 1311.7,3487.0 1313.7,3489.5 1315.7,3485.3 1317.7,3481.7 1319.7,3476.7 1321.8,3480.0 1323.8,3479.5 1325.8,3474.8 1327.8,3477.9 1329.8,3480.0 1331.8,3478.8 1333.8,3472.2 1335.9,3469.4 1337.9,3475.9 1339.9,3472.3 1341.9,3480.1 1343.9,3490.5 1345.9,3491.7 1348.0,3492.7 1350.0,3494.0 1352.0,3491.3 1354.0,3491.1 1356.0,3486.5 1358.0,3481.0 1360.0,3480.8 1362.1,3488.4 1364.1,3489.4 1366.1,3496.8 1368.1,3503.2 1370.1,3491.3 1372.1,3496.2 1374.1,3485.3 1376.2,3492.0 1378.2,3483.6 1380.2,3487.4 1382.2,3481.0 1384.2,3483.1 1386.2,3487.7 1388.2,3477.2 1390.3,3469.1 1392.3,3463.4 1394.3,3467.9 1396.3,3480.1 1398.3,3475.5 1400.3,3493.7 1402.3,3488.6 1404.4,3490.7 1406.4,3482.2 1408.4,3487.0 1410.4,3484.0 1412.4,3494.2 1414.4,3483.2 1416.5,3490.3 1418.5,3487.8 1420.5,3488.8 1422.5,3492.0 1424.5,3490.0 1426.5,3486.0 1428.5,3489.1 1430.6,3481.4 1432.6,3474.5 1434.6,3465.5 1436.6,3470.6 1438.6,3477.9 1440.6,3494.9 1442.6,3495.4 1444.7,3493.3 1446.7,3498.3 1448.7,3496.6 1450.7,3484.5 1452.7,3484.1 1454.7,3486.3 1456.7,3480.4 1458.8,3479.4 1460.8,3473.7 1462.8,3473.1 1464.8,3469.9 1466.8,3468.8 1468.8,3473.0 1470.9,3477.1 1472.9,3485.6 1474.9,3486.3 1476.9,3495.8 1478.9,3497.4 1480.9,3493.6 1482.9,3496.5 1485.0,3489.4 1487.0,3498.3 1489.0,3488.2 1491.0,3492.5 1493.0,3490.6 1495.0,3490.5 1497.0,3486.1 1499.1,3482.7 1501.1,3486.0 1503.1,3479.6 1505.1,3479.8 1507.1,3471.3 1509.1,3469.3 1511.1,3473.2 1513.2,3488.5 1515.2,3492.8 1517.2,3484.9 1519.2,3490.4 1521.2,3487.1 1523.2,3484.0 1525.2,3481.0 1527.3,3474.9 1529.3,3486.2 1531.3,3493.5 1533.3,3505.3 1535.3,3498.0 1537.3,3490.5 1539.4,3490.8 1541.4,3486.6 1543.4,3490.0 1545.4,3486.0 1547.4,3490.6 1549.4,3487.9 1551.4,3476.0 1553.5,3466.6 1555.5,3467.5 1557.5,3466.0 1559.5,3471.5 1561.5,3476.7 1563.5,3481.2 1565.5,3480.9 1567.6,3485.5 1569.6,3489.4 1571.6,3490.1 1573.6,3501.3 1575.6,3494.4 1577.6,3485.4 1579.6,3496.4 1581.7,3493.9 1583.7,3489.5 1585.7,3485.5 1587.7,3489.4 1589.7,3489.9 1591.7,3476.3 1593.8,3488.2 1595.8,3479.2 1597.8,3477.6 1599.8,3487.5 1601.8,3476.8 1603.8,3478.3 1605.8,3496.7 1607.9,3497.7 1609.9,3502.4 1611.9,3504.0 1613.9,3507.3 1615.9,3499.6 1617.9,3495.2 1619.9,3492.9 1622.0,3502.9 1624.0,3499.8 1626.0,3502.5 1628.0,3498.7 1630.0,3499.3 1632.0,3493.7 1634.0,3487.4 1636.1,3490.8 1638.1,3493.6 1640.1,3499.6 1642.1,3497.7 1644.1,3503.5 1646.1,3497.3 1648.1,3487.8 1650.2,3495.1 1652.2,3486.1 1654.2,3490.3 1656.2,3487.9 1658.2,3482.4 1660.2,3492.2 1662.3,3502.4 1664.3,3497.2 1666.3,3504.0 1668.3,3497.0 1670.3,3485.3 1672.3,3485.9 1674.3,3491.5 1676.4,3487.9 1678.4,3500.6 1680.4,3506.2 1682.4,3489.0 1684.4,3497.7 1686.4,3499.4 1688.4,3487.7 1690.5,3489.8 1692.5,3489.2 1694.5,3493.7 1696.5,3494.1 1698.5,3485.9 1700.5,3485.9 1702.5,3484.2 1704.6,3474.0 1706.6,3470.9 1708.6,3457.7 1710.6,3455.2 1712.6,3465.5 1714.6,3475.9 1716.6,3481.2 1718.7,3484.1 1720.7,3485.2 1722.7,3488.8 1724.7,3472.9 1726.7,3482.2 1728.7,3482.8 1730.8,3493.7 1732.8,3494.9 1734.8,3492.8 1736.8,3490.3 1738.8,3487.6 1740.8,3479.9 1742.8,3478.3 1744.9,3484.8 1746.9,3487.4 1748.9,3477.8 1750.9,3475.3 1752.9,3492.1 1754.9,3495.0 1756.9,3501.2" stroke="#505050" stroke-width="10.5" />
<polyline points="223.1,3491.1 227.1,3491.0 231.2,3491.2 235.2,3491.1 239.2,3491.0 243.3,3491.1 247.3,3491.2 251.4,3491.1 255.4,3491.0 259.4,3491.1 263.5,3491.2 267.5,3491.0 271.5,3491.2 275.6,3491.8 279.6,3493.3 283.6,3494.7 287.7,3495.8 291.7,3497.7 295.8,3498.5 299.8,3500.1 303.8,3500.1 307.9,3501.9 311.9,3502.1 315.9,3503.7 320.0,3508.1 324.0,3513.7 328.0,3516.9 332.1,3523.5 336.1,3530.6 340.2,3535.9 344.2,3544.8 348.2,3550.0 352.3,3553.2 356.3,3555.8 360.3,3555.5 364.4,3557.6 368.4,3556.6 372.4,3560.3 376.5,3564.8 380.5,3566.9 384.6,3571.4 388.6,3568.6 392.6,3565.8 396.7,3567.0 400.7,3570.3 404.7,3570.0 408.8,3572.7 412.8,3571.0 416.8,3571.9 420.9,3569.1 424.9,3563.5 429.0,3561.4 433.0,3560.3 437.0,3555.9 441.1,3556.5 445.1,3554.7 449.1,3554.6 453.2,3552.5 457.2,3553.6 461.2,3557.9 465.3,3561.3 469.3,3561.2 473.4,3560.7 477.4,3558.4 481.4,3556.9 485.5,3556.8 489.5,3560.9 493.5,3564.6 497.6,3568.5 501.6,3572.0 505.7,3573.2 509.7,3575.4 513.7,3573.1 517.8,3573.4 521.8,3571.5 525.8,3568.4 529.9,3568.6 533.9,3566.8 537.9,3560.0 542.0,3553.1 546.0,3551.0 550.1,3545.9 554.1,3540.2 558.1,3537.2 562.2,3531.4 566.2,3528.6 570.2,3527.6 574.3,3527.2 578.3,3525.1 582.3,3519.9 586.4,3516.3 590.4,3509.0 594.5,3503.0 598.5,3494.5 602.5,3490.8 606.6,3490.8 610.6,3490.4 614.6,3490.3 618.7,3490.0 622.7,3489.7 626.7,3489.5 630.8,3489.2 634.8,3489.1 638.9,3488.7 642.9,3488.5 646.9,3488.3 651.0,3489.0 655.0,3490.8 659.0,3492.4 663.1,3494.5 667.1,3496.8 671.1,3500.3 675.2,3505.9 679.2,3513.6 683.3,3521.1 687.3,3530.9 691.3,3534.7 695.4,3540.4 699.4,3545.2 703.4,3551.7 707.5,3556.3 711.5,3554.5 715.5,3557.6 719.6,3557.0 723.6,3556.0 727.7,3557.3 731.7,3554.7 735.7,3556.7 739.8,3559.3 743.8,3560.8 747.8,3564.8 751.9,3567.6 755.9,3573.2 759.9,3577.1 764.0,3581.7 768.0,3584.6 772.1,3590.5 776.1,3598.9 780.1,3603.5 784.2,3598.2 788.2,3589.5 792.2,3583.8 796.3,3576.8 800.3,3572.0 804.3,3568.3 808.4,3568.0 812.4,3569.7 816.5,3571.9 820.5,3573.6 824.5,3573.0 828.6,3573.8 832.6,3574.4 836.6,3573.1 840.7,3574.1 844.7,3572.5 848.7,3573.5 852.8,3576.5 856.8,3574.2 860.9,3573.9 864.9,3573.6 868.9,3572.3 873.0,3571.1 877.0,3568.2 881.0,3568.5 885.1,3575.2 889.1,3583.9 893.1,3590.8 897.2,3596.0 901.2,3603.0 905.3,3608.2 909.3,3613.1 913.3,3619.3 917.4,3627.9 921.4,3634.7 925.4,3640.9 929.5,3649.1 933.5,3653.4 937.5,3661.9 941.6,3667.9 945.6,3671.1 949.7,3675.4 953.7,3679.3 957.7,3681.9 961.8,3686.3 965.8,3687.7 969.8,3688.8 973.9,3692.0 977.9,3691.5 981.9,3693.4 986.0,3692.2 990.0,3693.7 994.1,3693.7 998.1,3695.4 1002.1,3695.4 1006.2,3696.7 1010.2,3697.5 1014.2,3696.8 1018.3,3696.7 1022.3,3696.8 1026.4,3699.3 1030.4,3701.3 1034.4,3704.7 1038.5,3707.6 1042.5,3711.7 1046.5,3715.3 1050.6,3710.8 1054.6,3708.4 1058.6,3704.3 1062.7,3696.6 1066.7,3693.1 1070.8,3689.0 1074.8,3685.5 1078.8,3683.9 1082.9,3679.9 1086.9,3676.7 1090.9,3670.1 1095.0,3668.2 1099.0,3665.0 1103.0,3662.5 1107.1,3659.6 1111.1,3655.9 1115.2,3656.9 1119.2,3656.6 1123.2,3657.5 1127.3,3653.3 1131.3,3648.9 1135.3,3645.2 1139.4,3643.3 1143.4,3645.0 1147.4,3644.8 1151.5,3646.9 1155.5,3644.8 1159.6,3644.8 1163.6,3643.5 1167.6,3644.1 1171.7,3644.2 1175.7,3639.9 1179.7,3639.3 1183.8,3639.1 1187.8,3641.0 1191.8,3643.1 1195.9,3640.8 1199.9,3637.5 1204.0,3633.3 1208.0,3630.4 1212.0,3630.4 1216.1,3627.9 1220.1,3627.9 1224.1,3625.0 1228.2,3620.8 1232.2,3621.7 1236.2,3627.4 1240.3,3627.9 1244.3,3624.1 1248.4,3623.6 1252.4,3620.8 1256.4,3616.6 1260.5,3620.6 1264.5,3622.1 1268.5,3626.3 1272.6,3632.5 1276.6,3637.0 1280.6,3640.8 1284.7,3643.0 1288.7,3642.4 1292.8,3645.6 1296.8,3648.1 1300.8,3651.2 1304.9,3657.7 1308.9,3664.7 1312.9,3665.1 1317.0,3667.7 1321.0,3665.2 1325.0,3663.5 1329.1,3661.0 1333.1,3657.3 1337.2,3651.7 1341.2,3652.1 1345.2,3650.4 1349.3,3652.0 1353.3,3653.2 1357.3,3657.2 1361.4,3662.9 1365.4,3664.3 1369.4,3668.0 1373.5,3667.2 1377.5,3665.9 1381.6,3664.8 1385.6,3665.7 1389.6,3658.8 1393.7,3651.7 1397.7,3644.8 1401.7,3640.0 1405.8,3633.9 1409.8,3632.7 1413.8,3633.2 1417.9,3640.6 1421.9,3645.5 1426.0,3651.9 1430.0,3659.0 1434.0,3660.7 1438.1,3662.4 1442.1,3665.5 1446.1,3666.3 1450.2,3662.5 1454.2,3662.9 1458.2,3669.5 1462.3,3665.7 1466.3,3662.3 1470.4,3663.1 1474.4,3666.5 1478.4,3670.0 1482.5,3674.9 1486.5,3678.9 1490.5,3683.1 1494.6,3685.3 1498.6,3690.2 1502.6,3690.6 1506.7,3694.2 1510.7,3695.8 1514.8,3698.7 1518.8,3698.0 1522.8,3698.0 1526.9,3692.5 1530.9,3686.6 1534.9,3677.9 1539.0,3671.0 1543.0,3666.9 1547.1,3667.3 1551.1,3667.6 1555.1,3659.0 1559.2,3647.3 1563.2,3638.8 1567.2,3629.8 1571.3,3622.2 1575.3,3613.2 1579.3,3606.9 1583.4,3601.4 1587.4,3600.1 1591.5,3599.6 1595.5,3598.4 1599.5,3598.9 1603.6,3600.0 1607.6,3604.6 1611.6,3601.3 1615.7,3596.3 1619.7,3588.7 1623.7,3581.3 1627.8,3571.8 1631.8,3569.8 1635.9,3575.1 1639.9,3578.3 1643.9,3570.9 1648.0,3561.1 1652.0,3555.0 1656.0,3552.6 1660.1,3550.6 1664.1,3551.2 1668.1,3550.8 1672.2,3547.2 1676.2,3545.0 1680.3,3543.1 1684.3,3541.2 1688.3,3531.7 1692.4,3527.0 1696.4,3519.2 1700.4,3512.8 1704.5,3506.8 1708.5,3502.7 1712.5,3499.6 1716.6,3506.1 1720.6,3514.5 1724.7,3519.0 1728.7,3522.3 1732.7,3526.0 1736.8,3528.8 1740.8,3535.4 1744.8,3543.6 1748.9,3550.3 1752.9,3555.6 1756.9,3559.9" stroke="#0a64dc" stroke-width="10.5" />
<polyline points="223.1,3492.1 227.1,3492.1 231.2,3492.1 235.2,3491.9 239.2,3492.1 243.3,3492.0 247.3,3492.1 251.4,3492.1 255.4,3492.0 259.4,3492.1 263.5,3492.0 267.5,3492.0 271.5,3492.0 275.6,3493.2 279.6,3495.3 283.6,3497.3 287.7,3498.6 291.7,3500.7 295.8,3501.7 299.8,3503.0 303.8,3503.8 307.9,3503.3 311.9,3504.6 315.9,3504.9 320.0,3510.3 324.0,3516.2 328.0,3521.6 332.1,3529.1 336.1,3539.5 340.2,3549.8 344.2,3560.4 348.2,3563.8 352.3,3570.7 356.3,3572.6 360.3,3578.4 364.4,3577.7 368.4,3577.3 372.4,3578.7 376.5,3583.8 380.5,3585.7 384.6,3586.2 388.6,3586.8 392.6,3588.4 396.7,3588.7 400.7,3589.7 404.7,3587.7 408.8,3588.2 412.8,3591.0 416.8,3591.9 420.9,3587.3 424.9,3582.6 429.0,3577.0 433.0,3572.9 437.0,3567.9 441.1,3565.7 445.1,3561.7 449.1,3561.1 453.2,3560.0 457.2,3559.4 461.2,3564.6 465.3,3569.6 469.3,3569.1 473.4,3569.7 477.4,3565.2 481.4,3561.9 485.5,3564.0 489.5,3570.5 493.5,3573.9 497.6,3581.4 501.6,3584.0 505.7,3587.2 509.7,3588.7 513.7,3586.2 517.8,3584.9 521.8,3585.4 525.8,3582.7 529.9,3580.6 533.9,3577.9 537.9,3572.4 542.0,3566.1 546.0,3558.8 550.1,3554.9 554.1,3547.9 558.1,3539.7 562.2,3534.4 566.2,3531.7 570.2,3533.1 574.3,3530.2 578.3,3529.8 582.3,3523.0 586.4,3518.8 590.4,3511.7 594.5,3505.3 598.5,3495.5 602.5,3491.0 606.6,3490.7 610.6,3490.4 614.6,3490.3 618.7,3490.0 622.7,3489.7 626.7,3489.5 630.8,3489.2 634.8,3489.0 638.9,3488.7 642.9,3488.5 646.9,3488.2 651.0,3489.0 655.0,3490.5 659.0,3492.2 663.1,3494.3 667.1,3496.6 671.1,3499.6 675.2,3506.2 679.2,3514.7 683.3,3522.7 687.3,3531.6 691.3,3541.6 695.4,3550.7 699.4,3556.4 703.4,3563.8 707.5,3565.0 711.5,3566.2 715.5,3568.8 719.6,3567.3 723.6,3567.1 727.7,3567.3 731.7,3565.9 735.7,3566.0 739.8,3566.8 743.8,3570.6 747.8,3574.6 751.9,3576.9 755.9,3584.1 759.9,3589.3 764.0,3596.8 768.0,3606.3 772.1,3612.9 776.1,3620.7 780.1,3625.3 784.2,3617.8 788.2,3610.4 792.2,3601.4 796.3,3593.8 800.3,3589.7 804.3,3584.5 808.4,3583.2 812.4,3585.4 816.5,3584.8 820.5,3584.5 824.5,3585.4 828.6,3587.3 832.6,3584.7 836.6,3585.8 840.7,3585.6 844.7,3587.9 848.7,3585.8 852.8,3588.4 856.8,3586.0 860.9,3587.5 864.9,3586.3 868.9,3586.0 873.0,3582.5 877.0,3584.3 881.0,3585.9 885.1,3594.8 889.1,3608.8 893.1,3619.3 897.2,3630.9 901.2,3640.8 905.3,3646.5 909.3,3656.7 913.3,3665.0 917.4,3673.8 921.4,3685.6 925.4,3698.4 929.5,3709.9 933.5,3719.0 937.5,3729.3 941.6,3738.0 945.6,3747.7 949.7,3755.2 953.7,3762.0 957.7,3770.2 961.8,3774.8 965.8,3779.2 969.8,3782.3 973.9,3785.3 977.9,3788.2 981.9,3792.4 986.0,3794.3 990.0,3795.3 994.1,3793.0 998.1,3797.4 1002.1,3797.9 1006.2,3800.8 1010.2,3804.0 1014.2,3804.0 1018.3,3805.5 1022.3,3805.6 1026.4,3809.9 1030.4,3811.5 1034.4,3818.0 1038.5,3822.6 1042.5,3829.2 1046.5,3832.5 1050.6,3830.9 1054.6,3826.8 1058.6,3823.8 1062.7,3814.6 1066.7,3810.4 1070.8,3805.3 1074.8,3804.6 1078.8,3799.0 1082.9,3796.6 1086.9,3793.3 1090.9,3789.7 1095.0,3787.6 1099.0,3788.7 1103.0,3789.3 1107.1,3789.0 1111.1,3784.6 1115.2,3782.7 1119.2,3784.3 1123.2,3789.3 1127.3,3787.8 1131.3,3787.4 1135.3,3783.3 1139.4,3778.8 1143.4,3781.1 1147.4,3783.0 1151.5,3786.4 1155.5,3791.8 1159.6,3795.9 1163.6,3797.9 1167.6,3800.9 1171.7,3803.0 1175.7,3800.2 1179.7,3800.1 1183.8,3802.5 1187.8,3806.5 1191.8,3808.2 1195.9,3808.8 1199.9,3805.4 1204.0,3801.0 1208.0,3800.3 1212.0,3797.6 1216.1,3794.0 1220.1,3792.8 1224.1,3791.8 1228.2,3786.4 1232.2,3789.3 1236.2,3793.5 1240.3,3795.3 1244.3,3791.0 1248.4,3790.2 1252.4,3784.2 1256.4,3782.6 1260.5,3781.8 1264.5,3785.2 1268.5,3786.9 1272.6,3792.9 1276.6,3796.3 1280.6,3800.9 1284.7,3803.2 1288.7,3805.9 1292.8,3804.7 1296.8,3805.4 1300.8,3808.9 1304.9,3816.9 1308.9,3821.3 1312.9,3824.5 1317.0,3820.8 1321.0,3819.8 1325.0,3821.1 1329.1,3820.7 1333.1,3816.5 1337.2,3809.1 1341.2,3808.4 1345.2,3807.5 1349.3,3809.9 1353.3,3814.9 1357.3,3818.1 1361.4,3820.8 1365.4,3824.1 1369.4,3829.1 1373.5,3827.6 1377.5,3828.7 1381.6,3827.6 1385.6,3824.8 1389.6,3819.2 1393.7,3813.6 1397.7,3807.2 1401.7,3803.3 1405.8,3800.4 1409.8,3796.3 1413.8,3797.2 1417.9,3803.4 1421.9,3812.4 1426.0,3820.6 1430.0,3827.3 1434.0,3829.0 1438.1,3827.8 1442.1,3827.1 1446.1,3824.9 1450.2,3823.2 1454.2,3825.9 1458.2,3831.0 1462.3,3830.0 1466.3,3826.9 1470.4,3825.1 1474.4,3831.6 1478.4,3834.9 1482.5,3838.6 1486.5,3843.8 1490.5,3845.7 1494.6,3850.1 1498.6,3851.0 1502.6,3856.6 1506.7,3857.0 1510.7,3861.1 1514.8,3860.7 1518.8,3861.3 1522.8,3857.9 1526.9,3856.2 1530.9,3845.0 1534.9,3838.4 1539.0,3829.4 1543.0,3830.1 1547.1,3829.5 1551.1,3833.0 1555.1,3823.4 1559.2,3813.4 1563.2,3803.2 1567.2,3793.2 1571.3,3786.5 1575.3,3775.6 1579.3,3769.7 1583.4,3761.3 1587.4,3761.8 1591.5,3758.8 1595.5,3757.4 1599.5,3759.8 1603.6,3765.0 1607.6,3768.0 1611.6,3764.6 1615.7,3760.5 1619.7,3749.6 1623.7,3740.7 1627.8,3733.5 1631.8,3731.4 1635.9,3738.9 1639.9,3741.5 1643.9,3733.6 1648.0,3725.3 1652.0,3717.3 1656.0,3717.1 1660.1,3714.7 1664.1,3713.1 1668.1,3713.7 1672.2,3710.5 1676.2,3706.5 1680.3,3703.8 1684.3,3701.0 1688.3,3695.3 1692.4,3691.4 1696.4,3683.8 1700.4,3678.6 1704.5,3672.5 1708.5,3670.6 1712.5,3669.7 1716.6,3677.2 1720.6,3684.4 1724.7,3691.3 1728.7,3694.6 1732.7,3699.1 1736.8,3701.1 1740.8,3709.9 1744.8,3719.3 1748.9,3726.5 1752.9,3734.9 1756.9,3737.6" stroke="#05ae69" stroke-width="10.5" />
<polyline points="223.1,4315.9 227.1,4317.9 231.2,4317.1 235.2,4318.0 239.2,4316.9 243.3,4316.3 247.3,4314.3 251.4,4315.7 255.4,4313.3 259.4,4314.4 263.5,4314.8 267.5,4315.8 271.5,4317.1 275.6,4315.8 279.6,4314.4 283.6,4313.8 287.7,4313.1 291.7,4310.9 295.8,4310.7 299.8,4312.8 303.8,4308.3 307.9,4307.4 311.9,4305.1 315.9,4301.3 320.0,4295.1 324.0,4292.3 328.0,4287.2 332.1,4278.7 336.1,4266.0 340.2,4259.6 344.2,4252.0 348.2,4252.3 352.3,4252.7 356.3,4250.3 360.3,4250.2 364.4,4247.7 368.4,4249.1 372.4,4249.7 376.5,4244.5 380.5,4241.0 384.6,4241.1 388.6,4244.1 392.6,4241.0 396.7,4239.2 400.7,4240.2 404.7,4241.7 408.8,4243.5 412.8,4241.5 416.8,4241.6 420.9,4246.6 424.9,4250.3 429.0,4252.5 433.0,4253.8 437.0,4256.7 441.1,4262.7 445.1,4263.3 449.1,4263.5 453.2,4259.0 457.2,4257.9 461.2,4249.5 465.3,4242.9 469.3,4243.3 473.4,4244.9 477.4,4249.3 481.4,4253.2 485.5,4249.4 489.5,4246.7 493.5,4244.0 497.6,4241.0 501.6,4238.5 505.7,4235.6 509.7,4232.2 513.7,4233.9 517.8,4236.2 521.8,4232.4 525.8,4231.9 529.9,4236.3 533.9,4244.1 537.9,4250.1 542.0,4256.2 546.0,4260.9 550.1,4265.9 554.1,4268.8 558.1,4275.0 562.2,4283.5 566.2,4287.5 570.2,4285.4 574.3,4287.3 578.3,4286.8 582.3,4285.8 586.4,4288.2 590.4,4292.0 594.5,4297.5 598.5,4306.3 602.5,4311.8 606.6,4313.8 610.6,4315.1 614.6,4317.3 618.7,4316.3 622.7,4316.7 626.7,4318.1 630.8,4315.7 634.8,4318.0 638.9,4319.5 642.9,4322.2 646.9,4323.0 651.0,4326.1 655.0,4325.4 659.0,4325.6 663.1,4322.4 667.1,4321.2 671.1,4319.9 675.2,4315.9 679.2,4312.2 683.3,4299.1 687.3,4290.3 691.3,4283.5 695.4,4274.1 699.4,4267.5 703.4,4261.5 707.5,4257.2 711.5,4259.3 715.5,4259.5 719.6,4262.0 723.6,4264.7 727.7,4264.8 731.7,4267.0 735.7,4262.2 739.8,4260.7 743.8,4257.3 747.8,4254.7 751.9,4250.9 755.9,4244.7 759.9,4241.1 764.0,4238.5 768.0,4231.8 772.1,4227.5 776.1,4216.4 780.1,4211.4 784.2,4212.3 788.2,4217.6 792.2,4226.2 796.3,4232.9 800.3,4236.5 804.3,4242.3 808.4,4245.4 812.4,4240.5 816.5,4236.2 820.5,4236.1 824.5,4234.8 828.6,4232.7 832.6,4233.4 836.6,4232.3 840.7,4230.1 844.7,4229.1 848.7,4224.4 852.8,4220.3 856.8,4217.7 860.9,4218.2 864.9,4217.6 868.9,4218.6 873.0,4217.7 877.0,4220.9 881.0,4220.7 885.1,4220.4 889.1,4215.1 893.1,4207.1 897.2,4198.3 901.2,4192.0 905.3,4187.8 909.3,4181.7 913.3,4174.7 917.4,4163.7 921.4,4152.8 925.4,4142.8 929.5,4135.2 933.5,4126.9 937.5,4118.0 941.6,4112.2 945.6,4106.0 949.7,4100.5 953.7,4096.8 957.7,4091.7 961.8,4089.2 965.8,4082.6 969.8,4080.4 973.9,4076.9 977.9,4076.6 981.9,4073.1 986.0,4069.5 990.0,4068.5 994.1,4067.8 998.1,4066.1 1002.1,4061.0 1006.2,4058.7 1010.2,4053.0 1014.2,4050.3 1018.3,4047.2 1022.3,4041.1 1026.4,4039.3 1030.4,4034.8 1034.4,4029.1 1038.5,4023.1 1042.5,4020.5 1046.5,4015.2 1050.6,4017.3 1054.6,4017.5 1058.6,4024.4 1062.7,4032.3 1066.7,4039.5 1070.8,4046.8 1074.8,4049.8 1078.8,4054.1 1082.9,4055.7 1086.9,4057.1 1090.9,4061.4 1095.0,4066.5 1099.0,4068.9 1103.0,4073.6 1107.1,4075.8 1111.1,4077.3 1115.2,4081.5 1119.2,4079.2 1123.2,4076.7 1127.3,4081.1 1131.3,4084.2 1135.3,4089.5 1139.4,4091.1 1143.4,4092.9 1147.4,4085.1 1151.5,4083.2 1155.5,4078.9 1159.6,4075.2 1163.6,4072.1 1167.6,4070.3 1171.7,4067.4 1175.7,4064.4 1179.7,4065.7 1183.8,4058.2 1187.8,4050.5 1191.8,4046.4 1195.9,4042.3 1199.9,4046.6 1204.0,4049.5 1208.0,4055.1 1212.0,4056.2 1216.1,4061.1 1220.1,4063.3 1224.1,4066.1 1228.2,4069.2 1232.2,4065.2 1236.2,4060.6 1240.3,4062.2 1244.3,4061.2 1248.4,4061.7 1252.4,4065.0 1256.4,4070.4 1260.5,4067.7 1264.5,4065.9 1268.5,4060.6 1272.6,4056.2 1276.6,4051.1 1280.6,4048.4 1284.7,4044.5 1288.7,4041.3 1292.8,4042.1 1296.8,4042.1 1300.8,4036.2 1304.9,4029.3 1308.9,4023.5 1312.9,4018.0 1317.0,4017.0 1321.0,4013.1 1325.0,4010.7 1329.1,4016.3 1333.1,4019.4 1337.2,4023.3 1341.2,4025.2 1345.2,4029.3 1349.3,4027.6 1353.3,4023.7 1357.3,4021.1 1361.4,4017.6 1365.4,4017.0 1369.4,4016.5 1373.5,4017.8 1377.5,4020.2 1381.6,4024.0 1385.6,4024.6 1389.6,4032.3 1393.7,4040.8 1397.7,4045.1 1401.7,4050.7 1405.8,4057.3 1409.8,4058.6 1413.8,4060.4 1417.9,4057.4 1421.9,4054.4 1426.0,4044.0 1430.0,4037.6 1434.0,4035.4 1438.1,4032.2 1442.1,4027.2 1446.1,4029.1 1450.2,4035.3 1454.2,4033.4 1458.2,4028.3 1462.3,4024.8 1466.3,4029.8 1470.4,4029.1 1474.4,4023.5 1478.4,4019.7 1482.5,4015.0 1486.5,4011.5 1490.5,4006.2 1494.6,4003.5 1498.6,4001.5 1502.6,3997.2 1506.7,3995.2 1510.7,3991.5 1514.8,3991.8 1518.8,3992.3 1522.8,3996.9 1526.9,4001.3 1530.9,4009.0 1534.9,4012.8 1539.0,4021.4 1543.0,4013.9 1547.1,4008.6 1551.1,4007.2 1555.1,4006.4 1559.2,4006.7 1563.2,4004.0 1567.2,4004.8 1571.3,3998.9 1575.3,3997.5 1579.3,3998.1 1583.4,3992.6 1587.4,3988.7 1591.5,3977.6 1595.5,3963.7 1599.5,3950.3 1603.6,3936.4 1607.6,3930.6 1611.6,3926.7 1615.7,3925.4 1619.7,3922.1 1623.7,3917.1 1627.8,3908.0 1631.8,3901.0 1635.9,3888.0 1639.9,3878.9 1643.9,3879.2 1648.0,3884.9 1652.0,3888.9 1656.0,3897.6 1660.1,3898.7 1664.1,3905.5 1668.1,3907.1 1672.2,3908.4 1676.2,3911.6 1680.3,3917.9 1684.3,3921.9 1688.3,3928.6 1692.4,3934.8 1696.4,3940.6 1700.4,3948.0 1704.5,3952.1 1708.5,3957.0 1712.5,3950.4 1716.6,3946.5 1720.6,3933.7 1724.7,3927.9 1728.7,3921.9 1732.7,3917.9 1736.8,3914.4 1740.8,3906.3 1744.8,3900.7 1748.9,3891.9 1752.9,3882.7 1756.9,3878.2" stroke="#c878e4" stroke-width="10.5" />
<polyline points="223.1,4428.4 227.1,4430.5 231.2,4430.1 235.2,4431.2 239.2,4430.3 243.3,4429.3 247.3,4427.0 251.4,4429.0 255.4,4428.0 259.4,4430.3 263.5,4430.8 267.5,4431.7 271.5,4433.0 275.6,4431.4 279.6,4429.9 283.6,4428.8 287.7,4427.4 291.7,4425.0 295.8,4425.2 299.8,4427.7 303.8,4422.4 307.9,4420.5 311.9,4418.0 315.9,4415.3 320.0,4410.0 324.0,4406.2 328.0,4400.1 332.1,4391.2 336.1,4378.5 340.2,4372.1 344.2,4364.5 348.2,4363.8 352.3,4363.2 356.3,4359.8 360.3,4358.7 364.4,4355.2 368.4,4356.1 372.4,4356.2 376.5,4350.3 380.5,4346.2 384.6,4346.2 388.6,4349.2 392.6,4345.8 396.7,4343.5 400.7,4344.0 404.7,4344.9 408.8,4346.3 412.8,4344.9 416.8,4345.6 420.9,4351.1 424.9,4355.5 429.0,4359.0 433.0,4361.8 437.0,4363.3 441.1,4366.8 445.1,4367.1 449.1,4368.0 453.2,4365.2 457.2,4365.6 461.2,4357.7 465.3,4351.3 469.3,4351.2 473.4,4352.9 477.4,4358.1 481.4,4362.7 485.5,4358.6 489.5,4355.5 493.5,4352.2 497.6,4348.8 501.6,4345.7 505.7,4342.1 509.7,4338.5 513.7,4340.9 517.8,4343.7 521.8,4340.0 525.8,4339.6 529.9,4343.9 533.9,4351.7 537.9,4357.7 542.0,4363.8 546.0,4368.5 550.1,4373.5 554.1,4376.4 558.1,4381.7 562.2,4389.2 566.2,4392.8 570.2,4391.2 574.3,4393.4 578.3,4392.5 582.3,4391.1 586.4,4393.4 590.4,4397.1 594.5,4403.5 598.5,4417.1 602.5,4423.7 606.6,4424.7 610.6,4425.1 614.6,4427.1 618.7,4425.9 622.7,4426.1 626.7,4427.3 630.8,4424.8 634.8,4427.1 638.9,4428.6 642.9,4431.2 646.9,4432.1 651.0,4435.4 655.0,4435.1 659.0,4435.7 663.1,4432.4 667.1,4431.2 671.1,4430.4 675.2,4426.9 679.2,4423.8 683.3,4411.3 687.3,4402.8 691.3,4396.0 695.4,4386.6 699.4,4378.0 703.4,4370.0 707.5,4364.8 711.5,4366.9 715.5,4367.1 719.6,4369.6 723.6,4372.3 727.7,4373.0 731.7,4376.0 735.7,4371.1 739.8,4369.4 743.8,4365.7 747.8,4362.7 751.9,4358.5 755.9,4352.3 759.9,4348.7 764.0,4345.5 768.0,4337.8 772.1,4332.2 776.1,4318.6 780.1,4312.1 784.2,4312.6 788.2,4318.3 792.2,4327.3 796.3,4334.8 800.3,4339.2 804.3,4345.1 808.4,4348.1 812.4,4343.2 816.5,4339.0 820.5,4338.8 824.5,4337.6 828.6,4335.4 832.6,4336.2 836.6,4335.0 840.7,4332.8 844.7,4331.8 848.7,4327.2 852.8,4323.0 856.8,4320.5 860.9,4321.0 864.9,4320.4 868.9,4322.1 873.0,4321.7 877.0,4324.1 881.0,4322.7 885.1,4320.4 889.1,4311.8 893.1,4300.3 897.2,4288.7 901.2,4279.5 905.3,4269.1 909.3,4257.0 913.3,4246.2 917.4,4232.6 921.4,4219.5 925.4,4207.6 929.5,4198.8 933.5,4190.5 937.5,4181.6 941.6,4173.8 945.6,4165.5 949.7,4158.0 953.7,4152.3 957.7,4145.3 961.8,4141.8 965.8,4134.2 969.8,4129.6 973.9,4123.0 977.9,4120.9 981.9,4118.5 986.0,4115.9 990.0,4113.2 994.1,4110.5 998.1,4106.4 1002.1,4099.6 1006.2,4096.3 1010.2,4089.8 1014.2,4088.1 1018.3,4086.0 1022.3,4080.2 1026.4,4078.4 1030.4,4073.7 1034.4,4066.9 1038.5,4060.0 1042.5,4056.5 1046.5,4050.4 1050.6,4052.1 1054.6,4051.9 1058.6,4058.6 1062.7,4066.6 1066.7,4073.9 1070.8,4082.2 1074.8,4086.2 1078.8,4092.2 1082.9,4095.9 1086.9,4098.0 1090.9,4100.3 1095.0,4103.4 1099.0,4102.9 1103.0,4104.6 1107.1,4104.4 1111.1,4104.6 1115.2,4107.7 1119.2,4106.4 1123.2,4101.9 1127.3,4100.0 1131.3,4103.5 1135.3,4109.0 1139.4,4110.0 1143.4,4111.3 1147.4,4102.9 1151.5,4100.4 1155.5,4093.1 1159.6,4086.4 1163.6,4080.8 1167.6,4076.9 1171.7,4072.2 1175.7,4068.2 1179.7,4068.4 1183.8,4060.1 1187.8,4051.6 1191.8,4047.6 1195.9,4043.7 1199.9,4048.1 1204.0,4051.0 1208.0,4056.5 1212.0,4057.3 1216.1,4062.1 1220.1,4064.3 1224.1,4067.1 1228.2,4070.2 1232.2,4066.2 1236.2,4061.6 1240.3,4063.4 1244.3,4062.5 1248.4,4063.1 1252.4,4066.2 1256.4,4071.3 1260.5,4068.7 1264.5,4066.9 1268.5,4061.6 1272.6,4057.2 1276.6,4052.0 1280.6,4049.4 1284.7,4045.5 1288.7,4042.2 1292.8,4043.1 1296.8,4043.1 1300.8,4037.2 1304.9,4030.3 1308.9,4024.5 1312.9,4018.9 1317.0,4018.0 1321.0,4014.3 1325.0,4012.2 1329.1,4017.6 1333.1,4020.5 1337.2,4024.3 1341.2,4026.1 1345.2,4030.3 1349.3,4028.6 1353.3,4024.6 1357.3,4022.1 1361.4,4018.5 1365.4,4017.9 1369.4,4017.5 1373.5,4018.7 1377.5,4021.1 1381.6,4025.0 1385.6,4025.6 1389.6,4033.3 1393.7,4041.8 1397.7,4046.3 1401.7,4052.2 1405.8,4058.8 1409.8,4060.1 1413.8,4061.8 1417.9,4058.8 1421.9,4055.9 1426.0,4045.4 1430.0,4039.1 1434.0,4036.9 1438.1,4033.7 1442.1,4028.7 1446.1,4030.5 1450.2,4036.8 1454.2,4034.9 1458.2,4029.8 1462.3,4026.3 1466.3,4031.3 1470.4,4030.6 1474.4,4024.9 1478.4,4021.1 1482.5,4016.5 1486.5,4013.0 1490.5,4007.7 1494.6,4004.9 1498.6,4003.0 1502.6,3998.7 1506.7,3996.7 1510.7,3993.0 1514.8,3993.3 1518.8,3993.7 1522.8,3998.4 1526.9,4002.8 1530.9,4010.5 1534.9,4014.3 1539.0,4022.8 1543.0,4015.4 1547.1,4010.1 1551.1,4008.6 1555.1,4007.9 1559.2,4008.2 1563.2,4005.4 1567.2,4006.2 1571.3,4000.3 1575.3,3998.9 1579.3,3999.5 1583.4,3994.0 1587.4,3990.2 1591.5,3979.5 1595.5,3966.1 1599.5,3953.3 1603.6,3939.8 1607.6,3934.0 1611.6,3930.1 1615.7,3928.8 1619.7,3925.5 1623.7,3920.5 1627.8,3911.4 1631.8,3904.4 1635.9,3891.7 1639.9,3882.8 1643.9,3883.1 1648.0,3888.8 1652.0,3892.5 1656.0,3901.1 1660.1,3902.2 1664.1,3908.9 1668.1,3910.5 1672.2,3911.8 1676.2,3915.0 1680.3,3921.3 1684.3,3925.4 1688.3,3932.0 1692.4,3938.2 1696.4,3943.7 1700.4,3950.8 1704.5,3954.4 1708.5,3959.0 1712.5,3952.6 1716.6,3948.9 1720.6,3936.1 1724.7,3930.3 1728.7,3924.4 1732.7,3920.4 1736.8,3916.9 1740.8,3908.9 1744.8,3903.6 1748.9,3895.2 1752.9,3886.2 1756.9,3882.1" stroke="#dfa007" stroke-width="10.5" />
</g>
<path d="M908.3 4611.7V3374.8" stroke="#000" stroke-width="13" stroke-dasharray="34.8 26.15" fill="none"/>
<text transform="translate(735.2 3407.9) scale(1 1.02)" text-anchor="middle" class="lb">In water</text>
<text transform="translate(1082.3 3407.9) scale(1 1.02)" text-anchor="middle" class="lb">In bilayer</text>
<text transform="translate(1156.0 4312.2) scale(1 1.0)" class="lg">CR-POPC:</text>
<text transform="translate(1521.8 4312.2) scale(1 1.0)" class="lg">CR-water:</text>
<path d="M1156.7 4350.0H1247.3" stroke="#fb4141" stroke-width="10.2" stroke-linecap="round" fill="none"/>
<text transform="translate(1259.1 4362.5) scale(1 1.0)" class="lg">VDW</text>
<path d="M1522.5 4350.0H1613.1" stroke="#505050" stroke-width="10.2" stroke-linecap="round" fill="none"/>
<text transform="translate(1624.9 4362.5) scale(1 1.0)" class="lg">VDW</text>
<path d="M1156.7 4399.0H1247.3" stroke="#0a64dc" stroke-width="10.2" stroke-linecap="round" fill="none"/>
<text transform="translate(1259.1 4412.0) scale(1 1.0)" class="lg">Electrostatic</text>
<path d="M1522.5 4399.0H1613.1" stroke="#c878e4" stroke-width="10.2" stroke-linecap="round" fill="none"/>
<text transform="translate(1624.9 4412.0) scale(1 1.0)" class="lg">Electrostatic</text>
<path d="M1156.7 4449.3H1247.3" stroke="#05ae69" stroke-width="10.2" stroke-linecap="round" fill="none"/>
<text transform="translate(1259.1 4461.5) scale(1 1.0)" class="lg">Total</text>
<path d="M1522.5 4449.3H1613.1" stroke="#dfa007" stroke-width="10.2" stroke-linecap="round" fill="none"/>
<text transform="translate(1624.9 4461.5) scale(1 1.0)" class="lg">Total</text>
<text transform="translate(1110.5 4925) scale(1 1.045)" text-anchor="middle" class="cap">(<tspan font-weight="bold">c</tspan>) CR1</text>
<path d="M223.1 3372.8V4613.1" class="ax"/>
<path d="M221.1 4611.1H1838.4" class="ax"/>
<path d="M202.1 3487.2H223.1M202.1 3712.0H223.1M202.1 3936.8H223.1M202.1 4161.5H223.1M202.1 4386.3H223.1M202.1 4611.1H223.1M212.6 3374.8H223.1M212.6 3599.6H223.1M212.6 3824.4H223.1M212.6 4049.1H223.1M212.6 4273.9H223.1M212.6 4498.7H223.1M223.1 4611.1v21M424.8 4611.1v21M626.4 4611.1v21M828.1 4611.1v21M1029.8 4611.1v21M1231.4 4611.1v21M1433.1 4611.1v21M1634.7 4611.1v21M1836.4 4611.1v21M323.9 4611.1v10.5M525.6 4611.1v10.5M727.3 4611.1v10.5M928.9 4611.1v10.5M1130.6 4611.1v10.5M1332.2 4611.1v10.5M1533.9 4611.1v10.5M1735.6 4611.1v10.5" class="ax"/>
<text transform="translate(187.1 3501.5) scale(1 1.065)" text-anchor="end" class="tk">0</text>
<text transform="translate(187.1 3726.3) scale(1 1.065)" text-anchor="end" class="tk">−100</text>
<text transform="translate(187.1 3951.1) scale(1 1.065)" text-anchor="end" class="tk">−200</text>
<text transform="translate(187.1 4175.8) scale(1 1.065)" text-anchor="end" class="tk">−300</text>
<text transform="translate(187.1 4400.6) scale(1 1.065)" text-anchor="end" class="tk">−400</text>
<text transform="translate(187.1 4625.4) scale(1 1.065)" text-anchor="end" class="tk">−500</text>
<text transform="translate(223.1 4682.6) scale(1 1.065)" text-anchor="middle" class="tk">0</text>
<text transform="translate(424.8 4682.6) scale(1 1.065)" text-anchor="middle" class="tk">50</text>
<text transform="translate(626.4 4682.6) scale(1 1.065)" text-anchor="middle" class="tk">100</text>
<text transform="translate(828.1 4682.6) scale(1 1.065)" text-anchor="middle" class="tk">150</text>
<text transform="translate(1029.8 4682.6) scale(1 1.065)" text-anchor="middle" class="tk">200</text>
<text transform="translate(1231.4 4682.6) scale(1 1.065)" text-anchor="middle" class="tk">250</text>
<text transform="translate(1433.1 4682.6) scale(1 1.065)" text-anchor="middle" class="tk">300</text>
<text transform="translate(1634.7 4682.6) scale(1 1.065)" text-anchor="middle" class="tk">350</text>
<text transform="translate(1836.4 4682.6) scale(1 1.065)" text-anchor="middle" class="tk">400</text>
<text transform="translate(1029.8 4754.5) scale(1 1.02)" text-anchor="middle" class="lb">t [ns]</text>
<text transform="translate(60.8 3993.0) rotate(-90) scale(1 1.02)" text-anchor="middle" class="lb">Energy [kcal/mol]</text>
</svg>
</body></html>
